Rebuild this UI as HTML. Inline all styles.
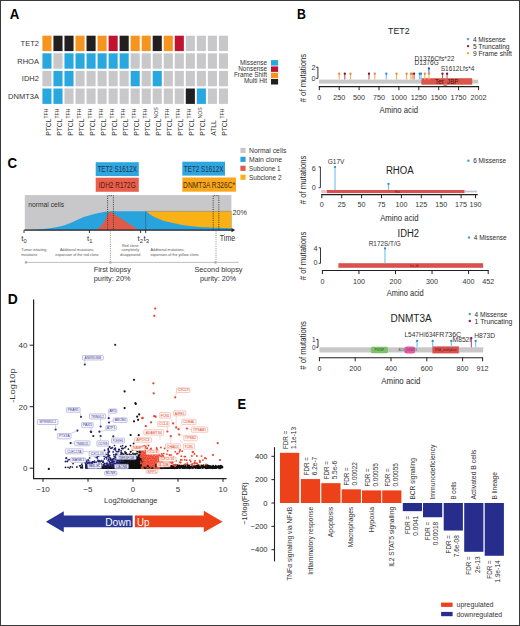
<!DOCTYPE html>
<html><head><meta charset="utf-8"><title>figure</title>
<style>
html,body{margin:0;padding:0;background:#fff;overflow:hidden;}
svg{display:block;font-family:"Liberation Sans",sans-serif;}
</style></head>
<body>
<svg width="520" height="626" viewBox="0 0 520 626">
<rect x="0" y="0" width="520" height="626" fill="#fff"/>
<g id="panelA">
<text x="9.8" y="18.75" font-size="14" font-weight="bold" textLength="9.6" lengthAdjust="spacingAndGlyphs">A</text>
<text x="38.9" y="46" font-size="7.5" text-anchor="end" fill="#333">TET2</text>
<rect x="42.4" y="35.7" width="9.1" height="15.4" fill="#f7941d"/>
<rect x="53.43" y="35.7" width="9.1" height="15.4" fill="#231f20"/>
<rect x="64.46" y="35.7" width="9.1" height="15.4" fill="#231f20"/>
<rect x="75.49" y="35.7" width="9.1" height="15.4" fill="#f7941d"/>
<rect x="86.52" y="35.7" width="9.1" height="15.4" fill="#231f20"/>
<rect x="97.55" y="35.7" width="9.1" height="15.4" fill="#f7941d"/>
<rect x="108.58" y="35.7" width="9.1" height="15.4" fill="#c1132f"/>
<rect x="119.61" y="35.7" width="9.1" height="15.4" fill="#231f20"/>
<rect x="130.64" y="35.7" width="9.1" height="15.4" fill="#f7941d"/>
<rect x="141.67" y="35.7" width="9.1" height="15.4" fill="#f7941d"/>
<rect x="152.7" y="35.7" width="9.1" height="15.4" fill="#231f20"/>
<rect x="163.73" y="35.7" width="9.1" height="15.4" fill="#f7941d"/>
<rect x="174.76" y="35.7" width="9.1" height="15.4" fill="#c1132f"/>
<rect x="185.79" y="35.7" width="9.1" height="15.4" fill="#c8c8ca"/>
<rect x="196.82" y="35.7" width="9.1" height="15.4" fill="#c8c8ca"/>
<rect x="207.85" y="35.7" width="9.1" height="15.4" fill="#c8c8ca"/>
<rect x="218.88" y="35.7" width="9.1" height="15.4" fill="#c8c8ca"/>
<text x="38.9" y="63.6" font-size="7.5" text-anchor="end" fill="#333">RHOA</text>
<rect x="42.4" y="53.3" width="9.1" height="15.4" fill="#29a8e0"/>
<rect x="53.43" y="53.3" width="9.1" height="15.4" fill="#c8c8ca"/>
<rect x="64.46" y="53.3" width="9.1" height="15.4" fill="#29a8e0"/>
<rect x="75.49" y="53.3" width="9.1" height="15.4" fill="#29a8e0"/>
<rect x="86.52" y="53.3" width="9.1" height="15.4" fill="#29a8e0"/>
<rect x="97.55" y="53.3" width="9.1" height="15.4" fill="#29a8e0"/>
<rect x="108.58" y="53.3" width="9.1" height="15.4" fill="#29a8e0"/>
<rect x="119.61" y="53.3" width="9.1" height="15.4" fill="#29a8e0"/>
<rect x="130.64" y="53.3" width="9.1" height="15.4" fill="#c8c8ca"/>
<rect x="141.67" y="53.3" width="9.1" height="15.4" fill="#c8c8ca"/>
<rect x="152.7" y="53.3" width="9.1" height="15.4" fill="#c8c8ca"/>
<rect x="163.73" y="53.3" width="9.1" height="15.4" fill="#c8c8ca"/>
<rect x="174.76" y="53.3" width="9.1" height="15.4" fill="#c8c8ca"/>
<rect x="185.79" y="53.3" width="9.1" height="15.4" fill="#c8c8ca"/>
<rect x="196.82" y="53.3" width="9.1" height="15.4" fill="#c8c8ca"/>
<rect x="207.85" y="53.3" width="9.1" height="15.4" fill="#c8c8ca"/>
<rect x="218.88" y="53.3" width="9.1" height="15.4" fill="#c8c8ca"/>
<text x="38.9" y="81.2" font-size="7.5" text-anchor="end" fill="#333">IDH2</text>
<rect x="42.4" y="70.9" width="9.1" height="15.4" fill="#c8c8ca"/>
<rect x="53.43" y="70.9" width="9.1" height="15.4" fill="#29a8e0"/>
<rect x="64.46" y="70.9" width="9.1" height="15.4" fill="#29a8e0"/>
<rect x="75.49" y="70.9" width="9.1" height="15.4" fill="#c8c8ca"/>
<rect x="86.52" y="70.9" width="9.1" height="15.4" fill="#c8c8ca"/>
<rect x="97.55" y="70.9" width="9.1" height="15.4" fill="#c8c8ca"/>
<rect x="108.58" y="70.9" width="9.1" height="15.4" fill="#c8c8ca"/>
<rect x="119.61" y="70.9" width="9.1" height="15.4" fill="#c8c8ca"/>
<rect x="130.64" y="70.9" width="9.1" height="15.4" fill="#29a8e0"/>
<rect x="141.67" y="70.9" width="9.1" height="15.4" fill="#c8c8ca"/>
<rect x="152.7" y="70.9" width="9.1" height="15.4" fill="#29a8e0"/>
<rect x="163.73" y="70.9" width="9.1" height="15.4" fill="#c8c8ca"/>
<rect x="174.76" y="70.9" width="9.1" height="15.4" fill="#c8c8ca"/>
<rect x="185.79" y="70.9" width="9.1" height="15.4" fill="#c8c8ca"/>
<rect x="196.82" y="70.9" width="9.1" height="15.4" fill="#c8c8ca"/>
<rect x="207.85" y="70.9" width="9.1" height="15.4" fill="#c8c8ca"/>
<rect x="218.88" y="70.9" width="9.1" height="15.4" fill="#c8c8ca"/>
<text x="38.9" y="98.8" font-size="7.5" text-anchor="end" fill="#333">DNMT3A</text>
<rect x="42.4" y="88.5" width="9.1" height="15.4" fill="#29a8e0"/>
<rect x="53.43" y="88.5" width="9.1" height="15.4" fill="#29a8e0"/>
<rect x="64.46" y="88.5" width="9.1" height="15.4" fill="#c8c8ca"/>
<rect x="75.49" y="88.5" width="9.1" height="15.4" fill="#c8c8ca"/>
<rect x="86.52" y="88.5" width="9.1" height="15.4" fill="#c8c8ca"/>
<rect x="97.55" y="88.5" width="9.1" height="15.4" fill="#c8c8ca"/>
<rect x="108.58" y="88.5" width="9.1" height="15.4" fill="#c8c8ca"/>
<rect x="119.61" y="88.5" width="9.1" height="15.4" fill="#c8c8ca"/>
<rect x="130.64" y="88.5" width="9.1" height="15.4" fill="#c8c8ca"/>
<rect x="141.67" y="88.5" width="9.1" height="15.4" fill="#c8c8ca"/>
<rect x="152.7" y="88.5" width="9.1" height="15.4" fill="#c8c8ca"/>
<rect x="163.73" y="88.5" width="9.1" height="15.4" fill="#c8c8ca"/>
<rect x="174.76" y="88.5" width="9.1" height="15.4" fill="#c8c8ca"/>
<rect x="185.79" y="88.5" width="9.1" height="15.4" fill="#231f20"/>
<rect x="196.82" y="88.5" width="9.1" height="15.4" fill="#29a8e0"/>
<rect x="207.85" y="88.5" width="9.1" height="15.4" fill="#c8c8ca"/>
<rect x="218.88" y="88.5" width="9.1" height="15.4" fill="#c8c8ca"/>
<text transform="translate(50.55 135.8) rotate(-90)" font-size="7" fill="#333"><tspan textLength="17.2" lengthAdjust="spacingAndGlyphs">PTCL</tspan><tspan font-size="5.2" dy="-2.6" textLength="10.2" lengthAdjust="spacingAndGlyphs">TFH</tspan></text>
<text transform="translate(61.58 135.8) rotate(-90)" font-size="7" fill="#333"><tspan textLength="17.2" lengthAdjust="spacingAndGlyphs">PTCL</tspan><tspan font-size="5.2" dy="-2.6" textLength="10.2" lengthAdjust="spacingAndGlyphs">TFH</tspan></text>
<text transform="translate(72.61 135.8) rotate(-90)" font-size="7" fill="#333"><tspan textLength="17.2" lengthAdjust="spacingAndGlyphs">PTCL</tspan><tspan font-size="5.2" dy="-2.6" textLength="10.2" lengthAdjust="spacingAndGlyphs">TFH</tspan></text>
<text transform="translate(83.64 135.8) rotate(-90)" font-size="7" fill="#333"><tspan textLength="17.2" lengthAdjust="spacingAndGlyphs">PTCL</tspan><tspan font-size="5.2" dy="-2.6" textLength="10.2" lengthAdjust="spacingAndGlyphs">TFH</tspan></text>
<text transform="translate(94.67 135.8) rotate(-90)" font-size="7" fill="#333"><tspan textLength="17.2" lengthAdjust="spacingAndGlyphs">PTCL</tspan><tspan font-size="5.2" dy="-2.6" textLength="10.2" lengthAdjust="spacingAndGlyphs">TFH</tspan></text>
<text transform="translate(105.7 135.8) rotate(-90)" font-size="7" fill="#333"><tspan textLength="17.2" lengthAdjust="spacingAndGlyphs">PTCL</tspan><tspan font-size="5.2" dy="-2.6" textLength="10.2" lengthAdjust="spacingAndGlyphs">TFH</tspan></text>
<text transform="translate(116.73 135.8) rotate(-90)" font-size="7" fill="#333"><tspan textLength="17.2" lengthAdjust="spacingAndGlyphs">PTCL</tspan><tspan font-size="5.2" dy="-2.6" textLength="10.2" lengthAdjust="spacingAndGlyphs">TFH</tspan></text>
<text transform="translate(127.76 135.8) rotate(-90)" font-size="7" fill="#333"><tspan textLength="17.2" lengthAdjust="spacingAndGlyphs">PTCL</tspan><tspan font-size="5.2" dy="-2.6" textLength="10.2" lengthAdjust="spacingAndGlyphs">TFH</tspan></text>
<text transform="translate(138.79 135.8) rotate(-90)" font-size="7" fill="#333"><tspan textLength="17.2" lengthAdjust="spacingAndGlyphs">PTCL</tspan><tspan font-size="5.2" dy="-2.6" textLength="10.2" lengthAdjust="spacingAndGlyphs">TFH</tspan></text>
<text transform="translate(149.82 135.8) rotate(-90)" font-size="7" fill="#333"><tspan textLength="17.2" lengthAdjust="spacingAndGlyphs">PTCL</tspan><tspan font-size="5.2" dy="-2.6" textLength="10.2" lengthAdjust="spacingAndGlyphs">TFH</tspan></text>
<text transform="translate(160.85 135.8) rotate(-90)" font-size="7" fill="#333"><tspan textLength="17.2" lengthAdjust="spacingAndGlyphs">PTCL</tspan><tspan font-size="5.2" dy="-2.6">NOS</tspan></text>
<text transform="translate(171.88 135.8) rotate(-90)" font-size="7" fill="#333"><tspan textLength="17.2" lengthAdjust="spacingAndGlyphs">PTCL</tspan><tspan font-size="5.2" dy="-2.6" textLength="10.2" lengthAdjust="spacingAndGlyphs">TFH</tspan></text>
<text transform="translate(182.91 135.8) rotate(-90)" font-size="7" fill="#333"><tspan textLength="17.2" lengthAdjust="spacingAndGlyphs">PTCL</tspan><tspan font-size="5.2" dy="-2.6" textLength="10.2" lengthAdjust="spacingAndGlyphs">TFH</tspan></text>
<text transform="translate(193.94 135.8) rotate(-90)" font-size="7" fill="#333"><tspan textLength="17.2" lengthAdjust="spacingAndGlyphs">PTCL</tspan><tspan font-size="5.2" dy="-2.6" textLength="10.2" lengthAdjust="spacingAndGlyphs">TFH</tspan></text>
<text transform="translate(204.97 135.8) rotate(-90)" font-size="7" fill="#333"><tspan textLength="17.2" lengthAdjust="spacingAndGlyphs">PTCL</tspan><tspan font-size="5.2" dy="-2.6">NOS</tspan></text>
<text transform="translate(216 135.8) rotate(-90)" font-size="7" fill="#333" textLength="15.5" lengthAdjust="spacingAndGlyphs">ATLL</text>
<text transform="translate(227.03 135.8) rotate(-90)" font-size="7" fill="#333"><tspan textLength="17.2" lengthAdjust="spacingAndGlyphs">PTCL</tspan><tspan font-size="5.2" dy="-2.6" textLength="10.2" lengthAdjust="spacingAndGlyphs">TFH</tspan></text>
<text x="267" y="64.6" font-size="6.4" text-anchor="end" fill="#333">Missense</text>
<text x="267" y="70.8" font-size="6.4" text-anchor="end" fill="#333">Nonsense</text>
<text x="267" y="76.7" font-size="6.4" text-anchor="end" fill="#333">Frame Shift</text>
<text x="267" y="82.7" font-size="6.4" text-anchor="end" fill="#333">Multi Hit</text>
<rect x="271" y="60.1" width="7.1" height="5.5" fill="#29a8e0"/>
<rect x="271" y="66.4" width="7.1" height="5.5" fill="#c1132f"/>
<rect x="271" y="72.7" width="7.1" height="5.5" fill="#f7941d"/>
<rect x="271" y="79" width="7.1" height="5.5" fill="#231f20"/>
</g>
<g id="panelB">
<text x="297" y="18.8" font-size="14" font-weight="bold" textLength="8.9" lengthAdjust="spacingAndGlyphs">B</text>
<text x="388.1" y="33.8" font-size="9.8" fill="#222" textLength="21.5" lengthAdjust="spacingAndGlyphs">TET2</text>
<circle cx="468.1" cy="39.1" r="1.2" fill="#3aa6dc"/>
<text x="472.9" y="41.7" font-size="7.3" fill="#2a2a2a" textLength="32.8" lengthAdjust="spacingAndGlyphs">4 Missense</text>
<circle cx="468.1" cy="46.1" r="1.2" fill="#9e1b32"/>
<text x="472.9" y="48.7" font-size="7.3" fill="#2a2a2a" textLength="36.7" lengthAdjust="spacingAndGlyphs">5 Truncating</text>
<circle cx="468.1" cy="53.1" r="1.2" fill="#f4a43a"/>
<text x="472.9" y="55.7" font-size="7.3" fill="#2a2a2a" textLength="39" lengthAdjust="spacingAndGlyphs">9 Frame shift</text>
<text transform="translate(305.6 78.1) rotate(-90)" font-size="8.8" text-anchor="middle" fill="#2a2a2a" textLength="48.5" lengthAdjust="spacingAndGlyphs"># of mutations</text>
<text x="313.5" y="70.2" font-size="7.3" text-anchor="middle" fill="#333">2</text>
<text x="313.5" y="80.9" font-size="7.3" text-anchor="middle" fill="#333">0</text>
<path d="M316.1 67.2H317.9V78.4H316.1" fill="none" stroke="#231f20" stroke-width="0.9"/>
<rect x="319" y="79.6" width="159.2" height="4" fill="#c8c8c8"/>
<rect x="421.4" y="78.2" width="50.8" height="6.5" fill="#db5548"/>
<text x="446.8" y="83.7" font-size="6.8" text-anchor="middle" fill="#4a1010" textLength="23.5" lengthAdjust="spacingAndGlyphs">Tet_JBP</text>
<line x1="318.8" y1="86.6" x2="479.1" y2="86.6" stroke="#231f20" stroke-width="1.1"/>
<line x1="319.3" y1="86.6" x2="319.3" y2="90.2" stroke="#231f20" stroke-width="1"/>
<text x="319.3" y="99.8" font-size="7.2" text-anchor="middle" fill="#333" textLength="4" lengthAdjust="spacingAndGlyphs">0</text>
<line x1="339.2" y1="86.6" x2="339.2" y2="90.2" stroke="#231f20" stroke-width="1"/>
<text x="339.2" y="99.8" font-size="7.2" text-anchor="middle" fill="#333" textLength="12" lengthAdjust="spacingAndGlyphs">250</text>
<line x1="359.1" y1="86.6" x2="359.1" y2="90.2" stroke="#231f20" stroke-width="1"/>
<text x="359.1" y="99.8" font-size="7.2" text-anchor="middle" fill="#333" textLength="12" lengthAdjust="spacingAndGlyphs">500</text>
<line x1="379" y1="86.6" x2="379" y2="90.2" stroke="#231f20" stroke-width="1"/>
<text x="379" y="99.8" font-size="7.2" text-anchor="middle" fill="#333" textLength="12" lengthAdjust="spacingAndGlyphs">750</text>
<line x1="398.9" y1="86.6" x2="398.9" y2="90.2" stroke="#231f20" stroke-width="1"/>
<text x="398.9" y="99.8" font-size="7.2" text-anchor="middle" fill="#333" textLength="16" lengthAdjust="spacingAndGlyphs">1000</text>
<line x1="418.8" y1="86.6" x2="418.8" y2="90.2" stroke="#231f20" stroke-width="1"/>
<text x="418.8" y="99.8" font-size="7.2" text-anchor="middle" fill="#333" textLength="16" lengthAdjust="spacingAndGlyphs">1250</text>
<line x1="438.7" y1="86.6" x2="438.7" y2="90.2" stroke="#231f20" stroke-width="1"/>
<text x="438.7" y="99.8" font-size="7.2" text-anchor="middle" fill="#333" textLength="16" lengthAdjust="spacingAndGlyphs">1500</text>
<line x1="458.6" y1="86.6" x2="458.6" y2="90.2" stroke="#231f20" stroke-width="1"/>
<text x="458.6" y="99.8" font-size="7.2" text-anchor="middle" fill="#333" textLength="16" lengthAdjust="spacingAndGlyphs">1750</text>
<line x1="478.6" y1="86.6" x2="478.6" y2="90.2" stroke="#231f20" stroke-width="1"/>
<text x="478.6" y="99.8" font-size="7.2" text-anchor="middle" fill="#333" textLength="16" lengthAdjust="spacingAndGlyphs">2002</text>
<text x="379.6" y="113" font-size="9.2" fill="#2a2a2a" textLength="38.4" lengthAdjust="spacingAndGlyphs">Amino acid</text>
<line x1="339.2" y1="79.6" x2="339.2" y2="74.2" stroke="#f3b46a" stroke-width="1.2"/>
<circle cx="339.2" cy="73.74" r="1.15" fill="#e08a3a"/>
<line x1="344.8" y1="79.6" x2="344.8" y2="74.2" stroke="#c46a7c" stroke-width="1.2"/>
<circle cx="344.8" cy="73.74" r="1.15" fill="#7d1424"/>
<line x1="350.5" y1="79.6" x2="350.5" y2="74.2" stroke="#f3b46a" stroke-width="1.2"/>
<circle cx="350.5" cy="73.74" r="1.15" fill="#e08a3a"/>
<line x1="369" y1="79.6" x2="369" y2="74.2" stroke="#c46a7c" stroke-width="1.2"/>
<circle cx="369" cy="73.74" r="1.15" fill="#7d1424"/>
<line x1="374.8" y1="79.6" x2="374.8" y2="74.2" stroke="#f3b46a" stroke-width="1.2"/>
<circle cx="374.8" cy="73.74" r="1.15" fill="#e08a3a"/>
<line x1="386.3" y1="79.6" x2="386.3" y2="74.2" stroke="#7cc6ec" stroke-width="1.2"/>
<circle cx="386.3" cy="73.74" r="1.15" fill="#2a8cc8"/>
<line x1="396.5" y1="79.6" x2="396.5" y2="74.2" stroke="#f3b46a" stroke-width="1.2"/>
<circle cx="396.5" cy="73.74" r="1.15" fill="#e08a3a"/>
<line x1="406.6" y1="79.6" x2="406.6" y2="74.2" stroke="#f3b46a" stroke-width="1.2"/>
<circle cx="406.6" cy="73.74" r="1.15" fill="#e08a3a"/>
<line x1="410.9" y1="79.6" x2="410.9" y2="74.2" stroke="#f3b46a" stroke-width="1.2"/>
<circle cx="410.9" cy="73.74" r="1.15" fill="#e08a3a"/>
<line x1="412.3" y1="79.6" x2="412.3" y2="74.2" stroke="#f3b46a" stroke-width="1.2"/>
<circle cx="412.3" cy="73.74" r="1.15" fill="#e08a3a"/>
<line x1="414.1" y1="79.6" x2="414.1" y2="74.2" stroke="#c46a7c" stroke-width="1.2"/>
<circle cx="414.1" cy="73.74" r="1.15" fill="#7d1424"/>
<line x1="419.6" y1="79.6" x2="419.6" y2="74.2" stroke="#7cc6ec" stroke-width="1.2"/>
<circle cx="419.6" cy="73.74" r="1.15" fill="#2a8cc8"/>
<line x1="421" y1="79.6" x2="421" y2="74.2" stroke="#7cc6ec" stroke-width="1.2"/>
<circle cx="421" cy="73.74" r="1.15" fill="#2a8cc8"/>
<line x1="424.8" y1="79.6" x2="424.8" y2="74.2" stroke="#f3b46a" stroke-width="1.2"/>
<circle cx="424.8" cy="73.74" r="1.15" fill="#e08a3a"/>
<line x1="442.5" y1="79.6" x2="442.5" y2="74.2" stroke="#c46a7c" stroke-width="1.2"/>
<circle cx="442.5" cy="73.74" r="1.15" fill="#7d1424"/>
<line x1="447.1" y1="79.6" x2="447.1" y2="74.2" stroke="#c46a7c" stroke-width="1.2"/>
<circle cx="447.1" cy="73.74" r="1.15" fill="#7d1424"/>
<line x1="428.9" y1="73.5" x2="428.9" y2="68.85" stroke="#5a86c0" stroke-width="1.2"/>
<circle cx="428.9" cy="68.39" r="1.15" fill="#2f5a96"/>
<line x1="428.9" y1="79.6" x2="428.9" y2="74.2" stroke="#f3b46a" stroke-width="1.2"/>
<circle cx="428.9" cy="73.74" r="1.15" fill="#e08a3a"/>
<text x="414.5" y="60.8" font-size="7" fill="#333" textLength="39.9" lengthAdjust="spacingAndGlyphs">D1376Cfs*22</text>
<text x="414.5" y="65.2" font-size="7" fill="#333" textLength="24.3" lengthAdjust="spacingAndGlyphs">D1376G</text>
<text x="440.7" y="70.5" font-size="7" fill="#333" textLength="33.6" lengthAdjust="spacingAndGlyphs">S1612Lfs*4</text>
<text x="385.9" y="174" font-size="10" fill="#222" textLength="27.8" lengthAdjust="spacingAndGlyphs">RHOA</text>
<circle cx="468.4" cy="160.8" r="1.2" fill="#3aa6dc"/>
<text x="473.2" y="163.4" font-size="7.3" fill="#2a2a2a" textLength="32.9" lengthAdjust="spacingAndGlyphs">6 Missense</text>
<text transform="translate(305.6 179.9) rotate(-90)" font-size="8.8" text-anchor="middle" fill="#2a2a2a" textLength="48.5" lengthAdjust="spacingAndGlyphs"># of mutations</text>
<text x="313.8" y="171.4" font-size="7.2" text-anchor="middle" fill="#333">6</text>
<text x="313.8" y="190.2" font-size="7.2" text-anchor="middle" fill="#333">0</text>
<path d="M318.6 166.9H320.4V187.7H318.6" fill="none" stroke="#231f20" stroke-width="0.9"/>
<rect x="321.2" y="190" width="6" height="3.1" fill="#e9c4c4"/>
<rect x="327" y="190" width="137.6" height="3.1" fill="#d9504e"/>
<rect x="464.6" y="190.6" width="12.4" height="1.8" fill="#c9c3d6"/>
<text x="395" y="192.6" font-size="2.8" fill="#6a1a1a">Ras</text>
<line x1="321.3" y1="194.6" x2="477.7" y2="194.6" stroke="#231f20" stroke-width="1.1"/>
<line x1="321.8" y1="194.6" x2="321.8" y2="198.2" stroke="#231f20" stroke-width="1"/>
<text x="321.8" y="207.4" font-size="7.2" text-anchor="middle" fill="#333" textLength="4" lengthAdjust="spacingAndGlyphs">0</text>
<line x1="341.7" y1="194.6" x2="341.7" y2="198.2" stroke="#231f20" stroke-width="1"/>
<text x="341.7" y="207.4" font-size="7.2" text-anchor="middle" fill="#333" textLength="8" lengthAdjust="spacingAndGlyphs">25</text>
<line x1="361.6" y1="194.6" x2="361.6" y2="198.2" stroke="#231f20" stroke-width="1"/>
<text x="361.6" y="207.4" font-size="7.2" text-anchor="middle" fill="#333" textLength="8" lengthAdjust="spacingAndGlyphs">50</text>
<line x1="381.5" y1="194.6" x2="381.5" y2="198.2" stroke="#231f20" stroke-width="1"/>
<text x="381.5" y="207.4" font-size="7.2" text-anchor="middle" fill="#333" textLength="8" lengthAdjust="spacingAndGlyphs">75</text>
<line x1="401.4" y1="194.6" x2="401.4" y2="198.2" stroke="#231f20" stroke-width="1"/>
<text x="401.4" y="207.4" font-size="7.2" text-anchor="middle" fill="#333" textLength="12" lengthAdjust="spacingAndGlyphs">100</text>
<line x1="421.3" y1="194.6" x2="421.3" y2="198.2" stroke="#231f20" stroke-width="1"/>
<text x="421.3" y="207.4" font-size="7.2" text-anchor="middle" fill="#333" textLength="12" lengthAdjust="spacingAndGlyphs">125</text>
<line x1="441.2" y1="194.6" x2="441.2" y2="198.2" stroke="#231f20" stroke-width="1"/>
<text x="441.2" y="207.4" font-size="7.2" text-anchor="middle" fill="#333" textLength="12" lengthAdjust="spacingAndGlyphs">150</text>
<line x1="461.1" y1="194.6" x2="461.1" y2="198.2" stroke="#231f20" stroke-width="1"/>
<text x="461.1" y="207.4" font-size="7.2" text-anchor="middle" fill="#333" textLength="12" lengthAdjust="spacingAndGlyphs">175</text>
<line x1="475.5" y1="194.6" x2="475.5" y2="198.2" stroke="#231f20" stroke-width="1"/>
<text x="475.5" y="207.4" font-size="7.2" text-anchor="middle" fill="#333" textLength="12" lengthAdjust="spacingAndGlyphs">190</text>
<text x="380.2" y="221" font-size="9.2" fill="#2a2a2a" textLength="38.4" lengthAdjust="spacingAndGlyphs">Amino acid</text>
<line x1="335" y1="190" x2="335" y2="167.55" stroke="#7cc6ec" stroke-width="1.2"/>
<circle cx="335" cy="167.09" r="1.15" fill="#2a8cc8"/>
<line x1="388.5" y1="190" x2="388.5" y2="184.35" stroke="#7cc6ec" stroke-width="1.2"/>
<circle cx="388.5" cy="183.89" r="1.15" fill="#2a8cc8"/>
<text x="327.7" y="164.3" font-size="7" fill="#333" textLength="16.8" lengthAdjust="spacingAndGlyphs">G17V</text>
<text x="397.5" y="236.5" font-size="10" fill="#222" textLength="21.6" lengthAdjust="spacingAndGlyphs">IDH2</text>
<circle cx="469" cy="237.5" r="1.2" fill="#3aa6dc"/>
<text x="473.8" y="240.1" font-size="7.3" fill="#2a2a2a" textLength="32.8" lengthAdjust="spacingAndGlyphs">4 Missense</text>
<text transform="translate(305.6 256) rotate(-90)" font-size="8.8" text-anchor="middle" fill="#2a2a2a" textLength="48.5" lengthAdjust="spacingAndGlyphs"># of mutations</text>
<text x="315.5" y="251.3" font-size="7.2" text-anchor="middle" fill="#333">4</text>
<text x="315.5" y="265.4" font-size="7.2" text-anchor="middle" fill="#333">0</text>
<path d="M318.7 247.8H320.5V263.3H318.7" fill="none" stroke="#231f20" stroke-width="0.9"/>
<rect x="338.4" y="263.2" width="144.7" height="4.6" fill="#d9504e"/>
<text x="410" y="266.5" font-size="3" fill="#6a1a1a">Iso_dh</text>
<line x1="321.9" y1="270.5" x2="488.7" y2="270.5" stroke="#231f20" stroke-width="1.1"/>
<line x1="322.4" y1="270.5" x2="322.4" y2="274.1" stroke="#231f20" stroke-width="1"/>
<text x="322.4" y="283.9" font-size="7.2" text-anchor="middle" fill="#333" textLength="4" lengthAdjust="spacingAndGlyphs">0</text>
<line x1="358.95" y1="270.5" x2="358.95" y2="274.1" stroke="#231f20" stroke-width="1"/>
<text x="358.95" y="283.9" font-size="7.2" text-anchor="middle" fill="#333" textLength="12" lengthAdjust="spacingAndGlyphs">100</text>
<line x1="395.5" y1="270.5" x2="395.5" y2="274.1" stroke="#231f20" stroke-width="1"/>
<text x="395.5" y="283.9" font-size="7.2" text-anchor="middle" fill="#333" textLength="12" lengthAdjust="spacingAndGlyphs">200</text>
<line x1="432.05" y1="270.5" x2="432.05" y2="274.1" stroke="#231f20" stroke-width="1"/>
<text x="432.05" y="283.9" font-size="7.2" text-anchor="middle" fill="#333" textLength="12" lengthAdjust="spacingAndGlyphs">300</text>
<line x1="468.6" y1="270.5" x2="468.6" y2="274.1" stroke="#231f20" stroke-width="1"/>
<text x="468.6" y="283.9" font-size="7.2" text-anchor="middle" fill="#333" textLength="12" lengthAdjust="spacingAndGlyphs">400</text>
<line x1="488.2" y1="270.5" x2="488.2" y2="274.1" stroke="#231f20" stroke-width="1"/>
<text x="488.2" y="283.9" font-size="7.2" text-anchor="middle" fill="#333" textLength="12" lengthAdjust="spacingAndGlyphs">452</text>
<text x="386.7" y="296" font-size="9.2" fill="#2a2a2a" textLength="37" lengthAdjust="spacingAndGlyphs">Amino acid</text>
<line x1="385" y1="263.2" x2="385" y2="248.75" stroke="#7cc6ec" stroke-width="1.2"/>
<circle cx="385" cy="248.29" r="1.15" fill="#2a8cc8"/>
<text x="368.7" y="246.3" font-size="6.6" fill="#333" textLength="32.1" lengthAdjust="spacingAndGlyphs">R172S/T/G</text>
<text x="390.5" y="321.8" font-size="10" fill="#222" textLength="41.3" lengthAdjust="spacingAndGlyphs">DNMT3A</text>
<circle cx="469.8" cy="314" r="1.2" fill="#3aa6dc"/>
<text x="474.6" y="316.6" font-size="7" fill="#2a2a2a" textLength="32.8" lengthAdjust="spacingAndGlyphs">4 Missense</text>
<circle cx="469.8" cy="321" r="1.2" fill="#a3194f"/>
<text x="474.6" y="323.6" font-size="7" fill="#2a2a2a" textLength="37.7" lengthAdjust="spacingAndGlyphs">1 Truncating</text>
<text transform="translate(305.6 345.4) rotate(-90)" font-size="8.8" text-anchor="middle" fill="#2a2a2a" textLength="48.5" lengthAdjust="spacingAndGlyphs"># of mutations</text>
<text x="313.9" y="341.8" font-size="6.4" text-anchor="middle" fill="#333">1</text>
<text x="313.9" y="349.6" font-size="6.4" text-anchor="middle" fill="#333">0</text>
<path d="M316.2 339.4H318V347.3H316.2" fill="none" stroke="#231f20" stroke-width="0.9"/>
<rect x="319.4" y="347.3" width="163.8" height="5.2" fill="#c8c8c8"/>
<rect x="370.9" y="346.8" width="17.0" height="6.4" rx="1.5" fill="#7cc26a"/>
<text x="379.4" y="351.2" font-size="3" text-anchor="middle" fill="#2c5a20">PWWP</text>
<rect x="404.4" y="346.4" width="10.8" height="7.0" rx="2.5" fill="#e85aa0"/>
<text x="398.6" y="351" font-size="3" fill="#555">ADD_DNMT3</text>
<rect x="432.4" y="346.4" width="26.4" height="7" fill="#d9504e"/>
<text x="445.6" y="351" font-size="3" text-anchor="middle" fill="#6a1a1a">DNA_methylase</text>
<line x1="318.9" y1="357.7" x2="483.1" y2="357.7" stroke="#231f20" stroke-width="1.1"/>
<line x1="319.4" y1="357.7" x2="319.4" y2="361.3" stroke="#231f20" stroke-width="1"/>
<text x="319.4" y="370.6" font-size="7.2" text-anchor="middle" fill="#333" textLength="4" lengthAdjust="spacingAndGlyphs">0</text>
<line x1="355.2" y1="357.7" x2="355.2" y2="361.3" stroke="#231f20" stroke-width="1"/>
<text x="355.2" y="370.6" font-size="7.2" text-anchor="middle" fill="#333" textLength="12" lengthAdjust="spacingAndGlyphs">200</text>
<line x1="391" y1="357.7" x2="391" y2="361.3" stroke="#231f20" stroke-width="1"/>
<text x="391" y="370.6" font-size="7.2" text-anchor="middle" fill="#333" textLength="12" lengthAdjust="spacingAndGlyphs">400</text>
<line x1="426.8" y1="357.7" x2="426.8" y2="361.3" stroke="#231f20" stroke-width="1"/>
<text x="426.8" y="370.6" font-size="7.2" text-anchor="middle" fill="#333" textLength="12" lengthAdjust="spacingAndGlyphs">600</text>
<line x1="462.6" y1="357.7" x2="462.6" y2="361.3" stroke="#231f20" stroke-width="1"/>
<text x="462.6" y="370.6" font-size="7.2" text-anchor="middle" fill="#333" textLength="12" lengthAdjust="spacingAndGlyphs">800</text>
<line x1="482.6" y1="357.7" x2="482.6" y2="361.3" stroke="#231f20" stroke-width="1"/>
<text x="482.6" y="370.6" font-size="7.2" text-anchor="middle" fill="#333" textLength="12" lengthAdjust="spacingAndGlyphs">912</text>
<text x="381.3" y="384.2" font-size="9.2" fill="#2a2a2a" textLength="39.1" lengthAdjust="spacingAndGlyphs">Amino acid</text>
<line x1="417.1" y1="347.3" x2="417.1" y2="341.35" stroke="#7cc6ec" stroke-width="1.2"/>
<circle cx="417.1" cy="340.89" r="1.15" fill="#2a8cc8"/>
<line x1="432.7" y1="347.3" x2="432.7" y2="341.35" stroke="#7cc6ec" stroke-width="1.2"/>
<circle cx="432.7" cy="340.89" r="1.15" fill="#2a8cc8"/>
<line x1="451.3" y1="347.3" x2="451.3" y2="341.35" stroke="#7cc6ec" stroke-width="1.2"/>
<circle cx="451.3" cy="340.89" r="1.15" fill="#2a8cc8"/>
<line x1="475.7" y1="347.3" x2="475.7" y2="341.35" stroke="#7cc6ec" stroke-width="1.2"/>
<circle cx="475.7" cy="340.89" r="1.15" fill="#2a8cc8"/>
<line x1="471.4" y1="347.3" x2="471.4" y2="338.55" stroke="#c45a86" stroke-width="1.2"/>
<circle cx="471.4" cy="338.09" r="1.15" fill="#8e1444"/>
<text x="404.4" y="337" font-size="6.6" fill="#333" textLength="19.2" lengthAdjust="spacingAndGlyphs">L547H</text>
<text x="423.9" y="337" font-size="6.6" fill="#333" textLength="15.4" lengthAdjust="spacingAndGlyphs">I634F</text>
<text x="439.3" y="337" font-size="6.6" fill="#333" textLength="21.9" lengthAdjust="spacingAndGlyphs">R736C</text>
<text x="452.6" y="342.3" font-size="6.6" fill="#333" textLength="18.6" lengthAdjust="spacingAndGlyphs">M852I</text>
<text x="474.3" y="337.6" font-size="6.6" fill="#333" textLength="20.8" lengthAdjust="spacingAndGlyphs">H873D</text>
</g>
<g id="panelC">
<text x="7.6" y="168.3" font-size="14.2" font-weight="bold" textLength="9.6" lengthAdjust="spacingAndGlyphs">C</text>
<rect x="95.7" y="162.2" width="43.1" height="13.9" fill="#2fa6df"/>
<text x="117.2" y="171.8" font-size="8.2" text-anchor="middle" fill="#1d3550" textLength="39.5" lengthAdjust="spacingAndGlyphs">TET2 S1612X</text>
<rect x="95.7" y="177.7" width="43.1" height="14.1" fill="#e8604c"/>
<text x="117.2" y="187.5" font-size="8.2" text-anchor="middle" fill="#5a1a10" textLength="37" lengthAdjust="spacingAndGlyphs">IDH2 R172G</text>
<rect x="182.3" y="161.7" width="42.7" height="13.9" fill="#2fa6df"/>
<text x="203.6" y="171.5" font-size="8.2" text-anchor="middle" fill="#1d3550" textLength="39.5" lengthAdjust="spacingAndGlyphs">TET2 S1612X</text>
<rect x="182.3" y="177.5" width="53.7" height="14.2" fill="#f9a81b"/>
<text x="209.1" y="187.6" font-size="8.2" text-anchor="middle" fill="#4a2a05" textLength="52" lengthAdjust="spacingAndGlyphs">DNMT3A R326C*</text>
<rect x="24.8" y="195.1" width="206.6" height="34.8" fill="#c8c8ca"/>
<text x="28.3" y="207.3" font-size="7.4" fill="#333" textLength="35.8" lengthAdjust="spacingAndGlyphs">normal cells</text>
<path d="M25.00 229.80 C27.50 229.72 35.83 229.57 40.00 229.30 C44.17 229.03 46.90 228.62 50.00 228.20 C53.10 227.78 55.72 227.47 58.60 226.80 C61.48 226.13 64.42 225.27 67.30 224.20 C70.18 223.13 73.02 221.63 75.90 220.40 C78.78 219.17 81.72 217.83 84.60 216.80 C87.48 215.77 90.32 214.92 93.20 214.20 C96.08 213.48 99.43 212.93 101.90 212.50 C104.37 212.07 106.32 211.80 108.00 211.60 C109.68 211.40 111.33 211.35 112.00 211.30 L231.4 211.3 L231.4 229.9 L25 229.9 Z" fill="#29a3dd"/>
<path d="M95.60 229.90 C96.50 229.25 99.52 227.48 101.00 226.00 C102.48 224.52 103.57 222.58 104.50 221.00 C105.43 219.42 105.88 217.93 106.60 216.50 C107.32 215.07 108.18 213.25 108.80 212.40 C109.42 211.55 110.05 211.57 110.30 211.40 L138.6 229.9 Z" fill="#e05a4a"/>
<path d="M146.00 211.30 C146.83 211.92 148.95 213.77 151.00 215.00 C153.05 216.23 155.57 217.57 158.30 218.70 C161.03 219.83 164.37 220.95 167.40 221.80 C170.43 222.65 173.45 223.18 176.50 223.80 C179.55 224.42 182.65 225.03 185.70 225.50 C188.75 225.97 191.75 226.30 194.80 226.60 C197.85 226.90 200.97 227.10 204.00 227.30 C207.03 227.50 208.43 227.62 213.00 227.80 C217.57 227.98 228.33 228.30 231.40 228.40 L231.4 211.3 Z" fill="#f9b116"/>
<line x1="145.7" y1="211.3" x2="145.7" y2="229.9" stroke="#2a5a7a" stroke-width="0.6"/>
<line x1="146" y1="211.3" x2="231.4" y2="211.3" stroke="#a09070" stroke-width="0.5"/>
<text x="232.4" y="215" font-size="8" fill="#333" textLength="14.4" lengthAdjust="spacingAndGlyphs">20%</text>
<path d="M107.6 229.8 V195.6 H113.4 V229.8" fill="none" stroke="#333" stroke-width="0.85" stroke-dasharray="1.1 1.1"/>
<path d="M213.2 229.8 V195.6 H218.8 V229.8" fill="none" stroke="#333" stroke-width="0.85" stroke-dasharray="1.1 1.1"/>
<line x1="24.2" y1="230.1" x2="232" y2="230.1" stroke="#231f20" stroke-width="1.1"/>
<path d="M231.5 228.0 L 235.2 230.1 L 231.5 232.2 Z" fill="#231f20"/>
<line x1="24" y1="230.1" x2="24" y2="233" stroke="#231f20" stroke-width="0.9"/>
<line x1="89.4" y1="230.1" x2="89.4" y2="233" stroke="#231f20" stroke-width="0.9"/>
<line x1="140.6" y1="230.1" x2="140.6" y2="233" stroke="#231f20" stroke-width="0.9"/>
<line x1="145.7" y1="230.1" x2="145.7" y2="233" stroke="#231f20" stroke-width="0.9"/>
<line x1="110.4" y1="230.5" x2="110.4" y2="262" stroke="#444" stroke-width="0.6" stroke-dasharray="1 1.2"/>
<line x1="216" y1="230.5" x2="216" y2="261.5" stroke="#444" stroke-width="0.6" stroke-dasharray="1 1.2"/>
<text x="21.2" y="240.7" font-size="8.0" fill="#333">t<tspan font-size="5.8" dy="1.8">0</tspan></text>
<text x="87" y="240.7" font-size="8.0" fill="#333">t<tspan font-size="5.8" dy="1.8">1</tspan></text>
<text x="137.6" y="240.7" font-size="8.0" fill="#333">t<tspan font-size="5.8" dy="1.8">2</tspan></text>
<text x="143.5" y="240.7" font-size="8.0" fill="#333">t<tspan font-size="5.8" dy="1.8">3</tspan></text>
<text x="219.8" y="241" font-size="8.2" fill="#333" textLength="15.4" lengthAdjust="spacingAndGlyphs">Time</text>
<text x="21.3" y="251.2" font-size="3.7" fill="#555">Tumor initiating</text>
<text x="21.3" y="255.55" font-size="3.7" fill="#555">mutations</text>
<text x="77" y="251.2" font-size="3.7" text-anchor="middle" fill="#555">Additional mutations;</text>
<text x="77" y="255.55" font-size="3.7" text-anchor="middle" fill="#555">expansion of the red clone</text>
<text x="130.2" y="246.9" font-size="3.7" text-anchor="middle" fill="#555">Red clone</text>
<text x="130.2" y="251.25" font-size="3.7" text-anchor="middle" fill="#555">completely</text>
<text x="130.2" y="255.6" font-size="3.7" text-anchor="middle" fill="#555">disappeared</text>
<text x="150.4" y="251.2" font-size="3.7" fill="#555">Additional mutations;</text>
<text x="150.4" y="255.55" font-size="3.7" fill="#555">expansion of the yellow clone</text>
<line x1="26" y1="262.4" x2="238.8" y2="262.4" stroke="#b8b8b8" stroke-width="0.9"/>
<circle cx="26" cy="262.4" r="1.3" fill="#b0b0b0"/>
<circle cx="110.4" cy="262.4" r="1.3" fill="#b0b0b0"/>
<circle cx="215.5" cy="262.4" r="1.3" fill="#b0b0b0"/>
<text x="93.7" y="271.9" font-size="7" fill="#333" textLength="37.2" lengthAdjust="spacingAndGlyphs">First biopsy</text>
<text x="93.7" y="281.3" font-size="7" fill="#333" textLength="36.9" lengthAdjust="spacingAndGlyphs">purity: 20%</text>
<text x="194.4" y="271.9" font-size="7" fill="#333" textLength="48.1" lengthAdjust="spacingAndGlyphs">Second biopsy</text>
<text x="200" y="281.3" font-size="7" fill="#333" textLength="36.2" lengthAdjust="spacingAndGlyphs">purity: 20%</text>
<rect x="240.4" y="147.8" width="5.2" height="5.2" fill="#c8c8ca"/>
<text x="249" y="153.1" font-size="7.6" fill="#333" textLength="37.3" lengthAdjust="spacingAndGlyphs">Normal cells</text>
<rect x="240.4" y="156.75" width="5.2" height="5.2" fill="#29a3dd"/>
<text x="249" y="162.05" font-size="7.6" fill="#333" textLength="33" lengthAdjust="spacingAndGlyphs">Main clone</text>
<rect x="240.4" y="165.7" width="5.2" height="5.2" fill="#e05a4a"/>
<text x="249" y="171" font-size="7.6" fill="#333" textLength="31.5" lengthAdjust="spacingAndGlyphs">Subclone 1</text>
<rect x="240.4" y="174.65" width="5.2" height="5.2" fill="#f9b116"/>
<text x="249" y="179.95" font-size="7.6" fill="#333" textLength="32.5" lengthAdjust="spacingAndGlyphs">Subclone 2</text>
</g>
<g id="panelD">
<text x="7.8" y="303.7" font-size="14" font-weight="bold" textLength="10" lengthAdjust="spacingAndGlyphs">D</text>
<circle cx="147.7" cy="459.4" r="0.9" fill="#e8321e" stroke="#ffb8a8" stroke-width="0.15"/>
<circle cx="137.9" cy="463.5" r="0.9" fill="#111"/>
<circle cx="106.9" cy="454.3" r="0.85" fill="#1f1f6e"/>
<circle cx="129.6" cy="457.4" r="0.9" fill="#111"/>
<circle cx="80.8" cy="467.6" r="0.9" fill="#111"/>
<circle cx="108.9" cy="464.1" r="0.85" fill="#1f1f6e"/>
<circle cx="120.9" cy="464.1" r="0.9" fill="#111"/>
<circle cx="155.9" cy="468.2" r="0.9" fill="#111"/>
<circle cx="193.0" cy="467.1" r="0.95" fill="#111"/>
<circle cx="176.0" cy="466.0" r="0.9" fill="#111"/>
<circle cx="107.9" cy="456.4" r="0.85" fill="#1f1f6e"/>
<circle cx="108.9" cy="455.3" r="0.85" fill="#1f1f6e"/>
<circle cx="120.6" cy="456.4" r="0.9" fill="#111"/>
<circle cx="219.5" cy="467.7" r="0.95" fill="#111"/>
<circle cx="148.8" cy="463.5" r="0.9" fill="#e8321e" stroke="#ffb8a8" stroke-width="0.15"/>
<circle cx="124.2" cy="467.8" r="0.85" fill="#1f1f6e"/>
<circle cx="97.8" cy="466.8" r="0.9" fill="#111"/>
<circle cx="147.0" cy="465.1" r="0.9" fill="#e8321e" stroke="#ffb8a8" stroke-width="0.15"/>
<circle cx="127.8" cy="458.1" r="0.9" fill="#111"/>
<circle cx="148.8" cy="467.9" r="0.9" fill="#111"/>
<circle cx="152.8" cy="467.5" r="0.9" fill="#111"/>
<circle cx="156.9" cy="456.5" r="0.9" fill="#e8321e" stroke="#ffb8a8" stroke-width="0.15"/>
<circle cx="140.1" cy="465.2" r="0.9" fill="#111"/>
<circle cx="144.3" cy="458.6" r="0.9" fill="#e8321e" stroke="#ffb8a8" stroke-width="0.15"/>
<circle cx="141.1" cy="468.1" r="0.9" fill="#111"/>
<circle cx="132.7" cy="467.4" r="0.9" fill="#111"/>
<circle cx="118.3" cy="467.0" r="0.9" fill="#111"/>
<circle cx="139.5" cy="458.1" r="0.9" fill="#111"/>
<circle cx="123.8" cy="458.3" r="0.9" fill="#111"/>
<circle cx="138.9" cy="465.2" r="0.9" fill="#111"/>
<circle cx="143.4" cy="460.1" r="0.9" fill="#e8321e" stroke="#ffb8a8" stroke-width="0.15"/>
<circle cx="136.3" cy="460.8" r="0.9" fill="#111"/>
<circle cx="192.9" cy="467.7" r="0.95" fill="#111"/>
<circle cx="162.0" cy="463.5" r="0.9" fill="#e8321e" stroke="#ffb8a8" stroke-width="0.15"/>
<circle cx="137.9" cy="460.8" r="0.9" fill="#111"/>
<circle cx="145.7" cy="463.9" r="0.9" fill="#e8321e" stroke="#ffb8a8" stroke-width="0.15"/>
<circle cx="150.5" cy="467.9" r="0.9" fill="#111"/>
<circle cx="133.1" cy="460.9" r="0.9" fill="#111"/>
<circle cx="108.2" cy="452.0" r="0.85" fill="#1f1f6e"/>
<circle cx="173.0" cy="460.1" r="0.9" fill="#e8321e" stroke="#ffb8a8" stroke-width="0.15"/>
<circle cx="161.2" cy="467.1" r="0.9" fill="#e8321e" stroke="#ffb8a8" stroke-width="0.15"/>
<circle cx="124.7" cy="467.9" r="0.9" fill="#111"/>
<circle cx="104.4" cy="458.9" r="0.85" fill="#1f1f6e"/>
<circle cx="122.3" cy="467.5" r="0.9" fill="#111"/>
<circle cx="97.9" cy="468.2" r="0.9" fill="#111"/>
<circle cx="156.1" cy="468.0" r="0.9" fill="#111"/>
<circle cx="112.8" cy="459.2" r="0.85" fill="#1f1f6e"/>
<circle cx="145.5" cy="454.0" r="0.9" fill="#e8321e" stroke="#ffb8a8" stroke-width="0.15"/>
<circle cx="144.2" cy="467.2" r="0.9" fill="#e8321e" stroke="#ffb8a8" stroke-width="0.15"/>
<circle cx="153.7" cy="459.3" r="0.9" fill="#e8321e" stroke="#ffb8a8" stroke-width="0.15"/>
<circle cx="131.5" cy="461.4" r="0.9" fill="#111"/>
<circle cx="147.7" cy="466.6" r="0.9" fill="#e8321e" stroke="#ffb8a8" stroke-width="0.15"/>
<circle cx="82.3" cy="466.0" r="0.9" fill="#111"/>
<circle cx="155.3" cy="467.5" r="0.9" fill="#111"/>
<circle cx="145.7" cy="446.3" r="0.9" fill="#e8321e" stroke="#ffb8a8" stroke-width="0.15"/>
<circle cx="127.7" cy="464.1" r="0.9" fill="#111"/>
<circle cx="73.0" cy="463.6" r="0.85" fill="#1f1f6e"/>
<circle cx="122.0" cy="462.6" r="0.9" fill="#111"/>
<circle cx="162.4" cy="467.9" r="0.95" fill="#111"/>
<circle cx="133.3" cy="467.6" r="0.9" fill="#111"/>
<circle cx="161.5" cy="459.0" r="0.9" fill="#e8321e" stroke="#ffb8a8" stroke-width="0.15"/>
<circle cx="136.4" cy="465.6" r="0.9" fill="#111"/>
<circle cx="200.2" cy="466.0" r="0.95" fill="#111"/>
<circle cx="102.9" cy="462.2" r="0.85" fill="#1f1f6e"/>
<circle cx="107.1" cy="463.3" r="0.85" fill="#1f1f6e"/>
<circle cx="131.1" cy="458.2" r="0.9" fill="#111"/>
<circle cx="144.9" cy="467.3" r="0.9" fill="#111"/>
<circle cx="159.9" cy="464.0" r="0.9" fill="#e8321e" stroke="#ffb8a8" stroke-width="0.15"/>
<circle cx="108.7" cy="466.8" r="0.9" fill="#111"/>
<circle cx="118.8" cy="449.3" r="0.85" fill="#1f1f6e"/>
<circle cx="158.5" cy="467.0" r="0.9" fill="#111"/>
<circle cx="91.2" cy="463.4" r="0.85" fill="#1f1f6e"/>
<circle cx="175.8" cy="465.7" r="0.9" fill="#e8321e" stroke="#ffb8a8" stroke-width="0.15"/>
<circle cx="143.0" cy="460.3" r="0.9" fill="#111"/>
<circle cx="132.1" cy="458.9" r="0.9" fill="#111"/>
<circle cx="147.9" cy="467.8" r="0.9" fill="#111"/>
<circle cx="211.0" cy="467.1" r="0.95" fill="#111"/>
<circle cx="199.0" cy="467.0" r="0.95" fill="#111"/>
<circle cx="132.9" cy="468.0" r="0.9" fill="#111"/>
<circle cx="145.7" cy="466.6" r="0.9" fill="#e8321e" stroke="#ffb8a8" stroke-width="0.15"/>
<circle cx="139.2" cy="454.9" r="0.9" fill="#111"/>
<circle cx="106.4" cy="465.4" r="0.85" fill="#1f1f6e"/>
<circle cx="120.0" cy="468.1" r="0.9" fill="#111"/>
<circle cx="128.3" cy="466.7" r="0.9" fill="#111"/>
<circle cx="140.7" cy="455.9" r="0.9" fill="#e8321e" stroke="#ffb8a8" stroke-width="0.15"/>
<circle cx="124.3" cy="467.6" r="0.9" fill="#111"/>
<circle cx="222.5" cy="467.3" r="0.95" fill="#111"/>
<circle cx="145.4" cy="464.2" r="0.9" fill="#e8321e" stroke="#ffb8a8" stroke-width="0.15"/>
<circle cx="136.4" cy="458.3" r="0.9" fill="#111"/>
<circle cx="136.6" cy="457.9" r="0.9" fill="#111"/>
<circle cx="158.3" cy="457.8" r="0.9" fill="#e8321e" stroke="#ffb8a8" stroke-width="0.15"/>
<circle cx="91.3" cy="468.0" r="0.85" fill="#1f1f6e"/>
<circle cx="127.6" cy="463.6" r="0.9" fill="#111"/>
<circle cx="124.3" cy="459.3" r="0.85" fill="#1f1f6e"/>
<circle cx="126.9" cy="458.7" r="0.9" fill="#111"/>
<circle cx="143.9" cy="466.1" r="0.9" fill="#e8321e" stroke="#ffb8a8" stroke-width="0.15"/>
<circle cx="86.2" cy="465.1" r="0.85" fill="#1f1f6e"/>
<circle cx="128.7" cy="466.6" r="0.9" fill="#111"/>
<circle cx="135.8" cy="404.0" r="1.1" fill="#111"/>
<circle cx="192.7" cy="467.5" r="0.95" fill="#111"/>
<circle cx="143.1" cy="466.5" r="0.9" fill="#e8321e" stroke="#ffb8a8" stroke-width="0.15"/>
<circle cx="148.4" cy="467.8" r="0.9" fill="#111"/>
<circle cx="97.9" cy="460.2" r="0.85" fill="#1f1f6e"/>
<circle cx="140.5" cy="467.9" r="0.9" fill="#111"/>
<circle cx="97.7" cy="468.1" r="0.85" fill="#1f1f6e"/>
<circle cx="149.8" cy="463.9" r="0.9" fill="#e8321e" stroke="#ffb8a8" stroke-width="0.15"/>
<circle cx="184.3" cy="467.5" r="0.95" fill="#111"/>
<circle cx="158.5" cy="464.9" r="0.9" fill="#e8321e" stroke="#ffb8a8" stroke-width="0.15"/>
<circle cx="215.9" cy="467.0" r="0.95" fill="#111"/>
<circle cx="174.6" cy="468.1" r="0.95" fill="#111"/>
<circle cx="128.7" cy="463.9" r="0.9" fill="#111"/>
<circle cx="136.4" cy="465.5" r="0.9" fill="#111"/>
<circle cx="169.0" cy="467.9" r="0.9" fill="#111"/>
<circle cx="146.6" cy="460.6" r="0.9" fill="#e8321e" stroke="#ffb8a8" stroke-width="0.15"/>
<circle cx="123.7" cy="464.9" r="0.9" fill="#111"/>
<circle cx="168.2" cy="467.2" r="0.9" fill="#111"/>
<circle cx="205.7" cy="467.9" r="0.95" fill="#111"/>
<circle cx="154.8" cy="457.9" r="0.9" fill="#e8321e" stroke="#ffb8a8" stroke-width="0.15"/>
<circle cx="150.1" cy="466.0" r="0.9" fill="#e8321e" stroke="#ffb8a8" stroke-width="0.15"/>
<circle cx="193.8" cy="467.4" r="0.95" fill="#111"/>
<circle cx="139.3" cy="452.8" r="0.9" fill="#111"/>
<circle cx="129.6" cy="468.1" r="0.9" fill="#111"/>
<circle cx="199.8" cy="468.0" r="0.95" fill="#111"/>
<circle cx="156.3" cy="455.1" r="0.9" fill="#e8321e" stroke="#ffb8a8" stroke-width="0.15"/>
<circle cx="132.3" cy="467.7" r="0.9" fill="#111"/>
<circle cx="181.0" cy="465.4" r="0.9" fill="#e8321e" stroke="#ffb8a8" stroke-width="0.15"/>
<circle cx="116.7" cy="467.7" r="0.9" fill="#111"/>
<circle cx="189.9" cy="460.1" r="0.9" fill="#e8321e" stroke="#ffb8a8" stroke-width="0.15"/>
<circle cx="135.4" cy="467.3" r="0.9" fill="#111"/>
<circle cx="125.3" cy="468.2" r="0.9" fill="#111"/>
<circle cx="150.2" cy="467.5" r="0.9" fill="#111"/>
<circle cx="152.7" cy="460.9" r="0.9" fill="#e8321e" stroke="#ffb8a8" stroke-width="0.15"/>
<circle cx="147.6" cy="459.1" r="0.9" fill="#e8321e" stroke="#ffb8a8" stroke-width="0.15"/>
<circle cx="123.8" cy="464.4" r="0.9" fill="#111"/>
<circle cx="155.3" cy="463.3" r="0.9" fill="#e8321e" stroke="#ffb8a8" stroke-width="0.15"/>
<circle cx="100.2" cy="454.1" r="0.85" fill="#1f1f6e"/>
<circle cx="130.5" cy="465.3" r="0.9" fill="#111"/>
<circle cx="128.4" cy="468.0" r="0.9" fill="#111"/>
<circle cx="162.1" cy="468.2" r="0.95" fill="#111"/>
<circle cx="131.8" cy="466.4" r="0.9" fill="#111"/>
<circle cx="137.1" cy="457.4" r="0.9" fill="#111"/>
<circle cx="131.6" cy="463.6" r="0.9" fill="#111"/>
<circle cx="133.9" cy="464.4" r="0.9" fill="#111"/>
<circle cx="158.1" cy="454.2" r="0.9" fill="#e8321e" stroke="#ffb8a8" stroke-width="0.15"/>
<circle cx="117.5" cy="462.6" r="0.85" fill="#1f1f6e"/>
<circle cx="197.5" cy="465.5" r="0.95" fill="#111"/>
<circle cx="152.6" cy="452.7" r="0.9" fill="#e8321e" stroke="#ffb8a8" stroke-width="0.15"/>
<circle cx="138.7" cy="460.3" r="0.9" fill="#111"/>
<circle cx="90.7" cy="465.9" r="0.85" fill="#1f1f6e"/>
<circle cx="155.6" cy="456.9" r="0.9" fill="#e8321e" stroke="#ffb8a8" stroke-width="0.15"/>
<circle cx="151.4" cy="457.3" r="0.9" fill="#e8321e" stroke="#ffb8a8" stroke-width="0.15"/>
<circle cx="150.6" cy="462.9" r="0.9" fill="#e8321e" stroke="#ffb8a8" stroke-width="0.15"/>
<circle cx="172.3" cy="468.2" r="0.9" fill="#111"/>
<circle cx="124.5" cy="462.5" r="0.85" fill="#1f1f6e"/>
<circle cx="109.0" cy="467.6" r="0.9" fill="#111"/>
<circle cx="158.7" cy="463.7" r="0.9" fill="#e8321e" stroke="#ffb8a8" stroke-width="0.15"/>
<circle cx="154.0" cy="466.7" r="0.9" fill="#111"/>
<circle cx="132.2" cy="463.2" r="0.9" fill="#111"/>
<circle cx="132.0" cy="463.0" r="0.9" fill="#111"/>
<circle cx="141.3" cy="462.8" r="0.9" fill="#e8321e" stroke="#ffb8a8" stroke-width="0.15"/>
<circle cx="120.1" cy="463.3" r="0.9" fill="#111"/>
<circle cx="159.8" cy="467.5" r="0.9" fill="#111"/>
<circle cx="184.0" cy="467.6" r="0.95" fill="#111"/>
<circle cx="134.2" cy="456.3" r="0.9" fill="#111"/>
<circle cx="136.0" cy="457.1" r="0.9" fill="#111"/>
<circle cx="134.3" cy="466.5" r="0.9" fill="#111"/>
<circle cx="147.7" cy="467.3" r="0.9" fill="#e8321e" stroke="#ffb8a8" stroke-width="0.15"/>
<circle cx="122.1" cy="461.1" r="0.9" fill="#111"/>
<circle cx="162.0" cy="462.1" r="0.9" fill="#e8321e" stroke="#ffb8a8" stroke-width="0.15"/>
<circle cx="175.8" cy="467.8" r="0.9" fill="#111"/>
<circle cx="152.7" cy="466.6" r="0.9" fill="#111"/>
<circle cx="169.2" cy="463.2" r="0.9" fill="#e8321e" stroke="#ffb8a8" stroke-width="0.15"/>
<circle cx="153.4" cy="383.3" r="1.1" fill="#e8321e" stroke="#ffb8a8" stroke-width="0.15"/>
<circle cx="142.0" cy="462.8" r="0.9" fill="#e8321e" stroke="#ffb8a8" stroke-width="0.15"/>
<circle cx="88.6" cy="468.2" r="0.9" fill="#111"/>
<circle cx="133.6" cy="443.5" r="0.9" fill="#111"/>
<circle cx="119.2" cy="449.7" r="0.9" fill="#111"/>
<circle cx="103.2" cy="462.1" r="0.85" fill="#1f1f6e"/>
<circle cx="165.9" cy="467.3" r="0.9" fill="#111"/>
<circle cx="109.2" cy="457.6" r="0.85" fill="#1f1f6e"/>
<circle cx="133.7" cy="463.6" r="0.9" fill="#111"/>
<circle cx="87.5" cy="467.3" r="0.9" fill="#111"/>
<circle cx="117.9" cy="451.7" r="0.85" fill="#1f1f6e"/>
<circle cx="106.1" cy="463.6" r="0.85" fill="#1f1f6e"/>
<circle cx="156.5" cy="464.8" r="0.95" fill="#111"/>
<circle cx="106.1" cy="466.0" r="0.85" fill="#1f1f6e"/>
<circle cx="195.4" cy="466.5" r="0.95" fill="#111"/>
<circle cx="147.6" cy="467.9" r="0.9" fill="#111"/>
<circle cx="184.4" cy="456.6" r="0.9" fill="#e8321e" stroke="#ffb8a8" stroke-width="0.15"/>
<circle cx="129.4" cy="459.9" r="0.9" fill="#111"/>
<circle cx="159.5" cy="464.6" r="0.9" fill="#e8321e" stroke="#ffb8a8" stroke-width="0.15"/>
<circle cx="156.4" cy="463.5" r="0.9" fill="#e8321e" stroke="#ffb8a8" stroke-width="0.15"/>
<circle cx="152.9" cy="465.0" r="0.9" fill="#e8321e" stroke="#ffb8a8" stroke-width="0.15"/>
<circle cx="147.8" cy="459.1" r="0.9" fill="#e8321e" stroke="#ffb8a8" stroke-width="0.15"/>
<circle cx="153.7" cy="467.9" r="0.9" fill="#e8321e" stroke="#ffb8a8" stroke-width="0.15"/>
<circle cx="140.8" cy="467.2" r="0.9" fill="#111"/>
<circle cx="144.1" cy="461.9" r="0.9" fill="#e8321e" stroke="#ffb8a8" stroke-width="0.15"/>
<circle cx="161.0" cy="467.8" r="0.9" fill="#e8321e" stroke="#ffb8a8" stroke-width="0.15"/>
<circle cx="194.9" cy="467.4" r="0.95" fill="#111"/>
<circle cx="122.6" cy="445.7" r="0.85" fill="#1f1f6e"/>
<circle cx="97.4" cy="457.9" r="0.85" fill="#1f1f6e"/>
<circle cx="207.9" cy="467.7" r="0.95" fill="#111"/>
<circle cx="135.0" cy="467.9" r="0.9" fill="#111"/>
<circle cx="124.8" cy="464.7" r="0.9" fill="#111"/>
<circle cx="121.8" cy="464.5" r="0.9" fill="#111"/>
<circle cx="219.3" cy="468.2" r="0.95" fill="#111"/>
<circle cx="161.0" cy="462.1" r="0.9" fill="#e8321e" stroke="#ffb8a8" stroke-width="0.15"/>
<circle cx="155.1" cy="460.1" r="0.9" fill="#e8321e" stroke="#ffb8a8" stroke-width="0.15"/>
<circle cx="193.0" cy="465.7" r="0.95" fill="#111"/>
<circle cx="132.9" cy="462.8" r="0.9" fill="#111"/>
<circle cx="163.1" cy="467.6" r="0.95" fill="#111"/>
<circle cx="161.1" cy="464.1" r="0.9" fill="#e8321e" stroke="#ffb8a8" stroke-width="0.15"/>
<circle cx="128.1" cy="460.9" r="0.9" fill="#111"/>
<circle cx="160.9" cy="461.1" r="0.9" fill="#e8321e" stroke="#ffb8a8" stroke-width="0.15"/>
<circle cx="124.1" cy="467.0" r="0.9" fill="#111"/>
<circle cx="115.2" cy="463.4" r="0.85" fill="#1f1f6e"/>
<circle cx="162.2" cy="467.7" r="0.9" fill="#e8321e" stroke="#ffb8a8" stroke-width="0.15"/>
<circle cx="143.0" cy="466.9" r="0.9" fill="#111"/>
<circle cx="142.9" cy="466.7" r="0.9" fill="#e8321e" stroke="#ffb8a8" stroke-width="0.15"/>
<circle cx="197.8" cy="467.6" r="0.95" fill="#111"/>
<circle cx="202.3" cy="466.2" r="0.95" fill="#111"/>
<circle cx="145.7" cy="466.8" r="0.9" fill="#111"/>
<circle cx="120.0" cy="467.7" r="0.9" fill="#111"/>
<circle cx="112.4" cy="465.4" r="0.85" fill="#1f1f6e"/>
<circle cx="109.7" cy="446.6" r="0.85" fill="#1f1f6e"/>
<circle cx="206.4" cy="468.2" r="0.95" fill="#111"/>
<circle cx="136.1" cy="457.5" r="0.9" fill="#111"/>
<circle cx="135.6" cy="454.0" r="0.9" fill="#111"/>
<circle cx="112.5" cy="467.9" r="0.9" fill="#111"/>
<circle cx="131.4" cy="462.2" r="0.9" fill="#111"/>
<circle cx="147.0" cy="460.6" r="0.9" fill="#e8321e" stroke="#ffb8a8" stroke-width="0.15"/>
<circle cx="151.1" cy="454.2" r="0.9" fill="#e8321e" stroke="#ffb8a8" stroke-width="0.15"/>
<circle cx="152.0" cy="460.8" r="0.9" fill="#e8321e" stroke="#ffb8a8" stroke-width="0.15"/>
<circle cx="145.6" cy="459.9" r="0.9" fill="#e8321e" stroke="#ffb8a8" stroke-width="0.15"/>
<circle cx="147.6" cy="464.3" r="0.9" fill="#e8321e" stroke="#ffb8a8" stroke-width="0.15"/>
<circle cx="167.9" cy="465.4" r="0.95" fill="#111"/>
<circle cx="152.3" cy="464.7" r="0.9" fill="#e8321e" stroke="#ffb8a8" stroke-width="0.15"/>
<circle cx="161.7" cy="460.3" r="0.9" fill="#e8321e" stroke="#ffb8a8" stroke-width="0.15"/>
<circle cx="143.5" cy="462.2" r="0.9" fill="#e8321e" stroke="#ffb8a8" stroke-width="0.15"/>
<circle cx="108.2" cy="454.2" r="0.85" fill="#1f1f6e"/>
<circle cx="137.9" cy="461.9" r="0.9" fill="#111"/>
<circle cx="116.8" cy="454.2" r="0.85" fill="#1f1f6e"/>
<circle cx="156.0" cy="464.1" r="0.9" fill="#e8321e" stroke="#ffb8a8" stroke-width="0.15"/>
<circle cx="137.5" cy="467.5" r="0.9" fill="#111"/>
<circle cx="109.0" cy="451.2" r="0.85" fill="#1f1f6e"/>
<circle cx="150.0" cy="461.3" r="0.9" fill="#e8321e" stroke="#ffb8a8" stroke-width="0.15"/>
<circle cx="145.2" cy="467.8" r="0.9" fill="#e8321e" stroke="#ffb8a8" stroke-width="0.15"/>
<circle cx="133.6" cy="465.3" r="0.9" fill="#111"/>
<circle cx="125.5" cy="465.3" r="0.9" fill="#111"/>
<circle cx="179.7" cy="462.3" r="0.9" fill="#e8321e" stroke="#ffb8a8" stroke-width="0.15"/>
<circle cx="124.7" cy="467.9" r="0.9" fill="#111"/>
<circle cx="151.4" cy="459.2" r="0.9" fill="#e8321e" stroke="#ffb8a8" stroke-width="0.15"/>
<circle cx="126.1" cy="467.8" r="0.9" fill="#111"/>
<circle cx="143.6" cy="452.4" r="0.9" fill="#e8321e" stroke="#ffb8a8" stroke-width="0.15"/>
<circle cx="188.9" cy="467.6" r="0.9" fill="#111"/>
<circle cx="123.9" cy="466.6" r="0.9" fill="#111"/>
<circle cx="125.8" cy="458.2" r="0.9" fill="#111"/>
<circle cx="140.0" cy="462.5" r="0.9" fill="#111"/>
<circle cx="146.0" cy="455.1" r="0.9" fill="#e8321e" stroke="#ffb8a8" stroke-width="0.15"/>
<circle cx="106.6" cy="466.5" r="0.9" fill="#111"/>
<circle cx="152.2" cy="458.3" r="0.9" fill="#e8321e" stroke="#ffb8a8" stroke-width="0.15"/>
<circle cx="108.6" cy="467.7" r="0.9" fill="#111"/>
<circle cx="156.6" cy="462.9" r="0.9" fill="#e8321e" stroke="#ffb8a8" stroke-width="0.15"/>
<circle cx="164.7" cy="448.4" r="0.9" fill="#e8321e" stroke="#ffb8a8" stroke-width="0.15"/>
<circle cx="205.6" cy="466.7" r="0.95" fill="#111"/>
<circle cx="201.5" cy="466.4" r="0.95" fill="#111"/>
<circle cx="163.9" cy="467.6" r="0.9" fill="#111"/>
<circle cx="158.7" cy="463.3" r="0.9" fill="#e8321e" stroke="#ffb8a8" stroke-width="0.15"/>
<circle cx="136.0" cy="467.8" r="0.9" fill="#111"/>
<circle cx="147.5" cy="467.8" r="0.9" fill="#111"/>
<circle cx="92.3" cy="467.1" r="0.85" fill="#1f1f6e"/>
<circle cx="133.9" cy="468.0" r="0.9" fill="#111"/>
<circle cx="173.4" cy="468.1" r="0.95" fill="#111"/>
<circle cx="125.4" cy="467.6" r="0.9" fill="#111"/>
<circle cx="147.8" cy="466.7" r="0.9" fill="#111"/>
<circle cx="127.8" cy="466.7" r="0.9" fill="#111"/>
<circle cx="153.3" cy="459.0" r="0.9" fill="#e8321e" stroke="#ffb8a8" stroke-width="0.15"/>
<circle cx="180.0" cy="467.9" r="0.9" fill="#111"/>
<circle cx="178.4" cy="466.3" r="0.95" fill="#111"/>
<circle cx="150.7" cy="464.2" r="0.9" fill="#e8321e" stroke="#ffb8a8" stroke-width="0.15"/>
<circle cx="156.5" cy="468.1" r="0.95" fill="#111"/>
<circle cx="109.0" cy="466.9" r="0.9" fill="#111"/>
<circle cx="146.3" cy="468.2" r="0.9" fill="#111"/>
<circle cx="157.4" cy="456.6" r="0.9" fill="#e8321e" stroke="#ffb8a8" stroke-width="0.15"/>
<circle cx="140.5" cy="454.9" r="0.9" fill="#111"/>
<circle cx="175.9" cy="467.8" r="0.95" fill="#111"/>
<circle cx="150.9" cy="462.8" r="0.9" fill="#e8321e" stroke="#ffb8a8" stroke-width="0.15"/>
<circle cx="164.2" cy="466.7" r="0.95" fill="#111"/>
<circle cx="148.5" cy="463.9" r="0.9" fill="#e8321e" stroke="#ffb8a8" stroke-width="0.15"/>
<circle cx="123.5" cy="464.0" r="0.9" fill="#111"/>
<circle cx="135.8" cy="467.1" r="0.9" fill="#111"/>
<circle cx="146.4" cy="458.1" r="0.9" fill="#e8321e" stroke="#ffb8a8" stroke-width="0.15"/>
<circle cx="137.8" cy="468.0" r="0.9" fill="#111"/>
<circle cx="194.9" cy="463.6" r="0.9" fill="#e8321e" stroke="#ffb8a8" stroke-width="0.15"/>
<circle cx="134.8" cy="464.0" r="0.9" fill="#111"/>
<circle cx="133.0" cy="467.2" r="0.9" fill="#111"/>
<circle cx="143.0" cy="460.6" r="0.9" fill="#e8321e" stroke="#ffb8a8" stroke-width="0.15"/>
<circle cx="140.1" cy="456.0" r="0.9" fill="#111"/>
<circle cx="120.6" cy="467.1" r="0.85" fill="#1f1f6e"/>
<circle cx="100.4" cy="461.6" r="0.85" fill="#1f1f6e"/>
<circle cx="162.4" cy="467.6" r="0.95" fill="#111"/>
<circle cx="155.0" cy="467.8" r="0.9" fill="#111"/>
<circle cx="138.8" cy="466.4" r="0.9" fill="#111"/>
<circle cx="153.1" cy="463.6" r="0.9" fill="#e8321e" stroke="#ffb8a8" stroke-width="0.15"/>
<circle cx="109.9" cy="462.7" r="0.85" fill="#1f1f6e"/>
<circle cx="157.5" cy="467.9" r="0.9" fill="#111"/>
<circle cx="220.6" cy="468.2" r="0.95" fill="#111"/>
<circle cx="144.7" cy="463.4" r="0.9" fill="#e8321e" stroke="#ffb8a8" stroke-width="0.15"/>
<circle cx="201.4" cy="465.4" r="0.95" fill="#111"/>
<circle cx="134.4" cy="461.6" r="0.9" fill="#111"/>
<circle cx="142.3" cy="468.0" r="0.9" fill="#111"/>
<circle cx="149.2" cy="467.1" r="0.9" fill="#e8321e" stroke="#ffb8a8" stroke-width="0.15"/>
<circle cx="129.3" cy="454.2" r="0.9" fill="#111"/>
<circle cx="163.8" cy="465.9" r="0.9" fill="#e8321e" stroke="#ffb8a8" stroke-width="0.15"/>
<circle cx="139.3" cy="467.8" r="0.9" fill="#111"/>
<circle cx="145.1" cy="461.9" r="0.9" fill="#e8321e" stroke="#ffb8a8" stroke-width="0.15"/>
<circle cx="140.7" cy="458.4" r="0.9" fill="#e8321e" stroke="#ffb8a8" stroke-width="0.15"/>
<circle cx="190.1" cy="467.6" r="0.95" fill="#111"/>
<circle cx="154.5" cy="467.8" r="0.9" fill="#e8321e" stroke="#ffb8a8" stroke-width="0.15"/>
<circle cx="70.5" cy="466.8" r="0.9" fill="#111"/>
<circle cx="155.4" cy="457.6" r="0.9" fill="#e8321e" stroke="#ffb8a8" stroke-width="0.15"/>
<circle cx="156.3" cy="461.7" r="0.9" fill="#e8321e" stroke="#ffb8a8" stroke-width="0.15"/>
<circle cx="124.3" cy="467.9" r="0.85" fill="#1f1f6e"/>
<circle cx="147.4" cy="467.7" r="0.9" fill="#111"/>
<circle cx="132.1" cy="466.4" r="0.9" fill="#111"/>
<circle cx="143.8" cy="455.4" r="0.9" fill="#e8321e" stroke="#ffb8a8" stroke-width="0.15"/>
<circle cx="121.7" cy="448.4" r="0.85" fill="#1f1f6e"/>
<circle cx="167.6" cy="450.8" r="0.9" fill="#e8321e" stroke="#ffb8a8" stroke-width="0.15"/>
<circle cx="134.4" cy="465.4" r="0.9" fill="#111"/>
<circle cx="130.7" cy="451.6" r="0.9" fill="#111"/>
<circle cx="103.4" cy="464.7" r="0.85" fill="#1f1f6e"/>
<circle cx="145.4" cy="453.2" r="0.9" fill="#e8321e" stroke="#ffb8a8" stroke-width="0.15"/>
<circle cx="124.9" cy="456.5" r="0.9" fill="#111"/>
<circle cx="112.2" cy="467.8" r="0.9" fill="#111"/>
<circle cx="143.7" cy="462.2" r="0.9" fill="#e8321e" stroke="#ffb8a8" stroke-width="0.15"/>
<circle cx="151.0" cy="468.1" r="0.9" fill="#111"/>
<circle cx="115.1" cy="467.8" r="0.9" fill="#111"/>
<circle cx="123.2" cy="455.8" r="0.85" fill="#1f1f6e"/>
<circle cx="172.6" cy="461.9" r="0.9" fill="#e8321e" stroke="#ffb8a8" stroke-width="0.15"/>
<circle cx="97.7" cy="468.0" r="0.85" fill="#1f1f6e"/>
<circle cx="130.0" cy="468.1" r="0.9" fill="#111"/>
<circle cx="149.9" cy="461.0" r="0.9" fill="#e8321e" stroke="#ffb8a8" stroke-width="0.15"/>
<circle cx="123.3" cy="465.5" r="0.9" fill="#111"/>
<circle cx="148.2" cy="465.8" r="0.9" fill="#e8321e" stroke="#ffb8a8" stroke-width="0.15"/>
<circle cx="220.6" cy="467.3" r="0.95" fill="#111"/>
<circle cx="191.3" cy="466.2" r="0.95" fill="#111"/>
<circle cx="146.3" cy="455.6" r="0.9" fill="#e8321e" stroke="#ffb8a8" stroke-width="0.15"/>
<circle cx="122.4" cy="467.8" r="0.85" fill="#1f1f6e"/>
<circle cx="118.6" cy="456.9" r="0.85" fill="#1f1f6e"/>
<circle cx="135.3" cy="467.7" r="0.9" fill="#111"/>
<circle cx="65.7" cy="461.5" r="1.1" fill="#1f1f6e"/>
<circle cx="147.1" cy="448.3" r="0.9" fill="#e8321e" stroke="#ffb8a8" stroke-width="0.15"/>
<circle cx="127.2" cy="467.4" r="0.9" fill="#111"/>
<circle cx="160.4" cy="465.3" r="0.9" fill="#e8321e" stroke="#ffb8a8" stroke-width="0.15"/>
<circle cx="123.2" cy="456.7" r="0.85" fill="#1f1f6e"/>
<circle cx="154.8" cy="461.2" r="0.9" fill="#e8321e" stroke="#ffb8a8" stroke-width="0.15"/>
<circle cx="157.4" cy="468.2" r="0.9" fill="#111"/>
<circle cx="182.8" cy="467.1" r="0.95" fill="#111"/>
<circle cx="135.7" cy="468.1" r="0.9" fill="#111"/>
<circle cx="123.0" cy="467.8" r="0.9" fill="#111"/>
<circle cx="136.6" cy="461.4" r="0.9" fill="#111"/>
<circle cx="124.0" cy="463.4" r="0.9" fill="#111"/>
<circle cx="138.7" cy="466.4" r="0.9" fill="#111"/>
<circle cx="162.2" cy="466.2" r="0.9" fill="#e8321e" stroke="#ffb8a8" stroke-width="0.15"/>
<circle cx="122.8" cy="464.7" r="0.9" fill="#111"/>
<circle cx="130.9" cy="466.9" r="0.9" fill="#111"/>
<circle cx="156.3" cy="467.3" r="0.95" fill="#111"/>
<circle cx="124.5" cy="467.9" r="0.9" fill="#111"/>
<circle cx="97.9" cy="468.0" r="0.85" fill="#1f1f6e"/>
<circle cx="121.3" cy="467.5" r="0.9" fill="#111"/>
<circle cx="161.7" cy="459.7" r="0.9" fill="#e8321e" stroke="#ffb8a8" stroke-width="0.15"/>
<circle cx="105.1" cy="467.0" r="0.9" fill="#111"/>
<circle cx="146.2" cy="456.2" r="0.9" fill="#e8321e" stroke="#ffb8a8" stroke-width="0.15"/>
<circle cx="135.7" cy="462.2" r="0.9" fill="#111"/>
<circle cx="142.5" cy="467.4" r="0.9" fill="#e8321e" stroke="#ffb8a8" stroke-width="0.15"/>
<circle cx="128.0" cy="461.3" r="0.9" fill="#111"/>
<circle cx="211.4" cy="467.2" r="0.95" fill="#111"/>
<circle cx="109.0" cy="456.0" r="0.85" fill="#1f1f6e"/>
<circle cx="137.5" cy="464.3" r="0.9" fill="#111"/>
<circle cx="155.6" cy="467.4" r="0.95" fill="#111"/>
<circle cx="212.5" cy="468.2" r="0.95" fill="#111"/>
<circle cx="170.6" cy="467.4" r="0.95" fill="#111"/>
<circle cx="114.2" cy="456.4" r="0.85" fill="#1f1f6e"/>
<circle cx="147.8" cy="465.5" r="0.9" fill="#e8321e" stroke="#ffb8a8" stroke-width="0.15"/>
<circle cx="123.7" cy="466.8" r="0.9" fill="#111"/>
<circle cx="132.4" cy="467.5" r="0.9" fill="#111"/>
<circle cx="135.6" cy="467.0" r="0.9" fill="#111"/>
<circle cx="210.1" cy="466.5" r="0.95" fill="#111"/>
<circle cx="159.7" cy="458.7" r="0.9" fill="#e8321e" stroke="#ffb8a8" stroke-width="0.15"/>
<circle cx="133.9" cy="468.1" r="0.9" fill="#111"/>
<circle cx="151.5" cy="460.1" r="0.9" fill="#e8321e" stroke="#ffb8a8" stroke-width="0.15"/>
<circle cx="135.1" cy="460.5" r="0.9" fill="#111"/>
<circle cx="139.3" cy="461.3" r="0.9" fill="#111"/>
<circle cx="150.8" cy="458.9" r="0.9" fill="#e8321e" stroke="#ffb8a8" stroke-width="0.15"/>
<circle cx="131.4" cy="467.8" r="0.9" fill="#111"/>
<circle cx="107.8" cy="467.4" r="0.85" fill="#1f1f6e"/>
<circle cx="119.4" cy="462.8" r="0.9" fill="#111"/>
<circle cx="142.3" cy="462.7" r="0.9" fill="#111"/>
<circle cx="149.7" cy="467.9" r="0.9" fill="#e8321e" stroke="#ffb8a8" stroke-width="0.15"/>
<circle cx="137.9" cy="467.8" r="0.9" fill="#111"/>
<circle cx="128.0" cy="460.9" r="0.9" fill="#111"/>
<circle cx="151.7" cy="464.8" r="0.9" fill="#e8321e" stroke="#ffb8a8" stroke-width="0.15"/>
<circle cx="147.4" cy="464.3" r="0.9" fill="#e8321e" stroke="#ffb8a8" stroke-width="0.15"/>
<circle cx="160.8" cy="464.9" r="0.9" fill="#e8321e" stroke="#ffb8a8" stroke-width="0.15"/>
<circle cx="124.7" cy="464.8" r="0.9" fill="#111"/>
<circle cx="136.5" cy="466.7" r="0.9" fill="#111"/>
<circle cx="194.2" cy="463.3" r="0.9" fill="#e8321e" stroke="#ffb8a8" stroke-width="0.15"/>
<circle cx="137.5" cy="464.3" r="0.9" fill="#111"/>
<circle cx="117.5" cy="467.3" r="0.85" fill="#1f1f6e"/>
<circle cx="177.6" cy="468.1" r="0.95" fill="#111"/>
<circle cx="201.6" cy="456.1" r="0.9" fill="#e8321e" stroke="#ffb8a8" stroke-width="0.15"/>
<circle cx="133.9" cy="462.8" r="0.9" fill="#111"/>
<circle cx="160.7" cy="463.3" r="0.9" fill="#e8321e" stroke="#ffb8a8" stroke-width="0.15"/>
<circle cx="88.7" cy="467.4" r="0.9" fill="#111"/>
<circle cx="111.4" cy="448.1" r="0.85" fill="#1f1f6e"/>
<circle cx="180.6" cy="460.0" r="0.9" fill="#e8321e" stroke="#ffb8a8" stroke-width="0.15"/>
<circle cx="129.9" cy="455.2" r="0.9" fill="#111"/>
<circle cx="117.3" cy="463.0" r="0.85" fill="#1f1f6e"/>
<circle cx="177.1" cy="468.1" r="0.9" fill="#111"/>
<circle cx="127.3" cy="467.6" r="0.9" fill="#111"/>
<circle cx="160.9" cy="456.1" r="0.9" fill="#e8321e" stroke="#ffb8a8" stroke-width="0.15"/>
<circle cx="124.3" cy="460.2" r="0.9" fill="#111"/>
<circle cx="122.7" cy="464.0" r="0.85" fill="#1f1f6e"/>
<circle cx="149.2" cy="461.9" r="0.9" fill="#e8321e" stroke="#ffb8a8" stroke-width="0.15"/>
<circle cx="141.0" cy="462.5" r="0.9" fill="#111"/>
<circle cx="103.2" cy="461.2" r="0.85" fill="#1f1f6e"/>
<circle cx="145.2" cy="467.6" r="0.9" fill="#111"/>
<circle cx="172.9" cy="467.3" r="0.9" fill="#111"/>
<circle cx="173.5" cy="467.8" r="0.9" fill="#111"/>
<circle cx="158.0" cy="467.1" r="0.9" fill="#111"/>
<circle cx="209.2" cy="468.0" r="0.95" fill="#111"/>
<circle cx="133.7" cy="454.6" r="0.9" fill="#111"/>
<circle cx="183.8" cy="465.1" r="0.9" fill="#e8321e" stroke="#ffb8a8" stroke-width="0.15"/>
<circle cx="143.6" cy="454.3" r="0.9" fill="#e8321e" stroke="#ffb8a8" stroke-width="0.15"/>
<circle cx="154.7" cy="459.3" r="0.9" fill="#e8321e" stroke="#ffb8a8" stroke-width="0.15"/>
<circle cx="121.4" cy="452.5" r="0.9" fill="#111"/>
<circle cx="102.7" cy="467.9" r="0.85" fill="#1f1f6e"/>
<circle cx="158.2" cy="462.3" r="0.9" fill="#e8321e" stroke="#ffb8a8" stroke-width="0.15"/>
<circle cx="144.6" cy="463.5" r="0.9" fill="#e8321e" stroke="#ffb8a8" stroke-width="0.15"/>
<circle cx="152.0" cy="460.8" r="0.9" fill="#e8321e" stroke="#ffb8a8" stroke-width="0.15"/>
<circle cx="218.8" cy="466.6" r="0.95" fill="#111"/>
<circle cx="113.8" cy="458.5" r="0.85" fill="#1f1f6e"/>
<circle cx="197.1" cy="467.2" r="0.95" fill="#111"/>
<circle cx="143.4" cy="461.8" r="0.9" fill="#e8321e" stroke="#ffb8a8" stroke-width="0.15"/>
<circle cx="132.9" cy="456.3" r="0.9" fill="#111"/>
<circle cx="132.4" cy="466.6" r="0.9" fill="#111"/>
<circle cx="121.5" cy="464.7" r="0.9" fill="#111"/>
<circle cx="146.8" cy="453.8" r="0.9" fill="#e8321e" stroke="#ffb8a8" stroke-width="0.15"/>
<circle cx="127.2" cy="464.6" r="0.9" fill="#111"/>
<circle cx="145.2" cy="457.3" r="0.9" fill="#e8321e" stroke="#ffb8a8" stroke-width="0.15"/>
<circle cx="146.4" cy="468.2" r="0.9" fill="#e8321e" stroke="#ffb8a8" stroke-width="0.15"/>
<circle cx="145.1" cy="447.7" r="0.9" fill="#e8321e" stroke="#ffb8a8" stroke-width="0.15"/>
<circle cx="192.2" cy="464.0" r="0.9" fill="#e8321e" stroke="#ffb8a8" stroke-width="0.15"/>
<circle cx="81.9" cy="467.3" r="0.9" fill="#111"/>
<circle cx="133.6" cy="466.5" r="0.9" fill="#111"/>
<circle cx="111.1" cy="467.9" r="0.9" fill="#111"/>
<circle cx="150.2" cy="467.4" r="0.9" fill="#111"/>
<circle cx="113.2" cy="463.3" r="0.85" fill="#1f1f6e"/>
<circle cx="114.5" cy="468.0" r="0.9" fill="#111"/>
<circle cx="215.2" cy="467.1" r="0.95" fill="#111"/>
<circle cx="184.5" cy="466.1" r="0.95" fill="#111"/>
<circle cx="90.3" cy="467.3" r="0.9" fill="#111"/>
<circle cx="141.9" cy="466.8" r="0.9" fill="#e8321e" stroke="#ffb8a8" stroke-width="0.15"/>
<circle cx="199.8" cy="460.7" r="0.9" fill="#e8321e" stroke="#ffb8a8" stroke-width="0.15"/>
<circle cx="133.7" cy="468.0" r="0.9" fill="#111"/>
<circle cx="201.2" cy="466.7" r="0.95" fill="#111"/>
<circle cx="146.6" cy="452.9" r="0.9" fill="#e8321e" stroke="#ffb8a8" stroke-width="0.15"/>
<circle cx="126.1" cy="461.3" r="0.9" fill="#111"/>
<circle cx="172.4" cy="467.8" r="0.9" fill="#111"/>
<circle cx="125.2" cy="467.3" r="0.9" fill="#111"/>
<circle cx="143.9" cy="468.0" r="0.9" fill="#111"/>
<circle cx="212.9" cy="467.1" r="0.95" fill="#111"/>
<circle cx="158.8" cy="468.1" r="0.9" fill="#111"/>
<circle cx="112.0" cy="465.3" r="0.85" fill="#1f1f6e"/>
<circle cx="94.5" cy="461.0" r="0.85" fill="#1f1f6e"/>
<circle cx="153.8" cy="462.1" r="0.9" fill="#e8321e" stroke="#ffb8a8" stroke-width="0.15"/>
<circle cx="163.9" cy="467.5" r="0.95" fill="#111"/>
<circle cx="155.7" cy="461.3" r="0.9" fill="#e8321e" stroke="#ffb8a8" stroke-width="0.15"/>
<circle cx="133.2" cy="465.1" r="0.9" fill="#111"/>
<circle cx="146.0" cy="467.2" r="0.9" fill="#111"/>
<circle cx="132.6" cy="460.2" r="0.9" fill="#111"/>
<circle cx="212.1" cy="467.5" r="0.95" fill="#111"/>
<circle cx="141.6" cy="464.0" r="0.9" fill="#111"/>
<circle cx="157.5" cy="463.0" r="0.9" fill="#e8321e" stroke="#ffb8a8" stroke-width="0.15"/>
<circle cx="134.9" cy="463.7" r="0.9" fill="#111"/>
<circle cx="133.8" cy="461.4" r="0.9" fill="#111"/>
<circle cx="86.0" cy="465.6" r="0.85" fill="#1f1f6e"/>
<circle cx="148.4" cy="462.7" r="0.9" fill="#e8321e" stroke="#ffb8a8" stroke-width="0.15"/>
<circle cx="179.8" cy="468.1" r="0.95" fill="#111"/>
<circle cx="138.9" cy="455.9" r="0.9" fill="#111"/>
<circle cx="112.2" cy="461.6" r="0.85" fill="#1f1f6e"/>
<circle cx="132.7" cy="463.9" r="0.9" fill="#111"/>
<circle cx="115.0" cy="461.0" r="0.85" fill="#1f1f6e"/>
<circle cx="161.0" cy="463.1" r="0.9" fill="#e8321e" stroke="#ffb8a8" stroke-width="0.15"/>
<circle cx="173.4" cy="467.8" r="0.95" fill="#111"/>
<circle cx="154.6" cy="466.3" r="0.9" fill="#111"/>
<circle cx="169.1" cy="467.9" r="0.95" fill="#111"/>
<circle cx="137.7" cy="463.7" r="0.9" fill="#111"/>
<circle cx="159.0" cy="467.8" r="0.9" fill="#111"/>
<circle cx="153.5" cy="457.5" r="0.9" fill="#e8321e" stroke="#ffb8a8" stroke-width="0.15"/>
<circle cx="123.0" cy="454.0" r="0.85" fill="#1f1f6e"/>
<circle cx="138.3" cy="464.3" r="0.9" fill="#111"/>
<circle cx="176.9" cy="453.8" r="0.9" fill="#e8321e" stroke="#ffb8a8" stroke-width="0.15"/>
<circle cx="139.1" cy="463.9" r="0.9" fill="#111"/>
<circle cx="161.9" cy="462.5" r="0.9" fill="#e8321e" stroke="#ffb8a8" stroke-width="0.15"/>
<circle cx="121.1" cy="450.7" r="0.85" fill="#1f1f6e"/>
<circle cx="188.6" cy="466.8" r="0.95" fill="#111"/>
<circle cx="121.3" cy="465.0" r="0.9" fill="#111"/>
<circle cx="141.7" cy="449.9" r="0.9" fill="#e8321e" stroke="#ffb8a8" stroke-width="0.15"/>
<circle cx="93.7" cy="465.0" r="0.85" fill="#1f1f6e"/>
<circle cx="155.3" cy="463.1" r="0.9" fill="#e8321e" stroke="#ffb8a8" stroke-width="0.15"/>
<circle cx="127.1" cy="460.4" r="0.9" fill="#111"/>
<circle cx="158.2" cy="466.4" r="0.9" fill="#e8321e" stroke="#ffb8a8" stroke-width="0.15"/>
<circle cx="121.2" cy="455.1" r="0.9" fill="#111"/>
<circle cx="125.0" cy="451.8" r="0.9" fill="#111"/>
<circle cx="155.9" cy="465.9" r="0.9" fill="#111"/>
<circle cx="171.3" cy="467.7" r="0.95" fill="#111"/>
<circle cx="157.7" cy="467.0" r="0.9" fill="#e8321e" stroke="#ffb8a8" stroke-width="0.15"/>
<circle cx="100.6" cy="436.0" r="1.1" fill="#1f1f6e"/>
<circle cx="157.3" cy="468.0" r="0.9" fill="#111"/>
<circle cx="111.0" cy="464.6" r="0.85" fill="#1f1f6e"/>
<circle cx="126.3" cy="468.2" r="0.9" fill="#111"/>
<circle cx="141.6" cy="466.7" r="0.9" fill="#e8321e" stroke="#ffb8a8" stroke-width="0.15"/>
<circle cx="123.4" cy="467.3" r="0.9" fill="#111"/>
<circle cx="165.7" cy="467.4" r="0.95" fill="#111"/>
<circle cx="148.8" cy="464.2" r="0.9" fill="#e8321e" stroke="#ffb8a8" stroke-width="0.15"/>
<circle cx="147.7" cy="467.6" r="0.9" fill="#e8321e" stroke="#ffb8a8" stroke-width="0.15"/>
<circle cx="110.0" cy="468.2" r="0.9" fill="#111"/>
<circle cx="150.5" cy="455.6" r="0.9" fill="#e8321e" stroke="#ffb8a8" stroke-width="0.15"/>
<circle cx="147.8" cy="467.6" r="0.9" fill="#111"/>
<circle cx="143.0" cy="467.5" r="0.9" fill="#e8321e" stroke="#ffb8a8" stroke-width="0.15"/>
<circle cx="106.6" cy="457.3" r="0.85" fill="#1f1f6e"/>
<circle cx="131.3" cy="467.6" r="0.9" fill="#111"/>
<circle cx="94.5" cy="467.5" r="0.9" fill="#111"/>
<circle cx="126.6" cy="466.3" r="0.9" fill="#111"/>
<circle cx="86.9" cy="467.0" r="0.9" fill="#111"/>
<circle cx="136.8" cy="466.4" r="0.9" fill="#111"/>
<circle cx="119.8" cy="467.4" r="0.9" fill="#111"/>
<circle cx="140.4" cy="458.7" r="0.9" fill="#e8321e" stroke="#ffb8a8" stroke-width="0.15"/>
<circle cx="91.5" cy="466.3" r="0.85" fill="#1f1f6e"/>
<circle cx="137.2" cy="468.1" r="0.9" fill="#111"/>
<circle cx="133.6" cy="467.0" r="0.9" fill="#111"/>
<circle cx="138.8" cy="458.4" r="0.9" fill="#111"/>
<circle cx="157.1" cy="465.6" r="0.9" fill="#e8321e" stroke="#ffb8a8" stroke-width="0.15"/>
<circle cx="127.2" cy="461.5" r="0.9" fill="#111"/>
<circle cx="156.2" cy="460.9" r="0.9" fill="#e8321e" stroke="#ffb8a8" stroke-width="0.15"/>
<circle cx="88.5" cy="467.8" r="0.85" fill="#1f1f6e"/>
<circle cx="183.8" cy="467.8" r="0.95" fill="#111"/>
<circle cx="123.2" cy="460.3" r="0.9" fill="#111"/>
<circle cx="106.7" cy="468.0" r="0.9" fill="#111"/>
<circle cx="87.6" cy="467.6" r="0.9" fill="#111"/>
<circle cx="157.2" cy="466.2" r="0.9" fill="#e8321e" stroke="#ffb8a8" stroke-width="0.15"/>
<circle cx="125.9" cy="467.4" r="0.9" fill="#111"/>
<circle cx="122.5" cy="461.7" r="0.9" fill="#111"/>
<circle cx="162.0" cy="463.5" r="0.9" fill="#e8321e" stroke="#ffb8a8" stroke-width="0.15"/>
<circle cx="131.8" cy="457.0" r="0.9" fill="#111"/>
<circle cx="199.1" cy="467.7" r="0.95" fill="#111"/>
<circle cx="154.7" cy="467.9" r="0.9" fill="#111"/>
<circle cx="135.8" cy="466.5" r="0.9" fill="#111"/>
<circle cx="150.4" cy="468.1" r="0.9" fill="#111"/>
<circle cx="148.8" cy="462.0" r="0.9" fill="#e8321e" stroke="#ffb8a8" stroke-width="0.15"/>
<circle cx="175.2" cy="464.7" r="0.95" fill="#111"/>
<circle cx="172.6" cy="467.8" r="0.9" fill="#111"/>
<circle cx="211.4" cy="467.3" r="0.95" fill="#111"/>
<circle cx="145.2" cy="466.7" r="0.9" fill="#e8321e" stroke="#ffb8a8" stroke-width="0.15"/>
<circle cx="136.3" cy="456.7" r="0.9" fill="#111"/>
<circle cx="121.4" cy="463.0" r="0.9" fill="#111"/>
<circle cx="157.8" cy="466.7" r="0.95" fill="#111"/>
<circle cx="134.3" cy="465.3" r="0.9" fill="#111"/>
<circle cx="121.7" cy="460.5" r="0.9" fill="#111"/>
<circle cx="145.4" cy="467.5" r="0.9" fill="#e8321e" stroke="#ffb8a8" stroke-width="0.15"/>
<circle cx="129.5" cy="467.7" r="0.9" fill="#111"/>
<circle cx="203.7" cy="467.5" r="0.95" fill="#111"/>
<circle cx="108.2" cy="452.8" r="0.85" fill="#1f1f6e"/>
<circle cx="137.8" cy="461.9" r="0.9" fill="#111"/>
<circle cx="100.7" cy="468.1" r="0.9" fill="#111"/>
<circle cx="97.9" cy="468.0" r="0.9" fill="#111"/>
<circle cx="208.2" cy="466.8" r="0.95" fill="#111"/>
<circle cx="156.9" cy="463.7" r="0.9" fill="#e8321e" stroke="#ffb8a8" stroke-width="0.15"/>
<circle cx="127.7" cy="460.0" r="0.9" fill="#111"/>
<circle cx="155.5" cy="464.2" r="0.9" fill="#e8321e" stroke="#ffb8a8" stroke-width="0.15"/>
<circle cx="192.6" cy="452.0" r="0.9" fill="#e8321e" stroke="#ffb8a8" stroke-width="0.15"/>
<circle cx="124.6" cy="408.1" r="1.1" fill="#111"/>
<circle cx="106.8" cy="458.8" r="0.85" fill="#1f1f6e"/>
<circle cx="123.3" cy="459.1" r="0.9" fill="#111"/>
<circle cx="160.9" cy="461.8" r="0.9" fill="#e8321e" stroke="#ffb8a8" stroke-width="0.15"/>
<circle cx="144.8" cy="455.6" r="0.9" fill="#e8321e" stroke="#ffb8a8" stroke-width="0.15"/>
<circle cx="143.9" cy="466.9" r="0.9" fill="#e8321e" stroke="#ffb8a8" stroke-width="0.15"/>
<circle cx="162.6" cy="467.6" r="0.9" fill="#111"/>
<circle cx="148.3" cy="456.4" r="0.9" fill="#e8321e" stroke="#ffb8a8" stroke-width="0.15"/>
<circle cx="169.8" cy="467.7" r="0.95" fill="#111"/>
<circle cx="207.0" cy="465.3" r="0.95" fill="#111"/>
<circle cx="121.2" cy="464.6" r="0.9" fill="#111"/>
<circle cx="173.4" cy="466.6" r="0.95" fill="#111"/>
<circle cx="156.0" cy="465.8" r="0.9" fill="#e8321e" stroke="#ffb8a8" stroke-width="0.15"/>
<circle cx="97.3" cy="466.9" r="0.9" fill="#111"/>
<circle cx="142.8" cy="468.1" r="0.9" fill="#e8321e" stroke="#ffb8a8" stroke-width="0.15"/>
<circle cx="127.0" cy="462.7" r="0.9" fill="#111"/>
<circle cx="156.3" cy="467.6" r="0.95" fill="#111"/>
<circle cx="127.5" cy="457.7" r="0.9" fill="#111"/>
<circle cx="137.6" cy="468.1" r="0.9" fill="#111"/>
<circle cx="118.7" cy="451.4" r="0.85" fill="#1f1f6e"/>
<circle cx="137.7" cy="464.6" r="0.9" fill="#111"/>
<circle cx="192.9" cy="467.1" r="0.95" fill="#111"/>
<circle cx="221.3" cy="466.5" r="0.95" fill="#111"/>
<circle cx="178.5" cy="429.2" r="1.1" fill="#e8321e" stroke="#ffb8a8" stroke-width="0.15"/>
<circle cx="157.8" cy="467.8" r="0.95" fill="#111"/>
<circle cx="108.3" cy="467.8" r="0.9" fill="#111"/>
<circle cx="144.9" cy="468.1" r="0.9" fill="#111"/>
<circle cx="103.5" cy="467.7" r="0.9" fill="#111"/>
<circle cx="164.6" cy="463.7" r="0.9" fill="#e8321e" stroke="#ffb8a8" stroke-width="0.15"/>
<circle cx="162.6" cy="465.8" r="0.9" fill="#e8321e" stroke="#ffb8a8" stroke-width="0.15"/>
<circle cx="100.4" cy="466.7" r="0.9" fill="#111"/>
<circle cx="155.9" cy="467.5" r="0.95" fill="#111"/>
<circle cx="126.7" cy="459.6" r="0.9" fill="#111"/>
<circle cx="158.0" cy="461.6" r="0.9" fill="#e8321e" stroke="#ffb8a8" stroke-width="0.15"/>
<circle cx="125.3" cy="464.3" r="0.9" fill="#111"/>
<circle cx="110.4" cy="460.3" r="0.85" fill="#1f1f6e"/>
<circle cx="154.3" cy="315.8" r="1.1" fill="#e8321e" stroke="#ffb8a8" stroke-width="0.15"/>
<circle cx="158.8" cy="467.1" r="0.95" fill="#111"/>
<circle cx="218.5" cy="466.5" r="0.95" fill="#111"/>
<circle cx="128.6" cy="457.9" r="0.9" fill="#111"/>
<circle cx="113.1" cy="451.9" r="0.85" fill="#1f1f6e"/>
<circle cx="138.8" cy="468.1" r="0.9" fill="#111"/>
<circle cx="163.7" cy="458.4" r="0.9" fill="#e8321e" stroke="#ffb8a8" stroke-width="0.15"/>
<circle cx="120.8" cy="468.1" r="0.9" fill="#111"/>
<circle cx="114.4" cy="466.7" r="0.85" fill="#1f1f6e"/>
<circle cx="136.5" cy="462.7" r="0.9" fill="#111"/>
<circle cx="157.7" cy="467.8" r="0.9" fill="#111"/>
<circle cx="117.8" cy="468.2" r="0.85" fill="#1f1f6e"/>
<circle cx="137.1" cy="466.0" r="0.9" fill="#111"/>
<circle cx="151.2" cy="462.7" r="0.9" fill="#e8321e" stroke="#ffb8a8" stroke-width="0.15"/>
<circle cx="122.1" cy="462.7" r="0.9" fill="#111"/>
<circle cx="126.1" cy="466.5" r="0.9" fill="#111"/>
<circle cx="122.5" cy="467.4" r="0.9" fill="#111"/>
<circle cx="180.0" cy="450.0" r="1.1" fill="#e8321e" stroke="#ffb8a8" stroke-width="0.15"/>
<circle cx="141.2" cy="468.1" r="0.9" fill="#111"/>
<circle cx="145.1" cy="467.7" r="0.9" fill="#111"/>
<circle cx="149.4" cy="466.7" r="0.9" fill="#e8321e" stroke="#ffb8a8" stroke-width="0.15"/>
<circle cx="119.0" cy="467.7" r="0.9" fill="#111"/>
<circle cx="219.2" cy="467.5" r="0.95" fill="#111"/>
<circle cx="120.2" cy="467.4" r="0.85" fill="#1f1f6e"/>
<circle cx="221.9" cy="467.4" r="0.95" fill="#111"/>
<circle cx="141.5" cy="466.2" r="0.9" fill="#111"/>
<circle cx="126.5" cy="466.1" r="0.9" fill="#111"/>
<circle cx="150.8" cy="464.5" r="0.9" fill="#e8321e" stroke="#ffb8a8" stroke-width="0.15"/>
<circle cx="143.4" cy="468.2" r="0.9" fill="#e8321e" stroke="#ffb8a8" stroke-width="0.15"/>
<circle cx="125.6" cy="466.9" r="0.9" fill="#111"/>
<circle cx="144.6" cy="463.2" r="0.9" fill="#e8321e" stroke="#ffb8a8" stroke-width="0.15"/>
<circle cx="141.0" cy="453.3" r="0.9" fill="#e8321e" stroke="#ffb8a8" stroke-width="0.15"/>
<circle cx="145.2" cy="467.6" r="0.9" fill="#111"/>
<circle cx="132.0" cy="463.9" r="0.9" fill="#111"/>
<circle cx="188.3" cy="465.8" r="0.95" fill="#111"/>
<circle cx="153.0" cy="462.4" r="0.9" fill="#e8321e" stroke="#ffb8a8" stroke-width="0.15"/>
<circle cx="90.7" cy="465.1" r="0.85" fill="#1f1f6e"/>
<circle cx="126.5" cy="467.0" r="0.9" fill="#111"/>
<circle cx="128.0" cy="465.1" r="0.9" fill="#111"/>
<circle cx="144.7" cy="457.2" r="0.9" fill="#e8321e" stroke="#ffb8a8" stroke-width="0.15"/>
<circle cx="110.6" cy="459.3" r="0.85" fill="#1f1f6e"/>
<circle cx="135.0" cy="462.6" r="0.9" fill="#111"/>
<circle cx="151.7" cy="463.5" r="0.9" fill="#e8321e" stroke="#ffb8a8" stroke-width="0.15"/>
<circle cx="121.5" cy="468.1" r="0.9" fill="#111"/>
<circle cx="140.3" cy="458.6" r="0.9" fill="#111"/>
<circle cx="120.2" cy="467.4" r="0.9" fill="#111"/>
<circle cx="141.2" cy="456.0" r="0.9" fill="#e8321e" stroke="#ffb8a8" stroke-width="0.15"/>
<circle cx="134.4" cy="467.4" r="0.9" fill="#111"/>
<circle cx="198.3" cy="467.5" r="0.95" fill="#111"/>
<circle cx="195.1" cy="460.8" r="0.9" fill="#e8321e" stroke="#ffb8a8" stroke-width="0.15"/>
<circle cx="142.8" cy="459.1" r="0.9" fill="#e8321e" stroke="#ffb8a8" stroke-width="0.15"/>
<circle cx="99.1" cy="464.3" r="0.85" fill="#1f1f6e"/>
<circle cx="182.2" cy="451.2" r="0.9" fill="#e8321e" stroke="#ffb8a8" stroke-width="0.15"/>
<circle cx="155.3" cy="467.7" r="0.9" fill="#111"/>
<circle cx="157.4" cy="466.5" r="0.9" fill="#e8321e" stroke="#ffb8a8" stroke-width="0.15"/>
<circle cx="133.4" cy="461.5" r="0.9" fill="#111"/>
<circle cx="136.7" cy="463.9" r="0.9" fill="#111"/>
<circle cx="136.8" cy="462.0" r="0.9" fill="#111"/>
<circle cx="124.6" cy="461.2" r="0.9" fill="#111"/>
<circle cx="161.8" cy="459.3" r="0.9" fill="#e8321e" stroke="#ffb8a8" stroke-width="0.15"/>
<circle cx="131.9" cy="465.9" r="0.9" fill="#111"/>
<circle cx="189.3" cy="467.2" r="0.95" fill="#111"/>
<circle cx="158.0" cy="467.8" r="0.9" fill="#e8321e" stroke="#ffb8a8" stroke-width="0.15"/>
<circle cx="156.5" cy="467.4" r="0.9" fill="#e8321e" stroke="#ffb8a8" stroke-width="0.15"/>
<circle cx="147.4" cy="467.5" r="0.9" fill="#e8321e" stroke="#ffb8a8" stroke-width="0.15"/>
<circle cx="144.0" cy="463.6" r="0.9" fill="#e8321e" stroke="#ffb8a8" stroke-width="0.15"/>
<circle cx="118.9" cy="460.5" r="0.85" fill="#1f1f6e"/>
<circle cx="152.0" cy="467.9" r="0.9" fill="#111"/>
<circle cx="98.8" cy="464.6" r="0.85" fill="#1f1f6e"/>
<circle cx="123.7" cy="459.0" r="0.9" fill="#111"/>
<circle cx="126.4" cy="466.6" r="0.9" fill="#111"/>
<circle cx="92.8" cy="461.8" r="0.85" fill="#1f1f6e"/>
<circle cx="142.7" cy="465.3" r="0.9" fill="#e8321e" stroke="#ffb8a8" stroke-width="0.15"/>
<circle cx="128.7" cy="467.3" r="0.9" fill="#111"/>
<circle cx="153.7" cy="467.8" r="0.9" fill="#111"/>
<circle cx="144.2" cy="466.8" r="0.9" fill="#111"/>
<circle cx="129.0" cy="465.2" r="0.9" fill="#111"/>
<circle cx="134.6" cy="454.2" r="0.9" fill="#111"/>
<circle cx="123.0" cy="458.8" r="0.85" fill="#1f1f6e"/>
<circle cx="129.0" cy="467.2" r="0.9" fill="#111"/>
<circle cx="104.7" cy="467.8" r="0.9" fill="#111"/>
<circle cx="155.1" cy="468.0" r="0.9" fill="#e8321e" stroke="#ffb8a8" stroke-width="0.15"/>
<circle cx="212.4" cy="467.7" r="0.95" fill="#111"/>
<circle cx="105.7" cy="468.1" r="0.9" fill="#111"/>
<circle cx="208.3" cy="467.3" r="0.95" fill="#111"/>
<circle cx="101.5" cy="460.6" r="0.85" fill="#1f1f6e"/>
<circle cx="89.6" cy="457.9" r="0.85" fill="#1f1f6e"/>
<circle cx="121.5" cy="465.7" r="0.9" fill="#111"/>
<circle cx="85.9" cy="467.9" r="0.9" fill="#111"/>
<circle cx="112.4" cy="447.7" r="0.85" fill="#1f1f6e"/>
<circle cx="215.4" cy="466.7" r="0.95" fill="#111"/>
<circle cx="151.7" cy="455.9" r="0.9" fill="#e8321e" stroke="#ffb8a8" stroke-width="0.15"/>
<circle cx="153.3" cy="464.4" r="0.9" fill="#e8321e" stroke="#ffb8a8" stroke-width="0.15"/>
<circle cx="162.1" cy="466.4" r="0.95" fill="#111"/>
<circle cx="185.0" cy="465.6" r="0.95" fill="#111"/>
<circle cx="167.3" cy="467.8" r="0.9" fill="#111"/>
<circle cx="161.7" cy="453.9" r="0.9" fill="#e8321e" stroke="#ffb8a8" stroke-width="0.15"/>
<circle cx="179.3" cy="467.2" r="0.95" fill="#111"/>
<circle cx="134.0" cy="458.0" r="0.9" fill="#111"/>
<circle cx="160.5" cy="467.8" r="0.9" fill="#111"/>
<circle cx="146.3" cy="466.4" r="0.9" fill="#111"/>
<circle cx="85.1" cy="462.7" r="0.85" fill="#1f1f6e"/>
<circle cx="161.6" cy="467.8" r="0.95" fill="#111"/>
<circle cx="118.1" cy="465.3" r="0.85" fill="#1f1f6e"/>
<circle cx="163.3" cy="466.1" r="0.95" fill="#111"/>
<circle cx="125.7" cy="464.0" r="0.9" fill="#111"/>
<circle cx="127.4" cy="467.9" r="0.9" fill="#111"/>
<circle cx="89.3" cy="463.1" r="0.85" fill="#1f1f6e"/>
<circle cx="130.5" cy="459.3" r="0.9" fill="#111"/>
<circle cx="114.5" cy="445.5" r="0.85" fill="#1f1f6e"/>
<circle cx="127.8" cy="468.2" r="0.9" fill="#111"/>
<circle cx="131.0" cy="467.3" r="0.9" fill="#111"/>
<circle cx="144.2" cy="462.8" r="0.9" fill="#e8321e" stroke="#ffb8a8" stroke-width="0.15"/>
<circle cx="66.3" cy="458.2" r="1.1" fill="#1f1f6e"/>
<circle cx="196.6" cy="465.7" r="0.95" fill="#111"/>
<circle cx="142.2" cy="463.8" r="0.9" fill="#e8321e" stroke="#ffb8a8" stroke-width="0.15"/>
<circle cx="145.1" cy="466.1" r="0.9" fill="#e8321e" stroke="#ffb8a8" stroke-width="0.15"/>
<circle cx="172.0" cy="468.2" r="0.9" fill="#111"/>
<circle cx="215.5" cy="467.7" r="0.95" fill="#111"/>
<circle cx="129.1" cy="465.4" r="0.9" fill="#111"/>
<circle cx="160.0" cy="462.5" r="0.9" fill="#e8321e" stroke="#ffb8a8" stroke-width="0.15"/>
<circle cx="165.1" cy="467.1" r="0.95" fill="#111"/>
<circle cx="143.2" cy="462.4" r="0.9" fill="#e8321e" stroke="#ffb8a8" stroke-width="0.15"/>
<circle cx="131.5" cy="465.0" r="0.9" fill="#111"/>
<circle cx="191.0" cy="467.0" r="0.95" fill="#111"/>
<circle cx="175.2" cy="397.3" r="1.1" fill="#e8321e" stroke="#ffb8a8" stroke-width="0.15"/>
<circle cx="169.9" cy="446.4" r="0.9" fill="#e8321e" stroke="#ffb8a8" stroke-width="0.15"/>
<circle cx="155.3" cy="466.1" r="0.9" fill="#e8321e" stroke="#ffb8a8" stroke-width="0.15"/>
<circle cx="137.7" cy="467.3" r="0.9" fill="#111"/>
<circle cx="140.4" cy="453.0" r="0.9" fill="#e8321e" stroke="#ffb8a8" stroke-width="0.15"/>
<circle cx="126.7" cy="467.6" r="0.9" fill="#111"/>
<circle cx="123.6" cy="459.8" r="0.85" fill="#1f1f6e"/>
<circle cx="145.3" cy="461.8" r="0.9" fill="#e8321e" stroke="#ffb8a8" stroke-width="0.15"/>
<circle cx="142.7" cy="468.0" r="0.9" fill="#e8321e" stroke="#ffb8a8" stroke-width="0.15"/>
<circle cx="131.0" cy="465.9" r="0.9" fill="#111"/>
<circle cx="128.4" cy="465.7" r="0.9" fill="#111"/>
<circle cx="169.8" cy="466.6" r="0.95" fill="#111"/>
<circle cx="168.4" cy="467.9" r="0.9" fill="#111"/>
<circle cx="108.1" cy="460.7" r="0.85" fill="#1f1f6e"/>
<circle cx="141.8" cy="467.7" r="0.9" fill="#111"/>
<circle cx="143.5" cy="463.3" r="0.9" fill="#e8321e" stroke="#ffb8a8" stroke-width="0.15"/>
<circle cx="160.7" cy="462.9" r="0.9" fill="#e8321e" stroke="#ffb8a8" stroke-width="0.15"/>
<circle cx="164.6" cy="467.9" r="0.9" fill="#111"/>
<circle cx="144.1" cy="467.8" r="0.9" fill="#e8321e" stroke="#ffb8a8" stroke-width="0.15"/>
<circle cx="106.0" cy="466.9" r="0.9" fill="#111"/>
<circle cx="109.2" cy="467.9" r="0.9" fill="#111"/>
<circle cx="184.7" cy="466.5" r="0.9" fill="#111"/>
<circle cx="118.8" cy="468.1" r="0.9" fill="#111"/>
<circle cx="105.9" cy="457.3" r="0.85" fill="#1f1f6e"/>
<circle cx="135.1" cy="456.3" r="0.9" fill="#111"/>
<circle cx="141.8" cy="461.8" r="0.9" fill="#e8321e" stroke="#ffb8a8" stroke-width="0.15"/>
<circle cx="132.9" cy="467.4" r="0.9" fill="#111"/>
<circle cx="134.7" cy="467.6" r="0.9" fill="#111"/>
<circle cx="129.0" cy="461.2" r="0.9" fill="#111"/>
<circle cx="181.9" cy="459.8" r="0.9" fill="#e8321e" stroke="#ffb8a8" stroke-width="0.15"/>
<circle cx="156.4" cy="453.8" r="0.9" fill="#e8321e" stroke="#ffb8a8" stroke-width="0.15"/>
<circle cx="92.8" cy="461.9" r="0.85" fill="#1f1f6e"/>
<circle cx="160.6" cy="467.9" r="0.9" fill="#e8321e" stroke="#ffb8a8" stroke-width="0.15"/>
<circle cx="162.0" cy="457.3" r="0.9" fill="#e8321e" stroke="#ffb8a8" stroke-width="0.15"/>
<circle cx="141.1" cy="462.1" r="0.9" fill="#111"/>
<circle cx="116.6" cy="462.5" r="0.85" fill="#1f1f6e"/>
<circle cx="122.8" cy="466.5" r="0.9" fill="#111"/>
<circle cx="122.8" cy="467.8" r="0.9" fill="#111"/>
<circle cx="112.7" cy="464.6" r="0.85" fill="#1f1f6e"/>
<circle cx="129.9" cy="462.0" r="0.9" fill="#111"/>
<circle cx="127.9" cy="457.5" r="0.9" fill="#111"/>
<circle cx="153.9" cy="468.1" r="0.9" fill="#111"/>
<circle cx="220.3" cy="467.2" r="0.95" fill="#111"/>
<circle cx="160.7" cy="467.6" r="0.9" fill="#111"/>
<circle cx="117.9" cy="468.2" r="0.9" fill="#111"/>
<circle cx="126.6" cy="454.5" r="0.9" fill="#111"/>
<circle cx="162.3" cy="466.5" r="0.9" fill="#e8321e" stroke="#ffb8a8" stroke-width="0.15"/>
<circle cx="156.6" cy="462.2" r="0.9" fill="#e8321e" stroke="#ffb8a8" stroke-width="0.15"/>
<circle cx="166.1" cy="467.6" r="0.9" fill="#111"/>
<circle cx="161.8" cy="463.7" r="0.9" fill="#e8321e" stroke="#ffb8a8" stroke-width="0.15"/>
<circle cx="111.3" cy="467.6" r="0.9" fill="#111"/>
<circle cx="191.4" cy="466.7" r="0.95" fill="#111"/>
<circle cx="154.1" cy="462.2" r="0.9" fill="#e8321e" stroke="#ffb8a8" stroke-width="0.15"/>
<circle cx="130.7" cy="467.6" r="0.9" fill="#111"/>
<circle cx="132.0" cy="465.5" r="0.9" fill="#111"/>
<circle cx="141.4" cy="467.2" r="0.9" fill="#111"/>
<circle cx="214.9" cy="467.0" r="0.95" fill="#111"/>
<circle cx="149.0" cy="468.1" r="0.9" fill="#e8321e" stroke="#ffb8a8" stroke-width="0.15"/>
<circle cx="134.0" cy="467.7" r="0.9" fill="#111"/>
<circle cx="149.7" cy="455.5" r="0.9" fill="#e8321e" stroke="#ffb8a8" stroke-width="0.15"/>
<circle cx="98.9" cy="468.0" r="0.9" fill="#111"/>
<circle cx="144.6" cy="464.5" r="0.9" fill="#e8321e" stroke="#ffb8a8" stroke-width="0.15"/>
<circle cx="130.7" cy="466.0" r="0.9" fill="#111"/>
<circle cx="138.8" cy="464.8" r="0.9" fill="#111"/>
<circle cx="134.6" cy="464.7" r="0.9" fill="#111"/>
<circle cx="205.6" cy="467.5" r="0.95" fill="#111"/>
<circle cx="132.2" cy="467.8" r="0.9" fill="#111"/>
<circle cx="158.8" cy="468.1" r="0.9" fill="#111"/>
<circle cx="144.9" cy="465.8" r="0.9" fill="#e8321e" stroke="#ffb8a8" stroke-width="0.15"/>
<circle cx="123.8" cy="462.7" r="0.9" fill="#111"/>
<circle cx="219.2" cy="468.0" r="0.95" fill="#111"/>
<circle cx="120.3" cy="467.8" r="0.9" fill="#111"/>
<circle cx="150.9" cy="467.7" r="0.9" fill="#111"/>
<circle cx="160.6" cy="466.9" r="0.95" fill="#111"/>
<circle cx="165.5" cy="467.9" r="0.9" fill="#111"/>
<circle cx="126.7" cy="459.6" r="0.9" fill="#111"/>
<circle cx="188.7" cy="468.0" r="0.95" fill="#111"/>
<circle cx="157.4" cy="466.7" r="0.95" fill="#111"/>
<circle cx="171.0" cy="455.0" r="0.9" fill="#e8321e" stroke="#ffb8a8" stroke-width="0.15"/>
<circle cx="179.5" cy="467.1" r="0.95" fill="#111"/>
<circle cx="72.4" cy="467.1" r="0.85" fill="#1f1f6e"/>
<circle cx="87.6" cy="463.5" r="0.85" fill="#1f1f6e"/>
<circle cx="109.3" cy="467.2" r="0.9" fill="#111"/>
<circle cx="106.3" cy="465.4" r="0.85" fill="#1f1f6e"/>
<circle cx="158.6" cy="467.4" r="0.9" fill="#111"/>
<circle cx="161.4" cy="467.3" r="0.9" fill="#e8321e" stroke="#ffb8a8" stroke-width="0.15"/>
<circle cx="144.4" cy="457.9" r="0.9" fill="#e8321e" stroke="#ffb8a8" stroke-width="0.15"/>
<circle cx="131.1" cy="468.2" r="0.9" fill="#111"/>
<circle cx="177.0" cy="467.3" r="0.95" fill="#111"/>
<circle cx="132.7" cy="468.0" r="0.9" fill="#111"/>
<circle cx="92.2" cy="462.3" r="0.85" fill="#1f1f6e"/>
<circle cx="157.9" cy="461.4" r="0.9" fill="#e8321e" stroke="#ffb8a8" stroke-width="0.15"/>
<circle cx="133.3" cy="466.9" r="0.9" fill="#111"/>
<circle cx="141.0" cy="460.9" r="0.9" fill="#e8321e" stroke="#ffb8a8" stroke-width="0.15"/>
<circle cx="121.0" cy="465.7" r="0.9" fill="#111"/>
<circle cx="133.6" cy="465.5" r="0.9" fill="#111"/>
<circle cx="93.4" cy="466.7" r="0.9" fill="#111"/>
<circle cx="138.1" cy="419.8" r="1.1" fill="#111"/>
<circle cx="172.0" cy="467.7" r="0.95" fill="#111"/>
<circle cx="145.2" cy="458.8" r="0.9" fill="#e8321e" stroke="#ffb8a8" stroke-width="0.15"/>
<circle cx="135.0" cy="459.3" r="0.9" fill="#111"/>
<circle cx="151.6" cy="460.9" r="0.9" fill="#e8321e" stroke="#ffb8a8" stroke-width="0.15"/>
<circle cx="104.1" cy="455.8" r="0.85" fill="#1f1f6e"/>
<circle cx="156.5" cy="468.0" r="0.95" fill="#111"/>
<circle cx="124.2" cy="459.5" r="0.9" fill="#111"/>
<circle cx="141.5" cy="467.6" r="0.9" fill="#e8321e" stroke="#ffb8a8" stroke-width="0.15"/>
<circle cx="162.3" cy="467.6" r="0.95" fill="#111"/>
<circle cx="125.5" cy="463.8" r="0.9" fill="#111"/>
<circle cx="150.2" cy="456.6" r="0.9" fill="#e8321e" stroke="#ffb8a8" stroke-width="0.15"/>
<circle cx="150.8" cy="457.4" r="0.9" fill="#e8321e" stroke="#ffb8a8" stroke-width="0.15"/>
<circle cx="128.7" cy="465.5" r="0.9" fill="#111"/>
<circle cx="136.2" cy="463.3" r="0.9" fill="#111"/>
<circle cx="118.8" cy="465.1" r="0.85" fill="#1f1f6e"/>
<circle cx="135.8" cy="465.9" r="0.9" fill="#111"/>
<circle cx="159.4" cy="467.5" r="0.9" fill="#111"/>
<circle cx="154.0" cy="467.1" r="0.9" fill="#111"/>
<circle cx="140.7" cy="452.0" r="0.9" fill="#111"/>
<circle cx="138.7" cy="458.0" r="0.9" fill="#111"/>
<circle cx="205.6" cy="465.5" r="0.95" fill="#111"/>
<circle cx="172.4" cy="467.6" r="0.95" fill="#111"/>
<circle cx="185.3" cy="464.1" r="0.9" fill="#e8321e" stroke="#ffb8a8" stroke-width="0.15"/>
<circle cx="132.1" cy="464.5" r="0.9" fill="#111"/>
<circle cx="128.4" cy="449.1" r="0.9" fill="#111"/>
<circle cx="158.8" cy="466.8" r="0.9" fill="#e8321e" stroke="#ffb8a8" stroke-width="0.15"/>
<circle cx="191.3" cy="464.7" r="0.9" fill="#e8321e" stroke="#ffb8a8" stroke-width="0.15"/>
<circle cx="148.6" cy="467.4" r="0.9" fill="#e8321e" stroke="#ffb8a8" stroke-width="0.15"/>
<circle cx="130.6" cy="468.0" r="0.9" fill="#111"/>
<circle cx="158.2" cy="460.7" r="0.9" fill="#e8321e" stroke="#ffb8a8" stroke-width="0.15"/>
<circle cx="112.8" cy="465.4" r="0.85" fill="#1f1f6e"/>
<circle cx="125.9" cy="464.6" r="0.9" fill="#111"/>
<circle cx="194.4" cy="454.0" r="0.9" fill="#e8321e" stroke="#ffb8a8" stroke-width="0.15"/>
<circle cx="150.4" cy="454.1" r="0.9" fill="#e8321e" stroke="#ffb8a8" stroke-width="0.15"/>
<circle cx="119.5" cy="468.1" r="0.9" fill="#111"/>
<circle cx="112.0" cy="460.3" r="0.85" fill="#1f1f6e"/>
<circle cx="161.2" cy="466.9" r="0.9" fill="#e8321e" stroke="#ffb8a8" stroke-width="0.15"/>
<circle cx="139.1" cy="464.2" r="0.9" fill="#111"/>
<circle cx="125.4" cy="466.5" r="0.9" fill="#111"/>
<circle cx="90.0" cy="464.5" r="0.85" fill="#1f1f6e"/>
<circle cx="142.3" cy="458.0" r="0.9" fill="#e8321e" stroke="#ffb8a8" stroke-width="0.15"/>
<circle cx="143.8" cy="467.7" r="0.9" fill="#111"/>
<circle cx="183.2" cy="466.7" r="0.95" fill="#111"/>
<circle cx="130.3" cy="467.1" r="0.9" fill="#111"/>
<circle cx="125.0" cy="467.1" r="0.9" fill="#111"/>
<circle cx="156.3" cy="467.3" r="0.9" fill="#e8321e" stroke="#ffb8a8" stroke-width="0.15"/>
<circle cx="124.6" cy="391.4" r="1.1" fill="#111"/>
<circle cx="145.3" cy="466.0" r="0.9" fill="#e8321e" stroke="#ffb8a8" stroke-width="0.15"/>
<circle cx="133.3" cy="468.0" r="0.9" fill="#111"/>
<circle cx="111.9" cy="468.1" r="0.9" fill="#111"/>
<circle cx="208.9" cy="466.8" r="0.95" fill="#111"/>
<circle cx="117.5" cy="467.8" r="0.9" fill="#111"/>
<circle cx="146.1" cy="467.4" r="0.9" fill="#111"/>
<circle cx="220.0" cy="460.0" r="1.1" fill="#e8321e" stroke="#ffb8a8" stroke-width="0.15"/>
<circle cx="153.5" cy="460.0" r="0.9" fill="#e8321e" stroke="#ffb8a8" stroke-width="0.15"/>
<circle cx="137.3" cy="464.5" r="0.9" fill="#111"/>
<circle cx="141.4" cy="467.6" r="0.9" fill="#111"/>
<circle cx="140.3" cy="467.4" r="0.9" fill="#e8321e" stroke="#ffb8a8" stroke-width="0.15"/>
<circle cx="113.8" cy="462.1" r="0.85" fill="#1f1f6e"/>
<circle cx="154.2" cy="462.8" r="0.9" fill="#e8321e" stroke="#ffb8a8" stroke-width="0.15"/>
<circle cx="130.1" cy="467.8" r="0.9" fill="#111"/>
<circle cx="140.3" cy="457.0" r="0.9" fill="#e8321e" stroke="#ffb8a8" stroke-width="0.15"/>
<circle cx="160.6" cy="463.3" r="0.9" fill="#e8321e" stroke="#ffb8a8" stroke-width="0.15"/>
<circle cx="149.7" cy="461.7" r="0.9" fill="#e8321e" stroke="#ffb8a8" stroke-width="0.15"/>
<circle cx="148.5" cy="462.7" r="0.9" fill="#e8321e" stroke="#ffb8a8" stroke-width="0.15"/>
<circle cx="151.9" cy="460.6" r="0.9" fill="#e8321e" stroke="#ffb8a8" stroke-width="0.15"/>
<circle cx="119.2" cy="459.1" r="0.85" fill="#1f1f6e"/>
<circle cx="147.8" cy="468.0" r="0.9" fill="#111"/>
<circle cx="143.7" cy="465.5" r="0.9" fill="#e8321e" stroke="#ffb8a8" stroke-width="0.15"/>
<circle cx="143.7" cy="458.5" r="0.9" fill="#e8321e" stroke="#ffb8a8" stroke-width="0.15"/>
<circle cx="161.0" cy="466.9" r="0.95" fill="#111"/>
<circle cx="199.0" cy="465.6" r="0.9" fill="#e8321e" stroke="#ffb8a8" stroke-width="0.15"/>
<circle cx="115.2" cy="465.7" r="0.85" fill="#1f1f6e"/>
<circle cx="119.4" cy="457.1" r="0.85" fill="#1f1f6e"/>
<circle cx="97.0" cy="466.9" r="0.85" fill="#1f1f6e"/>
<circle cx="101.6" cy="464.1" r="0.85" fill="#1f1f6e"/>
<circle cx="149.4" cy="450.5" r="0.9" fill="#e8321e" stroke="#ffb8a8" stroke-width="0.15"/>
<circle cx="98.5" cy="466.7" r="0.85" fill="#1f1f6e"/>
<circle cx="169.3" cy="464.1" r="0.9" fill="#e8321e" stroke="#ffb8a8" stroke-width="0.15"/>
<circle cx="155.7" cy="468.0" r="0.95" fill="#111"/>
<circle cx="177.7" cy="468.0" r="0.95" fill="#111"/>
<circle cx="146.3" cy="459.0" r="0.9" fill="#e8321e" stroke="#ffb8a8" stroke-width="0.15"/>
<circle cx="152.4" cy="460.8" r="0.9" fill="#e8321e" stroke="#ffb8a8" stroke-width="0.15"/>
<circle cx="122.8" cy="468.0" r="0.9" fill="#111"/>
<circle cx="177.8" cy="453.5" r="0.9" fill="#e8321e" stroke="#ffb8a8" stroke-width="0.15"/>
<circle cx="203.0" cy="467.1" r="0.95" fill="#111"/>
<circle cx="140.6" cy="465.7" r="0.9" fill="#e8321e" stroke="#ffb8a8" stroke-width="0.15"/>
<circle cx="107.5" cy="467.4" r="0.85" fill="#1f1f6e"/>
<circle cx="151.6" cy="468.2" r="0.9" fill="#111"/>
<circle cx="143.3" cy="460.3" r="0.9" fill="#e8321e" stroke="#ffb8a8" stroke-width="0.15"/>
<circle cx="165.1" cy="467.8" r="0.95" fill="#111"/>
<circle cx="129.3" cy="467.2" r="0.9" fill="#111"/>
<circle cx="143.8" cy="466.5" r="0.9" fill="#e8321e" stroke="#ffb8a8" stroke-width="0.15"/>
<circle cx="155.0" cy="463.1" r="0.9" fill="#e8321e" stroke="#ffb8a8" stroke-width="0.15"/>
<circle cx="134.8" cy="462.4" r="0.9" fill="#111"/>
<circle cx="156.3" cy="467.1" r="0.9" fill="#e8321e" stroke="#ffb8a8" stroke-width="0.15"/>
<circle cx="184.1" cy="467.1" r="0.95" fill="#111"/>
<circle cx="116.8" cy="467.6" r="0.9" fill="#111"/>
<circle cx="113.8" cy="461.3" r="0.85" fill="#1f1f6e"/>
<circle cx="129.1" cy="466.8" r="0.9" fill="#111"/>
<circle cx="148.2" cy="468.1" r="0.9" fill="#e8321e" stroke="#ffb8a8" stroke-width="0.15"/>
<circle cx="137.1" cy="459.3" r="0.9" fill="#111"/>
<circle cx="144.0" cy="466.1" r="0.9" fill="#111"/>
<circle cx="198.1" cy="465.2" r="0.95" fill="#111"/>
<circle cx="115.5" cy="464.5" r="0.85" fill="#1f1f6e"/>
<circle cx="138.5" cy="455.4" r="0.9" fill="#111"/>
<circle cx="156.7" cy="468.0" r="0.95" fill="#111"/>
<circle cx="159.0" cy="465.0" r="0.9" fill="#e8321e" stroke="#ffb8a8" stroke-width="0.15"/>
<circle cx="143.3" cy="456.3" r="0.9" fill="#e8321e" stroke="#ffb8a8" stroke-width="0.15"/>
<circle cx="152.0" cy="464.8" r="0.9" fill="#e8321e" stroke="#ffb8a8" stroke-width="0.15"/>
<circle cx="198.4" cy="466.4" r="0.95" fill="#111"/>
<circle cx="156.3" cy="467.7" r="0.9" fill="#e8321e" stroke="#ffb8a8" stroke-width="0.15"/>
<circle cx="125.5" cy="465.8" r="0.9" fill="#111"/>
<circle cx="170.7" cy="467.6" r="0.9" fill="#111"/>
<circle cx="133.9" cy="465.0" r="0.9" fill="#111"/>
<circle cx="130.0" cy="461.6" r="0.9" fill="#111"/>
<circle cx="108.3" cy="467.7" r="0.9" fill="#111"/>
<circle cx="149.6" cy="463.8" r="0.9" fill="#e8321e" stroke="#ffb8a8" stroke-width="0.15"/>
<circle cx="153.6" cy="466.6" r="0.9" fill="#111"/>
<circle cx="150.8" cy="466.5" r="0.9" fill="#e8321e" stroke="#ffb8a8" stroke-width="0.15"/>
<circle cx="131.3" cy="468.0" r="0.9" fill="#111"/>
<circle cx="95.0" cy="465.8" r="0.85" fill="#1f1f6e"/>
<circle cx="137.8" cy="462.2" r="0.9" fill="#111"/>
<circle cx="129.4" cy="458.5" r="0.9" fill="#111"/>
<circle cx="159.8" cy="461.4" r="0.9" fill="#e8321e" stroke="#ffb8a8" stroke-width="0.15"/>
<circle cx="140.2" cy="467.6" r="0.9" fill="#111"/>
<circle cx="156.7" cy="465.2" r="0.9" fill="#e8321e" stroke="#ffb8a8" stroke-width="0.15"/>
<circle cx="123.7" cy="467.4" r="0.9" fill="#111"/>
<circle cx="102.4" cy="467.6" r="0.9" fill="#111"/>
<circle cx="156.5" cy="466.1" r="0.95" fill="#111"/>
<circle cx="93.2" cy="465.9" r="0.85" fill="#1f1f6e"/>
<circle cx="143.7" cy="457.5" r="0.9" fill="#e8321e" stroke="#ffb8a8" stroke-width="0.15"/>
<circle cx="91.1" cy="465.5" r="0.85" fill="#1f1f6e"/>
<circle cx="198.8" cy="467.3" r="0.95" fill="#111"/>
<circle cx="140.6" cy="467.1" r="0.9" fill="#111"/>
<circle cx="155.7" cy="466.4" r="0.9" fill="#e8321e" stroke="#ffb8a8" stroke-width="0.15"/>
<circle cx="168.3" cy="466.0" r="0.95" fill="#111"/>
<circle cx="196.7" cy="466.9" r="0.95" fill="#111"/>
<circle cx="109.0" cy="465.5" r="0.85" fill="#1f1f6e"/>
<circle cx="117.8" cy="467.7" r="0.9" fill="#111"/>
<circle cx="157.3" cy="463.5" r="0.9" fill="#e8321e" stroke="#ffb8a8" stroke-width="0.15"/>
<circle cx="162.3" cy="468.0" r="0.95" fill="#111"/>
<circle cx="133.1" cy="466.9" r="0.9" fill="#111"/>
<circle cx="140.4" cy="450.4" r="0.9" fill="#e8321e" stroke="#ffb8a8" stroke-width="0.15"/>
<circle cx="129.7" cy="463.8" r="0.9" fill="#111"/>
<circle cx="118.0" cy="466.9" r="0.85" fill="#1f1f6e"/>
<circle cx="171.5" cy="458.1" r="0.9" fill="#e8321e" stroke="#ffb8a8" stroke-width="0.15"/>
<circle cx="119.4" cy="457.5" r="0.85" fill="#1f1f6e"/>
<circle cx="132.6" cy="450.0" r="0.9" fill="#111"/>
<circle cx="104.7" cy="454.5" r="0.85" fill="#1f1f6e"/>
<circle cx="154.2" cy="467.7" r="0.9" fill="#111"/>
<circle cx="153.5" cy="457.3" r="0.9" fill="#e8321e" stroke="#ffb8a8" stroke-width="0.15"/>
<circle cx="155.7" cy="467.9" r="0.9" fill="#e8321e" stroke="#ffb8a8" stroke-width="0.15"/>
<circle cx="166.8" cy="467.7" r="0.9" fill="#111"/>
<circle cx="136.7" cy="468.2" r="0.9" fill="#111"/>
<circle cx="135.4" cy="458.9" r="0.9" fill="#111"/>
<circle cx="133.1" cy="466.7" r="0.9" fill="#111"/>
<circle cx="138.5" cy="466.7" r="0.9" fill="#111"/>
<circle cx="108.2" cy="467.3" r="0.9" fill="#111"/>
<circle cx="116.9" cy="461.2" r="0.85" fill="#1f1f6e"/>
<circle cx="104.0" cy="468.2" r="0.9" fill="#111"/>
<circle cx="130.3" cy="468.1" r="0.9" fill="#111"/>
<circle cx="161.5" cy="462.4" r="0.9" fill="#e8321e" stroke="#ffb8a8" stroke-width="0.15"/>
<circle cx="124.9" cy="468.1" r="0.9" fill="#111"/>
<circle cx="140.9" cy="458.3" r="0.9" fill="#111"/>
<circle cx="130.7" cy="468.0" r="0.9" fill="#111"/>
<circle cx="124.9" cy="447.7" r="0.85" fill="#1f1f6e"/>
<circle cx="96.2" cy="457.5" r="0.85" fill="#1f1f6e"/>
<circle cx="159.8" cy="465.1" r="0.9" fill="#e8321e" stroke="#ffb8a8" stroke-width="0.15"/>
<circle cx="153.4" cy="464.0" r="0.9" fill="#e8321e" stroke="#ffb8a8" stroke-width="0.15"/>
<circle cx="198.6" cy="467.2" r="0.95" fill="#111"/>
<circle cx="121.7" cy="465.7" r="0.9" fill="#111"/>
<circle cx="155.4" cy="458.9" r="0.9" fill="#e8321e" stroke="#ffb8a8" stroke-width="0.15"/>
<circle cx="167.5" cy="467.4" r="0.9" fill="#111"/>
<circle cx="133.1" cy="461.1" r="0.9" fill="#111"/>
<circle cx="152.1" cy="467.4" r="0.9" fill="#e8321e" stroke="#ffb8a8" stroke-width="0.15"/>
<circle cx="200.0" cy="462.0" r="1.1" fill="#e8321e" stroke="#ffb8a8" stroke-width="0.15"/>
<circle cx="128.8" cy="468.1" r="0.9" fill="#111"/>
<circle cx="148.7" cy="463.4" r="0.9" fill="#e8321e" stroke="#ffb8a8" stroke-width="0.15"/>
<circle cx="144.5" cy="464.0" r="0.9" fill="#e8321e" stroke="#ffb8a8" stroke-width="0.15"/>
<circle cx="148.2" cy="464.3" r="0.9" fill="#e8321e" stroke="#ffb8a8" stroke-width="0.15"/>
<circle cx="157.0" cy="458.3" r="0.9" fill="#e8321e" stroke="#ffb8a8" stroke-width="0.15"/>
<circle cx="181.3" cy="456.2" r="0.9" fill="#e8321e" stroke="#ffb8a8" stroke-width="0.15"/>
<circle cx="214.9" cy="468.0" r="0.95" fill="#111"/>
<circle cx="130.1" cy="454.6" r="0.9" fill="#111"/>
<circle cx="146.6" cy="467.6" r="0.9" fill="#111"/>
<circle cx="76.9" cy="466.9" r="0.9" fill="#111"/>
<circle cx="117.4" cy="459.5" r="0.85" fill="#1f1f6e"/>
<circle cx="118.6" cy="463.6" r="0.85" fill="#1f1f6e"/>
<circle cx="123.4" cy="465.2" r="0.9" fill="#111"/>
<circle cx="110.2" cy="464.9" r="0.85" fill="#1f1f6e"/>
<circle cx="150.1" cy="467.3" r="0.9" fill="#e8321e" stroke="#ffb8a8" stroke-width="0.15"/>
<circle cx="65.5" cy="467.3" r="0.9" fill="#111"/>
<circle cx="149.0" cy="466.9" r="0.9" fill="#111"/>
<circle cx="161.7" cy="464.1" r="0.9" fill="#e8321e" stroke="#ffb8a8" stroke-width="0.15"/>
<circle cx="147.3" cy="461.2" r="0.9" fill="#e8321e" stroke="#ffb8a8" stroke-width="0.15"/>
<circle cx="125.8" cy="466.7" r="0.9" fill="#111"/>
<circle cx="118.7" cy="468.2" r="0.9" fill="#111"/>
<circle cx="160.7" cy="468.1" r="0.9" fill="#e8321e" stroke="#ffb8a8" stroke-width="0.15"/>
<circle cx="142.6" cy="451.4" r="0.9" fill="#111"/>
<circle cx="94.0" cy="467.5" r="0.9" fill="#111"/>
<circle cx="88.7" cy="460.6" r="0.85" fill="#1f1f6e"/>
<circle cx="88.2" cy="467.2" r="0.85" fill="#1f1f6e"/>
<circle cx="127.5" cy="459.5" r="0.9" fill="#111"/>
<circle cx="114.1" cy="468.0" r="0.9" fill="#111"/>
<circle cx="196.5" cy="466.2" r="0.95" fill="#111"/>
<circle cx="129.5" cy="467.9" r="0.9" fill="#111"/>
<circle cx="146.3" cy="467.4" r="0.9" fill="#e8321e" stroke="#ffb8a8" stroke-width="0.15"/>
<circle cx="128.2" cy="466.6" r="0.9" fill="#111"/>
<circle cx="147.4" cy="464.7" r="0.9" fill="#e8321e" stroke="#ffb8a8" stroke-width="0.15"/>
<circle cx="155.8" cy="466.3" r="0.9" fill="#e8321e" stroke="#ffb8a8" stroke-width="0.15"/>
<circle cx="128.8" cy="464.6" r="0.9" fill="#111"/>
<circle cx="143.8" cy="455.8" r="0.9" fill="#e8321e" stroke="#ffb8a8" stroke-width="0.15"/>
<circle cx="143.4" cy="463.5" r="0.9" fill="#e8321e" stroke="#ffb8a8" stroke-width="0.15"/>
<circle cx="140.9" cy="465.0" r="0.9" fill="#e8321e" stroke="#ffb8a8" stroke-width="0.15"/>
<circle cx="115.5" cy="465.5" r="0.85" fill="#1f1f6e"/>
<circle cx="126.3" cy="465.0" r="0.9" fill="#111"/>
<circle cx="124.2" cy="461.2" r="0.85" fill="#1f1f6e"/>
<circle cx="202.4" cy="466.2" r="0.95" fill="#111"/>
<circle cx="146.2" cy="468.0" r="0.9" fill="#e8321e" stroke="#ffb8a8" stroke-width="0.15"/>
<circle cx="137.4" cy="467.0" r="0.9" fill="#111"/>
<circle cx="138.5" cy="460.9" r="0.9" fill="#111"/>
<circle cx="145.7" cy="458.7" r="0.9" fill="#e8321e" stroke="#ffb8a8" stroke-width="0.15"/>
<circle cx="158.7" cy="462.7" r="0.9" fill="#e8321e" stroke="#ffb8a8" stroke-width="0.15"/>
<circle cx="125.6" cy="460.9" r="0.9" fill="#111"/>
<circle cx="160.5" cy="468.0" r="0.9" fill="#e8321e" stroke="#ffb8a8" stroke-width="0.15"/>
<circle cx="158.1" cy="466.8" r="0.9" fill="#111"/>
<circle cx="152.0" cy="467.9" r="0.9" fill="#e8321e" stroke="#ffb8a8" stroke-width="0.15"/>
<circle cx="132.2" cy="461.5" r="0.9" fill="#111"/>
<circle cx="145.2" cy="467.8" r="0.9" fill="#e8321e" stroke="#ffb8a8" stroke-width="0.15"/>
<circle cx="114.7" cy="467.8" r="0.9" fill="#111"/>
<circle cx="155.9" cy="457.0" r="0.9" fill="#e8321e" stroke="#ffb8a8" stroke-width="0.15"/>
<circle cx="152.7" cy="458.4" r="0.9" fill="#e8321e" stroke="#ffb8a8" stroke-width="0.15"/>
<circle cx="144.2" cy="453.0" r="0.9" fill="#e8321e" stroke="#ffb8a8" stroke-width="0.15"/>
<circle cx="193.0" cy="452.0" r="1.1" fill="#e8321e" stroke="#ffb8a8" stroke-width="0.15"/>
<circle cx="89.6" cy="462.4" r="0.85" fill="#1f1f6e"/>
<circle cx="188.6" cy="465.7" r="0.95" fill="#111"/>
<circle cx="153.6" cy="459.2" r="0.9" fill="#e8321e" stroke="#ffb8a8" stroke-width="0.15"/>
<circle cx="132.8" cy="460.7" r="0.9" fill="#111"/>
<circle cx="135.2" cy="456.2" r="0.9" fill="#111"/>
<circle cx="160.4" cy="464.5" r="0.9" fill="#e8321e" stroke="#ffb8a8" stroke-width="0.15"/>
<circle cx="217.5" cy="466.5" r="0.95" fill="#111"/>
<circle cx="148.9" cy="451.9" r="0.9" fill="#e8321e" stroke="#ffb8a8" stroke-width="0.15"/>
<circle cx="147.8" cy="464.9" r="0.9" fill="#e8321e" stroke="#ffb8a8" stroke-width="0.15"/>
<circle cx="157.8" cy="465.4" r="0.9" fill="#e8321e" stroke="#ffb8a8" stroke-width="0.15"/>
<circle cx="151.5" cy="459.3" r="0.9" fill="#e8321e" stroke="#ffb8a8" stroke-width="0.15"/>
<circle cx="113.0" cy="467.5" r="0.9" fill="#111"/>
<circle cx="140.0" cy="460.2" r="0.9" fill="#111"/>
<circle cx="145.3" cy="465.0" r="0.9" fill="#e8321e" stroke="#ffb8a8" stroke-width="0.15"/>
<circle cx="153.4" cy="463.7" r="0.9" fill="#e8321e" stroke="#ffb8a8" stroke-width="0.15"/>
<circle cx="79.6" cy="465.8" r="0.85" fill="#1f1f6e"/>
<circle cx="132.9" cy="467.3" r="0.9" fill="#111"/>
<circle cx="159.3" cy="468.0" r="0.95" fill="#111"/>
<circle cx="128.0" cy="466.0" r="0.9" fill="#111"/>
<circle cx="104.9" cy="466.7" r="0.85" fill="#1f1f6e"/>
<circle cx="124.2" cy="460.5" r="0.85" fill="#1f1f6e"/>
<circle cx="104.4" cy="463.3" r="0.85" fill="#1f1f6e"/>
<circle cx="134.9" cy="465.9" r="0.9" fill="#111"/>
<circle cx="155.6" cy="467.6" r="0.9" fill="#111"/>
<circle cx="107.5" cy="467.3" r="0.9" fill="#111"/>
<circle cx="137.4" cy="464.3" r="0.9" fill="#111"/>
<circle cx="142.3" cy="457.4" r="0.9" fill="#e8321e" stroke="#ffb8a8" stroke-width="0.15"/>
<circle cx="138.8" cy="467.8" r="0.9" fill="#111"/>
<circle cx="175.1" cy="465.7" r="0.9" fill="#e8321e" stroke="#ffb8a8" stroke-width="0.15"/>
<circle cx="122.3" cy="468.0" r="0.9" fill="#111"/>
<circle cx="121.1" cy="466.5" r="0.9" fill="#111"/>
<circle cx="183.8" cy="466.3" r="0.95" fill="#111"/>
<circle cx="121.5" cy="453.7" r="0.9" fill="#111"/>
<circle cx="84.8" cy="364.5" r="1.1" fill="#1f1f6e"/>
<circle cx="123.6" cy="464.6" r="0.9" fill="#111"/>
<circle cx="151.3" cy="467.4" r="0.9" fill="#e8321e" stroke="#ffb8a8" stroke-width="0.15"/>
<circle cx="143.3" cy="467.4" r="0.9" fill="#111"/>
<circle cx="157.3" cy="454.8" r="0.9" fill="#e8321e" stroke="#ffb8a8" stroke-width="0.15"/>
<circle cx="147.1" cy="466.2" r="0.9" fill="#111"/>
<circle cx="92.4" cy="463.3" r="0.85" fill="#1f1f6e"/>
<circle cx="120.2" cy="463.7" r="0.9" fill="#111"/>
<circle cx="217.7" cy="443.1" r="1.1" fill="#e8321e" stroke="#ffb8a8" stroke-width="0.15"/>
<circle cx="153.1" cy="454.0" r="0.9" fill="#e8321e" stroke="#ffb8a8" stroke-width="0.15"/>
<circle cx="142.8" cy="454.2" r="0.9" fill="#e8321e" stroke="#ffb8a8" stroke-width="0.15"/>
<circle cx="147.7" cy="464.6" r="0.9" fill="#e8321e" stroke="#ffb8a8" stroke-width="0.15"/>
<circle cx="128.3" cy="459.8" r="0.9" fill="#111"/>
<circle cx="134.2" cy="467.5" r="0.9" fill="#111"/>
<circle cx="137.4" cy="458.6" r="0.9" fill="#111"/>
<circle cx="160.8" cy="461.5" r="0.9" fill="#e8321e" stroke="#ffb8a8" stroke-width="0.15"/>
<circle cx="218.2" cy="467.1" r="0.95" fill="#111"/>
<circle cx="151.3" cy="466.8" r="0.9" fill="#e8321e" stroke="#ffb8a8" stroke-width="0.15"/>
<circle cx="175.6" cy="467.5" r="0.9" fill="#111"/>
<circle cx="147.6" cy="467.3" r="0.9" fill="#111"/>
<circle cx="119.7" cy="462.6" r="0.9" fill="#111"/>
<circle cx="115.8" cy="459.1" r="0.85" fill="#1f1f6e"/>
<circle cx="91.6" cy="466.5" r="0.85" fill="#1f1f6e"/>
<circle cx="150.0" cy="458.4" r="0.9" fill="#e8321e" stroke="#ffb8a8" stroke-width="0.15"/>
<circle cx="159.4" cy="466.8" r="0.9" fill="#e8321e" stroke="#ffb8a8" stroke-width="0.15"/>
<circle cx="194.5" cy="462.3" r="0.9" fill="#e8321e" stroke="#ffb8a8" stroke-width="0.15"/>
<circle cx="132.6" cy="462.1" r="0.9" fill="#111"/>
<circle cx="119.5" cy="467.8" r="0.9" fill="#111"/>
<circle cx="142.3" cy="464.6" r="0.9" fill="#e8321e" stroke="#ffb8a8" stroke-width="0.15"/>
<circle cx="131.6" cy="459.0" r="0.9" fill="#111"/>
<circle cx="140.6" cy="464.7" r="0.9" fill="#111"/>
<circle cx="216.6" cy="467.3" r="0.95" fill="#111"/>
<circle cx="155.8" cy="460.7" r="0.9" fill="#e8321e" stroke="#ffb8a8" stroke-width="0.15"/>
<circle cx="137.8" cy="465.0" r="0.9" fill="#111"/>
<circle cx="160.5" cy="468.1" r="0.9" fill="#e8321e" stroke="#ffb8a8" stroke-width="0.15"/>
<circle cx="141.8" cy="463.6" r="0.9" fill="#e8321e" stroke="#ffb8a8" stroke-width="0.15"/>
<circle cx="143.6" cy="459.4" r="0.9" fill="#e8321e" stroke="#ffb8a8" stroke-width="0.15"/>
<circle cx="162.0" cy="468.0" r="0.9" fill="#111"/>
<circle cx="152.6" cy="458.3" r="0.9" fill="#e8321e" stroke="#ffb8a8" stroke-width="0.15"/>
<circle cx="113.5" cy="467.6" r="0.85" fill="#1f1f6e"/>
<circle cx="158.0" cy="468.2" r="0.95" fill="#111"/>
<circle cx="156.6" cy="453.3" r="0.9" fill="#e8321e" stroke="#ffb8a8" stroke-width="0.15"/>
<circle cx="116.6" cy="466.4" r="0.85" fill="#1f1f6e"/>
<circle cx="123.6" cy="460.1" r="0.85" fill="#1f1f6e"/>
<circle cx="107.7" cy="467.5" r="0.85" fill="#1f1f6e"/>
<circle cx="155.5" cy="468.1" r="0.9" fill="#e8321e" stroke="#ffb8a8" stroke-width="0.15"/>
<circle cx="147.9" cy="468.2" r="0.9" fill="#e8321e" stroke="#ffb8a8" stroke-width="0.15"/>
<circle cx="132.9" cy="457.8" r="0.9" fill="#111"/>
<circle cx="150.5" cy="465.6" r="0.9" fill="#e8321e" stroke="#ffb8a8" stroke-width="0.15"/>
<circle cx="148.8" cy="467.7" r="0.9" fill="#e8321e" stroke="#ffb8a8" stroke-width="0.15"/>
<circle cx="137.1" cy="467.9" r="0.9" fill="#111"/>
<circle cx="160.1" cy="466.2" r="0.9" fill="#e8321e" stroke="#ffb8a8" stroke-width="0.15"/>
<circle cx="129.5" cy="458.5" r="0.9" fill="#111"/>
<circle cx="169.5" cy="455.0" r="0.9" fill="#e8321e" stroke="#ffb8a8" stroke-width="0.15"/>
<circle cx="120.5" cy="467.3" r="0.85" fill="#1f1f6e"/>
<circle cx="134.0" cy="421.3" r="1.1" fill="#111"/>
<circle cx="130.1" cy="466.3" r="0.9" fill="#111"/>
<circle cx="141.2" cy="465.7" r="0.9" fill="#e8321e" stroke="#ffb8a8" stroke-width="0.15"/>
<circle cx="143.8" cy="461.7" r="0.9" fill="#e8321e" stroke="#ffb8a8" stroke-width="0.15"/>
<circle cx="126.2" cy="462.2" r="0.9" fill="#111"/>
<circle cx="142.3" cy="461.5" r="0.9" fill="#e8321e" stroke="#ffb8a8" stroke-width="0.15"/>
<circle cx="115.5" cy="468.1" r="0.9" fill="#111"/>
<circle cx="141.9" cy="458.9" r="0.9" fill="#111"/>
<circle cx="116.6" cy="458.0" r="0.85" fill="#1f1f6e"/>
<circle cx="104.0" cy="465.0" r="0.85" fill="#1f1f6e"/>
<circle cx="155.9" cy="451.0" r="0.9" fill="#e8321e" stroke="#ffb8a8" stroke-width="0.15"/>
<circle cx="136.5" cy="467.0" r="0.9" fill="#111"/>
<circle cx="106.5" cy="467.7" r="0.85" fill="#1f1f6e"/>
<circle cx="213.7" cy="467.2" r="0.95" fill="#111"/>
<circle cx="176.2" cy="427.4" r="1.1" fill="#e8321e" stroke="#ffb8a8" stroke-width="0.15"/>
<circle cx="121.2" cy="465.1" r="0.9" fill="#111"/>
<circle cx="161.8" cy="466.7" r="0.9" fill="#e8321e" stroke="#ffb8a8" stroke-width="0.15"/>
<circle cx="133.1" cy="467.5" r="0.9" fill="#111"/>
<circle cx="137.2" cy="416.7" r="1.1" fill="#111"/>
<circle cx="143.4" cy="457.0" r="0.9" fill="#e8321e" stroke="#ffb8a8" stroke-width="0.15"/>
<circle cx="148.7" cy="467.4" r="0.9" fill="#111"/>
<circle cx="156.5" cy="467.1" r="0.9" fill="#e8321e" stroke="#ffb8a8" stroke-width="0.15"/>
<circle cx="215.2" cy="468.0" r="0.95" fill="#111"/>
<circle cx="102.3" cy="466.8" r="0.9" fill="#111"/>
<circle cx="198.3" cy="466.5" r="0.95" fill="#111"/>
<circle cx="165.6" cy="466.6" r="0.95" fill="#111"/>
<circle cx="108.2" cy="448.5" r="0.85" fill="#1f1f6e"/>
<circle cx="153.8" cy="467.0" r="0.9" fill="#e8321e" stroke="#ffb8a8" stroke-width="0.15"/>
<circle cx="202.3" cy="466.7" r="0.95" fill="#111"/>
<circle cx="153.7" cy="464.3" r="0.9" fill="#e8321e" stroke="#ffb8a8" stroke-width="0.15"/>
<circle cx="199.7" cy="468.0" r="0.95" fill="#111"/>
<circle cx="81.0" cy="416.8" r="1.1" fill="#1f1f6e"/>
<circle cx="121.3" cy="462.2" r="0.85" fill="#1f1f6e"/>
<circle cx="158.8" cy="467.8" r="0.95" fill="#111"/>
<circle cx="139.2" cy="414.4" r="1.1" fill="#111"/>
<circle cx="156.7" cy="462.8" r="0.9" fill="#e8321e" stroke="#ffb8a8" stroke-width="0.15"/>
<circle cx="204.4" cy="467.1" r="0.95" fill="#111"/>
<circle cx="131.5" cy="455.0" r="0.9" fill="#111"/>
<circle cx="210.4" cy="468.1" r="0.95" fill="#111"/>
<circle cx="115.4" cy="454.3" r="0.85" fill="#1f1f6e"/>
<circle cx="93.3" cy="467.4" r="0.85" fill="#1f1f6e"/>
<circle cx="85.7" cy="463.9" r="0.85" fill="#1f1f6e"/>
<circle cx="154.3" cy="462.1" r="0.9" fill="#e8321e" stroke="#ffb8a8" stroke-width="0.15"/>
<circle cx="167.7" cy="467.6" r="0.9" fill="#111"/>
<circle cx="119.9" cy="461.9" r="0.85" fill="#1f1f6e"/>
<circle cx="143.6" cy="461.7" r="0.9" fill="#e8321e" stroke="#ffb8a8" stroke-width="0.15"/>
<circle cx="154.1" cy="461.8" r="0.9" fill="#e8321e" stroke="#ffb8a8" stroke-width="0.15"/>
<circle cx="94.5" cy="462.3" r="0.85" fill="#1f1f6e"/>
<circle cx="150.8" cy="456.9" r="0.9" fill="#e8321e" stroke="#ffb8a8" stroke-width="0.15"/>
<circle cx="145.0" cy="462.2" r="0.9" fill="#e8321e" stroke="#ffb8a8" stroke-width="0.15"/>
<circle cx="159.3" cy="465.6" r="0.9" fill="#e8321e" stroke="#ffb8a8" stroke-width="0.15"/>
<circle cx="198.4" cy="466.6" r="0.9" fill="#111"/>
<circle cx="131.2" cy="462.0" r="0.9" fill="#111"/>
<circle cx="146.4" cy="468.0" r="0.9" fill="#111"/>
<circle cx="184.4" cy="466.7" r="0.95" fill="#111"/>
<circle cx="157.6" cy="466.7" r="0.95" fill="#111"/>
<circle cx="140.8" cy="466.2" r="0.9" fill="#e8321e" stroke="#ffb8a8" stroke-width="0.15"/>
<circle cx="86.8" cy="467.7" r="0.9" fill="#111"/>
<circle cx="91.5" cy="465.2" r="0.85" fill="#1f1f6e"/>
<circle cx="180.0" cy="466.2" r="0.95" fill="#111"/>
<circle cx="177.5" cy="466.7" r="0.95" fill="#111"/>
<circle cx="103.0" cy="466.1" r="0.9" fill="#111"/>
<circle cx="142.1" cy="462.6" r="0.9" fill="#e8321e" stroke="#ffb8a8" stroke-width="0.15"/>
<circle cx="139.5" cy="464.4" r="0.9" fill="#111"/>
<circle cx="157.4" cy="456.7" r="0.9" fill="#e8321e" stroke="#ffb8a8" stroke-width="0.15"/>
<circle cx="171.7" cy="463.1" r="0.9" fill="#e8321e" stroke="#ffb8a8" stroke-width="0.15"/>
<circle cx="165.3" cy="466.8" r="0.95" fill="#111"/>
<circle cx="142.3" cy="452.2" r="0.9" fill="#e8321e" stroke="#ffb8a8" stroke-width="0.15"/>
<circle cx="137.5" cy="467.7" r="0.9" fill="#111"/>
<circle cx="120.8" cy="466.2" r="0.9" fill="#111"/>
<circle cx="211.2" cy="467.4" r="0.95" fill="#111"/>
<circle cx="142.6" cy="453.4" r="0.9" fill="#e8321e" stroke="#ffb8a8" stroke-width="0.15"/>
<circle cx="105.0" cy="467.8" r="0.85" fill="#1f1f6e"/>
<circle cx="135.7" cy="467.7" r="0.9" fill="#111"/>
<circle cx="116.1" cy="466.6" r="0.85" fill="#1f1f6e"/>
<circle cx="187.2" cy="467.8" r="0.9" fill="#111"/>
<circle cx="116.0" cy="454.3" r="0.85" fill="#1f1f6e"/>
<circle cx="122.9" cy="467.6" r="0.9" fill="#111"/>
<circle cx="136.2" cy="465.8" r="0.9" fill="#111"/>
<circle cx="150.6" cy="467.8" r="0.9" fill="#e8321e" stroke="#ffb8a8" stroke-width="0.15"/>
<circle cx="157.2" cy="467.5" r="0.9" fill="#e8321e" stroke="#ffb8a8" stroke-width="0.15"/>
<circle cx="121.2" cy="464.4" r="0.9" fill="#111"/>
<circle cx="141.4" cy="463.0" r="0.9" fill="#e8321e" stroke="#ffb8a8" stroke-width="0.15"/>
<circle cx="124.7" cy="465.6" r="0.9" fill="#111"/>
<circle cx="144.8" cy="463.8" r="0.9" fill="#e8321e" stroke="#ffb8a8" stroke-width="0.15"/>
<circle cx="127.5" cy="463.8" r="0.9" fill="#111"/>
<circle cx="163.7" cy="468.1" r="0.95" fill="#111"/>
<circle cx="138.7" cy="464.6" r="0.9" fill="#111"/>
<circle cx="130.0" cy="458.3" r="0.9" fill="#111"/>
<circle cx="114.6" cy="467.7" r="0.9" fill="#111"/>
<circle cx="125.6" cy="464.0" r="0.9" fill="#111"/>
<circle cx="114.1" cy="468.0" r="0.9" fill="#111"/>
<circle cx="100.2" cy="467.6" r="0.9" fill="#111"/>
<circle cx="144.9" cy="462.7" r="0.9" fill="#e8321e" stroke="#ffb8a8" stroke-width="0.15"/>
<circle cx="142.4" cy="460.3" r="0.9" fill="#e8321e" stroke="#ffb8a8" stroke-width="0.15"/>
<circle cx="159.8" cy="461.2" r="0.9" fill="#e8321e" stroke="#ffb8a8" stroke-width="0.15"/>
<circle cx="108.4" cy="465.1" r="0.85" fill="#1f1f6e"/>
<circle cx="120.7" cy="459.8" r="0.9" fill="#111"/>
<circle cx="213.2" cy="465.8" r="0.95" fill="#111"/>
<circle cx="143.3" cy="467.1" r="0.9" fill="#111"/>
<circle cx="122.2" cy="463.2" r="0.9" fill="#111"/>
<circle cx="183.4" cy="468.1" r="0.9" fill="#111"/>
<circle cx="176.1" cy="460.8" r="0.9" fill="#e8321e" stroke="#ffb8a8" stroke-width="0.15"/>
<circle cx="146.3" cy="455.0" r="0.9" fill="#e8321e" stroke="#ffb8a8" stroke-width="0.15"/>
<circle cx="135.5" cy="468.0" r="0.9" fill="#111"/>
<circle cx="168.0" cy="468.1" r="0.95" fill="#111"/>
<circle cx="140.9" cy="461.2" r="0.9" fill="#111"/>
<circle cx="133.3" cy="459.0" r="0.9" fill="#111"/>
<circle cx="99.3" cy="460.7" r="0.85" fill="#1f1f6e"/>
<circle cx="146.0" cy="463.4" r="0.9" fill="#e8321e" stroke="#ffb8a8" stroke-width="0.15"/>
<circle cx="98.7" cy="467.5" r="0.9" fill="#111"/>
<circle cx="168.7" cy="466.7" r="0.95" fill="#111"/>
<circle cx="139.9" cy="459.9" r="0.9" fill="#111"/>
<circle cx="110.1" cy="468.1" r="0.9" fill="#111"/>
<circle cx="163.5" cy="467.5" r="0.95" fill="#111"/>
<circle cx="159.7" cy="464.2" r="0.9" fill="#e8321e" stroke="#ffb8a8" stroke-width="0.15"/>
<circle cx="154.3" cy="460.0" r="0.9" fill="#e8321e" stroke="#ffb8a8" stroke-width="0.15"/>
<circle cx="162.0" cy="468.0" r="0.9" fill="#111"/>
<circle cx="165.2" cy="468.0" r="0.9" fill="#111"/>
<circle cx="125.0" cy="467.2" r="0.9" fill="#111"/>
<circle cx="152.8" cy="467.0" r="0.9" fill="#e8321e" stroke="#ffb8a8" stroke-width="0.15"/>
<circle cx="212.2" cy="467.2" r="0.95" fill="#111"/>
<circle cx="98.1" cy="461.6" r="0.85" fill="#1f1f6e"/>
<circle cx="155.2" cy="460.7" r="0.9" fill="#e8321e" stroke="#ffb8a8" stroke-width="0.15"/>
<circle cx="151.8" cy="468.1" r="0.9" fill="#111"/>
<circle cx="146.2" cy="455.2" r="0.9" fill="#e8321e" stroke="#ffb8a8" stroke-width="0.15"/>
<circle cx="97.8" cy="466.7" r="0.85" fill="#1f1f6e"/>
<circle cx="121.1" cy="457.6" r="0.9" fill="#111"/>
<circle cx="113.1" cy="465.5" r="0.85" fill="#1f1f6e"/>
<circle cx="174.5" cy="468.2" r="0.95" fill="#111"/>
<circle cx="128.9" cy="463.4" r="0.9" fill="#111"/>
<circle cx="160.5" cy="465.7" r="0.9" fill="#e8321e" stroke="#ffb8a8" stroke-width="0.15"/>
<circle cx="144.6" cy="468.1" r="0.9" fill="#111"/>
<circle cx="131.3" cy="462.2" r="0.9" fill="#111"/>
<circle cx="133.7" cy="468.0" r="0.9" fill="#111"/>
<circle cx="216.5" cy="466.6" r="0.95" fill="#111"/>
<circle cx="139.2" cy="467.8" r="0.9" fill="#111"/>
<circle cx="159.8" cy="459.9" r="0.9" fill="#e8321e" stroke="#ffb8a8" stroke-width="0.15"/>
<circle cx="140.3" cy="458.4" r="0.9" fill="#e8321e" stroke="#ffb8a8" stroke-width="0.15"/>
<circle cx="205.7" cy="467.2" r="0.95" fill="#111"/>
<circle cx="86.3" cy="466.1" r="0.85" fill="#1f1f6e"/>
<circle cx="156.2" cy="466.8" r="0.9" fill="#e8321e" stroke="#ffb8a8" stroke-width="0.15"/>
<circle cx="125.1" cy="467.9" r="0.9" fill="#111"/>
<circle cx="142.1" cy="454.0" r="0.9" fill="#e8321e" stroke="#ffb8a8" stroke-width="0.15"/>
<circle cx="108.3" cy="449.6" r="0.85" fill="#1f1f6e"/>
<circle cx="133.3" cy="459.4" r="0.9" fill="#111"/>
<circle cx="213.0" cy="455.0" r="1.1" fill="#e8321e" stroke="#ffb8a8" stroke-width="0.15"/>
<circle cx="145.2" cy="467.8" r="0.9" fill="#111"/>
<circle cx="144.6" cy="467.6" r="0.9" fill="#111"/>
<circle cx="139.2" cy="457.8" r="0.9" fill="#111"/>
<circle cx="116.0" cy="455.3" r="0.85" fill="#1f1f6e"/>
<circle cx="130.7" cy="463.2" r="0.9" fill="#111"/>
<circle cx="117.5" cy="466.9" r="0.85" fill="#1f1f6e"/>
<circle cx="114.7" cy="463.3" r="0.85" fill="#1f1f6e"/>
<circle cx="212.3" cy="466.5" r="0.95" fill="#111"/>
<circle cx="149.3" cy="466.5" r="0.9" fill="#e8321e" stroke="#ffb8a8" stroke-width="0.15"/>
<circle cx="159.8" cy="467.5" r="0.9" fill="#e8321e" stroke="#ffb8a8" stroke-width="0.15"/>
<circle cx="143.6" cy="467.7" r="0.9" fill="#111"/>
<circle cx="151.3" cy="461.1" r="0.9" fill="#e8321e" stroke="#ffb8a8" stroke-width="0.15"/>
<circle cx="108.5" cy="466.9" r="0.85" fill="#1f1f6e"/>
<circle cx="142.2" cy="466.0" r="0.9" fill="#e8321e" stroke="#ffb8a8" stroke-width="0.15"/>
<circle cx="161.9" cy="463.4" r="0.9" fill="#e8321e" stroke="#ffb8a8" stroke-width="0.15"/>
<circle cx="175.1" cy="465.9" r="0.9" fill="#e8321e" stroke="#ffb8a8" stroke-width="0.15"/>
<circle cx="145.7" cy="455.4" r="0.9" fill="#e8321e" stroke="#ffb8a8" stroke-width="0.15"/>
<circle cx="132.2" cy="468.0" r="0.9" fill="#111"/>
<circle cx="141.1" cy="468.2" r="0.9" fill="#111"/>
<circle cx="161.9" cy="466.3" r="0.9" fill="#e8321e" stroke="#ffb8a8" stroke-width="0.15"/>
<circle cx="137.0" cy="461.9" r="0.9" fill="#111"/>
<circle cx="124.0" cy="465.7" r="0.9" fill="#111"/>
<circle cx="213.7" cy="468.0" r="0.95" fill="#111"/>
<circle cx="128.6" cy="467.2" r="0.9" fill="#111"/>
<circle cx="142.9" cy="464.0" r="0.9" fill="#e8321e" stroke="#ffb8a8" stroke-width="0.15"/>
<circle cx="137.2" cy="467.3" r="0.9" fill="#111"/>
<circle cx="195.4" cy="467.2" r="0.9" fill="#111"/>
<circle cx="155.1" cy="461.4" r="0.9" fill="#e8321e" stroke="#ffb8a8" stroke-width="0.15"/>
<circle cx="110.0" cy="463.4" r="0.85" fill="#1f1f6e"/>
<circle cx="152.2" cy="467.9" r="0.9" fill="#111"/>
<circle cx="167.9" cy="467.7" r="0.9" fill="#111"/>
<circle cx="159.6" cy="466.9" r="0.9" fill="#111"/>
<circle cx="139.8" cy="467.2" r="0.9" fill="#111"/>
<circle cx="115.5" cy="449.9" r="0.85" fill="#1f1f6e"/>
<circle cx="162.6" cy="462.9" r="0.9" fill="#e8321e" stroke="#ffb8a8" stroke-width="0.15"/>
<circle cx="147.6" cy="455.7" r="0.9" fill="#e8321e" stroke="#ffb8a8" stroke-width="0.15"/>
<circle cx="142.5" cy="465.1" r="0.9" fill="#e8321e" stroke="#ffb8a8" stroke-width="0.15"/>
<circle cx="116.9" cy="463.7" r="0.85" fill="#1f1f6e"/>
<circle cx="127.9" cy="466.7" r="0.9" fill="#111"/>
<circle cx="148.3" cy="457.8" r="0.9" fill="#e8321e" stroke="#ffb8a8" stroke-width="0.15"/>
<circle cx="124.6" cy="466.2" r="0.85" fill="#1f1f6e"/>
<circle cx="191.3" cy="467.3" r="0.95" fill="#111"/>
<circle cx="146.0" cy="467.5" r="0.9" fill="#e8321e" stroke="#ffb8a8" stroke-width="0.15"/>
<circle cx="125.0" cy="463.7" r="0.9" fill="#111"/>
<circle cx="92.2" cy="464.7" r="0.85" fill="#1f1f6e"/>
<circle cx="160.9" cy="447.4" r="0.9" fill="#e8321e" stroke="#ffb8a8" stroke-width="0.15"/>
<circle cx="148.3" cy="460.8" r="0.9" fill="#e8321e" stroke="#ffb8a8" stroke-width="0.15"/>
<circle cx="153.3" cy="460.9" r="0.9" fill="#e8321e" stroke="#ffb8a8" stroke-width="0.15"/>
<circle cx="126.7" cy="467.9" r="0.9" fill="#111"/>
<circle cx="152.9" cy="468.1" r="0.9" fill="#111"/>
<circle cx="138.2" cy="460.2" r="0.9" fill="#111"/>
<circle cx="199.5" cy="465.4" r="0.9" fill="#e8321e" stroke="#ffb8a8" stroke-width="0.15"/>
<circle cx="128.7" cy="458.7" r="0.9" fill="#111"/>
<circle cx="208.4" cy="466.5" r="0.95" fill="#111"/>
<circle cx="122.8" cy="457.5" r="0.9" fill="#111"/>
<circle cx="157.9" cy="468.1" r="0.9" fill="#e8321e" stroke="#ffb8a8" stroke-width="0.15"/>
<circle cx="162.1" cy="467.4" r="0.9" fill="#e8321e" stroke="#ffb8a8" stroke-width="0.15"/>
<circle cx="130.4" cy="463.4" r="0.9" fill="#111"/>
<circle cx="144.5" cy="466.8" r="0.9" fill="#111"/>
<circle cx="136.7" cy="467.7" r="0.9" fill="#111"/>
<circle cx="151.9" cy="461.2" r="0.9" fill="#e8321e" stroke="#ffb8a8" stroke-width="0.15"/>
<circle cx="140.7" cy="467.6" r="0.9" fill="#111"/>
<circle cx="137.0" cy="467.8" r="0.9" fill="#111"/>
<circle cx="127.6" cy="467.0" r="0.9" fill="#111"/>
<circle cx="143.5" cy="446.1" r="0.9" fill="#e8321e" stroke="#ffb8a8" stroke-width="0.15"/>
<circle cx="221.8" cy="466.6" r="0.95" fill="#111"/>
<circle cx="125.7" cy="459.5" r="0.9" fill="#111"/>
<circle cx="146.0" cy="462.8" r="0.9" fill="#e8321e" stroke="#ffb8a8" stroke-width="0.15"/>
<circle cx="126.9" cy="467.8" r="0.9" fill="#111"/>
<circle cx="123.1" cy="465.0" r="0.9" fill="#111"/>
<circle cx="135.0" cy="467.6" r="0.9" fill="#111"/>
<circle cx="86.8" cy="467.9" r="0.85" fill="#1f1f6e"/>
<circle cx="123.4" cy="459.5" r="0.9" fill="#111"/>
<circle cx="131.8" cy="467.6" r="0.9" fill="#111"/>
<circle cx="157.9" cy="464.9" r="0.9" fill="#e8321e" stroke="#ffb8a8" stroke-width="0.15"/>
<circle cx="179.0" cy="466.2" r="0.95" fill="#111"/>
<circle cx="152.1" cy="467.6" r="0.9" fill="#e8321e" stroke="#ffb8a8" stroke-width="0.15"/>
<circle cx="127.7" cy="466.6" r="0.9" fill="#111"/>
<circle cx="151.5" cy="468.2" r="0.9" fill="#111"/>
<circle cx="128.6" cy="467.8" r="0.9" fill="#111"/>
<circle cx="133.1" cy="467.9" r="0.9" fill="#111"/>
<circle cx="162.3" cy="466.0" r="0.9" fill="#e8321e" stroke="#ffb8a8" stroke-width="0.15"/>
<circle cx="144.4" cy="455.4" r="0.9" fill="#e8321e" stroke="#ffb8a8" stroke-width="0.15"/>
<circle cx="103.5" cy="455.6" r="0.85" fill="#1f1f6e"/>
<circle cx="123.7" cy="467.2" r="0.9" fill="#111"/>
<circle cx="143.4" cy="462.2" r="0.9" fill="#e8321e" stroke="#ffb8a8" stroke-width="0.15"/>
<circle cx="192.3" cy="467.1" r="0.95" fill="#111"/>
<circle cx="149.3" cy="467.2" r="0.9" fill="#e8321e" stroke="#ffb8a8" stroke-width="0.15"/>
<circle cx="137.0" cy="464.9" r="0.9" fill="#111"/>
<circle cx="158.1" cy="467.0" r="0.95" fill="#111"/>
<circle cx="135.8" cy="467.2" r="0.9" fill="#111"/>
<circle cx="136.2" cy="462.0" r="0.9" fill="#111"/>
<circle cx="110.4" cy="467.7" r="0.9" fill="#111"/>
<circle cx="131.5" cy="464.8" r="0.9" fill="#111"/>
<circle cx="141.2" cy="461.1" r="0.9" fill="#111"/>
<circle cx="147.9" cy="460.5" r="0.9" fill="#e8321e" stroke="#ffb8a8" stroke-width="0.15"/>
<circle cx="116.9" cy="466.2" r="0.9" fill="#111"/>
<circle cx="165.0" cy="467.2" r="0.9" fill="#111"/>
<circle cx="126.4" cy="455.1" r="0.9" fill="#111"/>
<circle cx="144.7" cy="448.4" r="0.9" fill="#e8321e" stroke="#ffb8a8" stroke-width="0.15"/>
<circle cx="69.2" cy="459.6" r="0.85" fill="#1f1f6e"/>
<circle cx="128.6" cy="458.2" r="0.9" fill="#111"/>
<circle cx="84.5" cy="458.8" r="0.85" fill="#1f1f6e"/>
<circle cx="140.9" cy="464.6" r="0.9" fill="#111"/>
<circle cx="150.1" cy="466.2" r="0.9" fill="#e8321e" stroke="#ffb8a8" stroke-width="0.15"/>
<circle cx="170.9" cy="467.7" r="0.95" fill="#111"/>
<circle cx="159.9" cy="466.1" r="0.95" fill="#111"/>
<circle cx="157.9" cy="466.3" r="0.9" fill="#e8321e" stroke="#ffb8a8" stroke-width="0.15"/>
<circle cx="126.9" cy="456.0" r="0.9" fill="#111"/>
<circle cx="123.6" cy="467.8" r="0.9" fill="#111"/>
<circle cx="173.3" cy="466.9" r="0.95" fill="#111"/>
<circle cx="107.5" cy="464.8" r="0.85" fill="#1f1f6e"/>
<circle cx="120.8" cy="446.3" r="0.85" fill="#1f1f6e"/>
<circle cx="197.9" cy="467.6" r="0.95" fill="#111"/>
<circle cx="162.1" cy="463.7" r="0.9" fill="#e8321e" stroke="#ffb8a8" stroke-width="0.15"/>
<circle cx="135.9" cy="467.2" r="0.9" fill="#111"/>
<circle cx="123.1" cy="459.0" r="0.9" fill="#111"/>
<circle cx="107.0" cy="468.1" r="0.9" fill="#111"/>
<circle cx="155.6" cy="416.7" r="1.1" fill="#e8321e" stroke="#ffb8a8" stroke-width="0.15"/>
<circle cx="208.8" cy="466.6" r="0.95" fill="#111"/>
<circle cx="220.6" cy="467.0" r="0.95" fill="#111"/>
<circle cx="198.8" cy="466.9" r="0.95" fill="#111"/>
<circle cx="126.7" cy="462.5" r="0.9" fill="#111"/>
<circle cx="93.4" cy="466.9" r="0.85" fill="#1f1f6e"/>
<circle cx="137.9" cy="468.1" r="0.9" fill="#111"/>
<circle cx="81.9" cy="464.2" r="0.85" fill="#1f1f6e"/>
<circle cx="122.6" cy="466.2" r="0.9" fill="#111"/>
<circle cx="91.4" cy="467.0" r="0.9" fill="#111"/>
<circle cx="139.9" cy="460.6" r="0.9" fill="#111"/>
<circle cx="144.1" cy="458.0" r="0.9" fill="#e8321e" stroke="#ffb8a8" stroke-width="0.15"/>
<circle cx="128.1" cy="468.0" r="0.9" fill="#111"/>
<circle cx="125.2" cy="466.4" r="0.9" fill="#111"/>
<circle cx="123.6" cy="461.1" r="0.85" fill="#1f1f6e"/>
<circle cx="157.9" cy="462.1" r="0.9" fill="#e8321e" stroke="#ffb8a8" stroke-width="0.15"/>
<circle cx="164.4" cy="468.0" r="0.95" fill="#111"/>
<circle cx="140.0" cy="462.3" r="0.9" fill="#111"/>
<circle cx="176.6" cy="467.2" r="0.95" fill="#111"/>
<circle cx="120.9" cy="463.5" r="0.9" fill="#111"/>
<circle cx="129.4" cy="467.6" r="0.9" fill="#111"/>
<circle cx="107.5" cy="465.4" r="0.85" fill="#1f1f6e"/>
<circle cx="156.4" cy="468.0" r="0.9" fill="#111"/>
<circle cx="154.2" cy="416.2" r="1.1" fill="#e8321e" stroke="#ffb8a8" stroke-width="0.15"/>
<circle cx="173.6" cy="457.3" r="0.9" fill="#e8321e" stroke="#ffb8a8" stroke-width="0.15"/>
<circle cx="113.7" cy="467.7" r="0.9" fill="#111"/>
<circle cx="124.9" cy="467.0" r="0.9" fill="#111"/>
<circle cx="120.6" cy="454.8" r="0.85" fill="#1f1f6e"/>
<circle cx="118.0" cy="463.1" r="0.85" fill="#1f1f6e"/>
<circle cx="144.6" cy="461.9" r="0.9" fill="#e8321e" stroke="#ffb8a8" stroke-width="0.15"/>
<circle cx="126.2" cy="460.5" r="0.9" fill="#111"/>
<circle cx="150.1" cy="466.3" r="0.9" fill="#e8321e" stroke="#ffb8a8" stroke-width="0.15"/>
<circle cx="212.2" cy="467.3" r="0.95" fill="#111"/>
<circle cx="155.2" cy="308.5" r="1.1" fill="#e8321e" stroke="#ffb8a8" stroke-width="0.15"/>
<circle cx="122.7" cy="460.6" r="0.85" fill="#1f1f6e"/>
<circle cx="128.4" cy="467.9" r="0.9" fill="#111"/>
<circle cx="119.5" cy="468.0" r="0.9" fill="#111"/>
<circle cx="130.9" cy="467.6" r="0.9" fill="#111"/>
<circle cx="198.3" cy="466.1" r="0.95" fill="#111"/>
<circle cx="109.3" cy="461.7" r="0.85" fill="#1f1f6e"/>
<circle cx="124.0" cy="459.3" r="0.9" fill="#111"/>
<circle cx="162.2" cy="467.4" r="0.95" fill="#111"/>
<circle cx="155.1" cy="466.5" r="0.9" fill="#e8321e" stroke="#ffb8a8" stroke-width="0.15"/>
<circle cx="185.6" cy="466.8" r="0.95" fill="#111"/>
<circle cx="140.5" cy="467.1" r="0.9" fill="#111"/>
<circle cx="93.1" cy="465.0" r="0.85" fill="#1f1f6e"/>
<circle cx="200.4" cy="467.8" r="0.95" fill="#111"/>
<circle cx="136.4" cy="464.8" r="0.9" fill="#111"/>
<circle cx="98.9" cy="461.4" r="0.85" fill="#1f1f6e"/>
<circle cx="168.0" cy="466.0" r="0.95" fill="#111"/>
<circle cx="145.8" cy="457.9" r="0.9" fill="#e8321e" stroke="#ffb8a8" stroke-width="0.15"/>
<circle cx="126.2" cy="467.3" r="0.9" fill="#111"/>
<circle cx="137.8" cy="466.7" r="0.9" fill="#111"/>
<circle cx="145.1" cy="468.1" r="0.9" fill="#111"/>
<circle cx="161.5" cy="464.1" r="0.9" fill="#e8321e" stroke="#ffb8a8" stroke-width="0.15"/>
<circle cx="182.0" cy="465.8" r="0.95" fill="#111"/>
<circle cx="159.5" cy="467.0" r="0.95" fill="#111"/>
<circle cx="162.5" cy="464.8" r="0.9" fill="#e8321e" stroke="#ffb8a8" stroke-width="0.15"/>
<circle cx="143.5" cy="466.5" r="0.9" fill="#e8321e" stroke="#ffb8a8" stroke-width="0.15"/>
<circle cx="170.5" cy="462.1" r="0.9" fill="#e8321e" stroke="#ffb8a8" stroke-width="0.15"/>
<circle cx="143.6" cy="459.8" r="0.9" fill="#e8321e" stroke="#ffb8a8" stroke-width="0.15"/>
<circle cx="142.3" cy="463.4" r="0.9" fill="#e8321e" stroke="#ffb8a8" stroke-width="0.15"/>
<circle cx="122.1" cy="457.0" r="0.85" fill="#1f1f6e"/>
<circle cx="142.5" cy="461.7" r="0.9" fill="#e8321e" stroke="#ffb8a8" stroke-width="0.15"/>
<circle cx="127.3" cy="456.3" r="0.9" fill="#111"/>
<circle cx="132.3" cy="468.0" r="0.9" fill="#111"/>
<circle cx="159.1" cy="466.2" r="0.9" fill="#111"/>
<circle cx="139.8" cy="468.0" r="0.9" fill="#111"/>
<circle cx="203.0" cy="466.8" r="0.95" fill="#111"/>
<circle cx="137.6" cy="461.1" r="0.9" fill="#111"/>
<circle cx="103.6" cy="467.8" r="0.9" fill="#111"/>
<circle cx="117.5" cy="466.7" r="0.9" fill="#111"/>
<circle cx="152.5" cy="466.6" r="0.9" fill="#e8321e" stroke="#ffb8a8" stroke-width="0.15"/>
<circle cx="89.3" cy="467.5" r="0.9" fill="#111"/>
<circle cx="145.4" cy="467.7" r="0.9" fill="#111"/>
<circle cx="118.2" cy="467.6" r="0.9" fill="#111"/>
<circle cx="153.7" cy="393.3" r="1.1" fill="#e8321e" stroke="#ffb8a8" stroke-width="0.15"/>
<circle cx="100.6" cy="426.5" r="1.1" fill="#1f1f6e"/>
<circle cx="110.4" cy="466.6" r="0.9" fill="#111"/>
<circle cx="117.0" cy="467.7" r="0.9" fill="#111"/>
<circle cx="120.0" cy="461.1" r="0.9" fill="#111"/>
<circle cx="109.1" cy="467.0" r="0.9" fill="#111"/>
<circle cx="132.9" cy="453.5" r="0.9" fill="#111"/>
<circle cx="158.0" cy="467.4" r="0.9" fill="#e8321e" stroke="#ffb8a8" stroke-width="0.15"/>
<circle cx="116.9" cy="467.8" r="0.85" fill="#1f1f6e"/>
<circle cx="187.2" cy="464.9" r="0.95" fill="#111"/>
<circle cx="160.6" cy="465.9" r="0.9" fill="#e8321e" stroke="#ffb8a8" stroke-width="0.15"/>
<circle cx="155.7" cy="461.3" r="0.9" fill="#e8321e" stroke="#ffb8a8" stroke-width="0.15"/>
<circle cx="94.2" cy="465.2" r="0.85" fill="#1f1f6e"/>
<circle cx="140.2" cy="467.9" r="0.9" fill="#111"/>
<circle cx="215.6" cy="467.4" r="0.95" fill="#111"/>
<circle cx="143.5" cy="467.6" r="0.9" fill="#111"/>
<circle cx="119.2" cy="460.4" r="0.85" fill="#1f1f6e"/>
<circle cx="199.9" cy="466.0" r="0.9" fill="#e8321e" stroke="#ffb8a8" stroke-width="0.15"/>
<circle cx="170.3" cy="467.7" r="0.9" fill="#111"/>
<circle cx="156.5" cy="461.6" r="0.9" fill="#e8321e" stroke="#ffb8a8" stroke-width="0.15"/>
<circle cx="99.6" cy="461.5" r="0.85" fill="#1f1f6e"/>
<circle cx="115.2" cy="344.8" r="1.1" fill="#1f1f6e"/>
<circle cx="100.0" cy="468.2" r="0.9" fill="#111"/>
<circle cx="177.8" cy="466.2" r="0.95" fill="#111"/>
<circle cx="157.3" cy="464.7" r="0.9" fill="#e8321e" stroke="#ffb8a8" stroke-width="0.15"/>
<circle cx="159.5" cy="461.0" r="0.9" fill="#e8321e" stroke="#ffb8a8" stroke-width="0.15"/>
<circle cx="159.5" cy="463.0" r="0.9" fill="#e8321e" stroke="#ffb8a8" stroke-width="0.15"/>
<circle cx="130.3" cy="463.9" r="0.9" fill="#111"/>
<circle cx="139.8" cy="466.2" r="0.9" fill="#111"/>
<circle cx="162.6" cy="466.8" r="0.95" fill="#111"/>
<circle cx="155.6" cy="467.8" r="0.9" fill="#e8321e" stroke="#ffb8a8" stroke-width="0.15"/>
<circle cx="202.8" cy="460.1" r="0.9" fill="#e8321e" stroke="#ffb8a8" stroke-width="0.15"/>
<circle cx="122.3" cy="461.7" r="0.85" fill="#1f1f6e"/>
<circle cx="104.8" cy="465.6" r="0.85" fill="#1f1f6e"/>
<circle cx="149.3" cy="466.0" r="0.9" fill="#e8321e" stroke="#ffb8a8" stroke-width="0.15"/>
<circle cx="101.5" cy="466.3" r="0.85" fill="#1f1f6e"/>
<circle cx="203.4" cy="465.1" r="0.95" fill="#111"/>
<circle cx="103.9" cy="466.8" r="0.85" fill="#1f1f6e"/>
<circle cx="142.9" cy="457.7" r="0.9" fill="#e8321e" stroke="#ffb8a8" stroke-width="0.15"/>
<circle cx="171.6" cy="467.8" r="0.95" fill="#111"/>
<circle cx="96.8" cy="467.4" r="0.9" fill="#111"/>
<circle cx="160.6" cy="467.3" r="0.9" fill="#111"/>
<circle cx="198.0" cy="466.1" r="0.95" fill="#111"/>
<circle cx="121.8" cy="460.9" r="0.9" fill="#111"/>
<circle cx="138.8" cy="460.2" r="0.9" fill="#111"/>
<circle cx="131.9" cy="465.2" r="0.9" fill="#111"/>
<circle cx="148.6" cy="468.1" r="0.9" fill="#111"/>
<circle cx="171.7" cy="467.4" r="0.9" fill="#111"/>
<circle cx="184.7" cy="465.3" r="0.95" fill="#111"/>
<circle cx="115.6" cy="467.3" r="0.9" fill="#111"/>
<circle cx="111.2" cy="468.0" r="0.9" fill="#111"/>
<circle cx="95.6" cy="467.3" r="0.9" fill="#111"/>
<circle cx="169.4" cy="468.0" r="0.95" fill="#111"/>
<circle cx="176.6" cy="467.7" r="0.9" fill="#111"/>
<circle cx="125.2" cy="467.5" r="0.9" fill="#111"/>
<circle cx="132.2" cy="467.5" r="0.9" fill="#111"/>
<circle cx="124.9" cy="463.9" r="0.9" fill="#111"/>
<circle cx="143.7" cy="458.0" r="0.9" fill="#e8321e" stroke="#ffb8a8" stroke-width="0.15"/>
<circle cx="150.9" cy="463.4" r="0.9" fill="#e8321e" stroke="#ffb8a8" stroke-width="0.15"/>
<circle cx="146.0" cy="468.2" r="0.9" fill="#e8321e" stroke="#ffb8a8" stroke-width="0.15"/>
<circle cx="190.5" cy="446.8" r="0.9" fill="#e8321e" stroke="#ffb8a8" stroke-width="0.15"/>
<circle cx="150.2" cy="467.9" r="0.9" fill="#111"/>
<circle cx="156.0" cy="466.5" r="0.9" fill="#e8321e" stroke="#ffb8a8" stroke-width="0.15"/>
<circle cx="167.9" cy="466.7" r="0.9" fill="#111"/>
<circle cx="85.7" cy="467.5" r="0.85" fill="#1f1f6e"/>
<circle cx="134.6" cy="464.1" r="0.9" fill="#111"/>
<circle cx="202.7" cy="467.3" r="0.95" fill="#111"/>
<circle cx="148.8" cy="467.8" r="0.9" fill="#111"/>
<circle cx="207.8" cy="467.9" r="0.95" fill="#111"/>
<circle cx="132.6" cy="468.2" r="0.9" fill="#111"/>
<circle cx="150.5" cy="467.6" r="0.9" fill="#111"/>
<circle cx="186.9" cy="428.5" r="1.1" fill="#e8321e" stroke="#ffb8a8" stroke-width="0.15"/>
<circle cx="186.1" cy="467.4" r="0.95" fill="#111"/>
<circle cx="119.0" cy="467.3" r="0.9" fill="#111"/>
<circle cx="122.1" cy="460.2" r="0.85" fill="#1f1f6e"/>
<circle cx="101.8" cy="467.3" r="0.85" fill="#1f1f6e"/>
<circle cx="158.2" cy="457.2" r="0.9" fill="#e8321e" stroke="#ffb8a8" stroke-width="0.15"/>
<circle cx="185.1" cy="466.9" r="0.95" fill="#111"/>
<circle cx="127.7" cy="467.9" r="0.9" fill="#111"/>
<circle cx="156.7" cy="466.3" r="0.9" fill="#e8321e" stroke="#ffb8a8" stroke-width="0.15"/>
<circle cx="116.1" cy="467.0" r="0.9" fill="#111"/>
<circle cx="148.4" cy="462.2" r="0.9" fill="#e8321e" stroke="#ffb8a8" stroke-width="0.15"/>
<circle cx="146.0" cy="467.4" r="0.9" fill="#e8321e" stroke="#ffb8a8" stroke-width="0.15"/>
<circle cx="167.3" cy="467.8" r="0.95" fill="#111"/>
<circle cx="126.6" cy="465.1" r="0.9" fill="#111"/>
<circle cx="106.8" cy="467.4" r="0.9" fill="#111"/>
<circle cx="189.7" cy="468.2" r="0.95" fill="#111"/>
<circle cx="155.1" cy="465.0" r="0.9" fill="#e8321e" stroke="#ffb8a8" stroke-width="0.15"/>
<circle cx="115.0" cy="467.9" r="0.85" fill="#1f1f6e"/>
<circle cx="143.2" cy="465.5" r="0.9" fill="#e8321e" stroke="#ffb8a8" stroke-width="0.15"/>
<circle cx="143.5" cy="460.1" r="0.9" fill="#e8321e" stroke="#ffb8a8" stroke-width="0.15"/>
<circle cx="161.9" cy="467.0" r="0.9" fill="#e8321e" stroke="#ffb8a8" stroke-width="0.15"/>
<circle cx="112.5" cy="467.6" r="0.9" fill="#111"/>
<circle cx="160.4" cy="464.1" r="0.9" fill="#e8321e" stroke="#ffb8a8" stroke-width="0.15"/>
<circle cx="145.8" cy="461.8" r="0.9" fill="#e8321e" stroke="#ffb8a8" stroke-width="0.15"/>
<circle cx="121.6" cy="465.6" r="0.9" fill="#111"/>
<circle cx="151.1" cy="422.3" r="1.1" fill="#e8321e" stroke="#ffb8a8" stroke-width="0.15"/>
<circle cx="117.1" cy="460.0" r="0.85" fill="#1f1f6e"/>
<circle cx="163.4" cy="456.1" r="0.9" fill="#e8321e" stroke="#ffb8a8" stroke-width="0.15"/>
<circle cx="140.6" cy="466.3" r="0.9" fill="#e8321e" stroke="#ffb8a8" stroke-width="0.15"/>
<circle cx="131.3" cy="467.9" r="0.9" fill="#111"/>
<circle cx="149.9" cy="462.9" r="0.9" fill="#e8321e" stroke="#ffb8a8" stroke-width="0.15"/>
<circle cx="129.9" cy="463.4" r="0.9" fill="#111"/>
<circle cx="202.8" cy="466.9" r="0.95" fill="#111"/>
<circle cx="108.8" cy="459.2" r="0.85" fill="#1f1f6e"/>
<circle cx="111.9" cy="459.5" r="0.85" fill="#1f1f6e"/>
<circle cx="161.3" cy="465.8" r="0.9" fill="#e8321e" stroke="#ffb8a8" stroke-width="0.15"/>
<circle cx="86.6" cy="460.6" r="0.85" fill="#1f1f6e"/>
<circle cx="112.8" cy="460.3" r="0.85" fill="#1f1f6e"/>
<circle cx="110.6" cy="458.2" r="0.85" fill="#1f1f6e"/>
<circle cx="192.7" cy="467.4" r="0.9" fill="#111"/>
<circle cx="208.6" cy="467.2" r="0.95" fill="#111"/>
<circle cx="96.9" cy="467.6" r="0.85" fill="#1f1f6e"/>
<circle cx="144.3" cy="465.7" r="0.9" fill="#e8321e" stroke="#ffb8a8" stroke-width="0.15"/>
<circle cx="171.9" cy="465.8" r="0.95" fill="#111"/>
<circle cx="124.7" cy="467.3" r="0.9" fill="#111"/>
<circle cx="130.5" cy="445.6" r="0.9" fill="#111"/>
<circle cx="154.6" cy="463.6" r="0.9" fill="#e8321e" stroke="#ffb8a8" stroke-width="0.15"/>
<circle cx="125.9" cy="467.7" r="0.9" fill="#111"/>
<circle cx="115.9" cy="467.4" r="0.85" fill="#1f1f6e"/>
<circle cx="113.4" cy="465.2" r="0.85" fill="#1f1f6e"/>
<circle cx="107.6" cy="466.5" r="0.9" fill="#111"/>
<circle cx="147.3" cy="462.5" r="0.9" fill="#e8321e" stroke="#ffb8a8" stroke-width="0.15"/>
<circle cx="153.4" cy="455.8" r="0.9" fill="#e8321e" stroke="#ffb8a8" stroke-width="0.15"/>
<circle cx="157.8" cy="466.2" r="0.95" fill="#111"/>
<circle cx="136.6" cy="467.8" r="0.9" fill="#111"/>
<circle cx="166.7" cy="467.9" r="0.9" fill="#111"/>
<circle cx="125.9" cy="446.4" r="0.9" fill="#111"/>
<circle cx="215.7" cy="465.7" r="0.95" fill="#111"/>
<circle cx="86.8" cy="461.8" r="0.85" fill="#1f1f6e"/>
<circle cx="180.7" cy="462.5" r="0.9" fill="#e8321e" stroke="#ffb8a8" stroke-width="0.15"/>
<circle cx="134.7" cy="458.8" r="0.9" fill="#111"/>
<circle cx="137.7" cy="468.0" r="0.9" fill="#111"/>
<circle cx="111.8" cy="461.9" r="0.85" fill="#1f1f6e"/>
<circle cx="122.0" cy="462.5" r="0.9" fill="#111"/>
<circle cx="91.5" cy="466.9" r="0.85" fill="#1f1f6e"/>
<circle cx="118.4" cy="466.0" r="0.9" fill="#111"/>
<circle cx="150.8" cy="461.5" r="0.9" fill="#e8321e" stroke="#ffb8a8" stroke-width="0.15"/>
<circle cx="161.3" cy="456.6" r="0.9" fill="#e8321e" stroke="#ffb8a8" stroke-width="0.15"/>
<circle cx="123.5" cy="465.5" r="0.85" fill="#1f1f6e"/>
<circle cx="133.7" cy="462.2" r="0.9" fill="#111"/>
<circle cx="140.7" cy="464.7" r="0.9" fill="#e8321e" stroke="#ffb8a8" stroke-width="0.15"/>
<circle cx="141.8" cy="464.1" r="0.9" fill="#111"/>
<circle cx="125.0" cy="457.3" r="0.9" fill="#111"/>
<circle cx="162.5" cy="467.1" r="0.9" fill="#111"/>
<circle cx="122.7" cy="457.5" r="0.9" fill="#111"/>
<circle cx="130.6" cy="435.0" r="1.1" fill="#111"/>
<circle cx="133.4" cy="461.8" r="0.9" fill="#111"/>
<circle cx="157.0" cy="465.8" r="0.9" fill="#e8321e" stroke="#ffb8a8" stroke-width="0.15"/>
<circle cx="153.7" cy="465.7" r="0.9" fill="#e8321e" stroke="#ffb8a8" stroke-width="0.15"/>
<circle cx="105.9" cy="467.7" r="0.9" fill="#111"/>
<circle cx="124.0" cy="460.4" r="0.9" fill="#111"/>
<circle cx="155.3" cy="459.2" r="0.9" fill="#e8321e" stroke="#ffb8a8" stroke-width="0.15"/>
<circle cx="166.4" cy="467.8" r="0.95" fill="#111"/>
<circle cx="142.4" cy="467.8" r="0.9" fill="#111"/>
<circle cx="141.5" cy="459.3" r="0.9" fill="#111"/>
<circle cx="146.1" cy="462.3" r="0.9" fill="#e8321e" stroke="#ffb8a8" stroke-width="0.15"/>
<circle cx="120.3" cy="462.9" r="0.85" fill="#1f1f6e"/>
<circle cx="161.8" cy="464.6" r="0.9" fill="#e8321e" stroke="#ffb8a8" stroke-width="0.15"/>
<circle cx="189.5" cy="467.1" r="0.95" fill="#111"/>
<circle cx="151.3" cy="468.2" r="0.9" fill="#111"/>
<circle cx="145.8" cy="453.6" r="0.9" fill="#e8321e" stroke="#ffb8a8" stroke-width="0.15"/>
<circle cx="127.4" cy="454.6" r="0.9" fill="#111"/>
<circle cx="131.7" cy="462.7" r="0.9" fill="#111"/>
<circle cx="198.2" cy="466.2" r="0.95" fill="#111"/>
<circle cx="150.7" cy="467.4" r="0.9" fill="#111"/>
<circle cx="136.0" cy="461.2" r="0.9" fill="#111"/>
<circle cx="142.2" cy="468.0" r="0.9" fill="#111"/>
<circle cx="139.6" cy="460.7" r="0.9" fill="#111"/>
<circle cx="184.9" cy="467.8" r="0.95" fill="#111"/>
<circle cx="137.0" cy="453.7" r="0.9" fill="#111"/>
<circle cx="127.5" cy="465.1" r="0.9" fill="#111"/>
<circle cx="139.2" cy="464.6" r="0.9" fill="#111"/>
<circle cx="144.5" cy="453.2" r="0.9" fill="#e8321e" stroke="#ffb8a8" stroke-width="0.15"/>
<circle cx="154.4" cy="468.0" r="0.9" fill="#111"/>
<circle cx="189.1" cy="466.7" r="0.95" fill="#111"/>
<circle cx="98.6" cy="456.1" r="0.85" fill="#1f1f6e"/>
<circle cx="120.3" cy="463.4" r="0.85" fill="#1f1f6e"/>
<circle cx="130.7" cy="467.9" r="0.9" fill="#111"/>
<circle cx="149.7" cy="457.5" r="0.9" fill="#e8321e" stroke="#ffb8a8" stroke-width="0.15"/>
<circle cx="67.5" cy="461.5" r="0.85" fill="#1f1f6e"/>
<circle cx="128.3" cy="467.9" r="0.9" fill="#111"/>
<circle cx="140.6" cy="467.6" r="0.9" fill="#111"/>
<circle cx="140.7" cy="447.8" r="0.9" fill="#e8321e" stroke="#ffb8a8" stroke-width="0.15"/>
<circle cx="127.3" cy="467.0" r="0.9" fill="#111"/>
<circle cx="119.9" cy="457.4" r="0.85" fill="#1f1f6e"/>
<circle cx="123.2" cy="461.8" r="0.9" fill="#111"/>
<circle cx="97.5" cy="456.3" r="0.85" fill="#1f1f6e"/>
<circle cx="128.4" cy="463.0" r="0.9" fill="#111"/>
<circle cx="158.8" cy="459.1" r="0.9" fill="#e8321e" stroke="#ffb8a8" stroke-width="0.15"/>
<circle cx="158.7" cy="462.5" r="0.9" fill="#e8321e" stroke="#ffb8a8" stroke-width="0.15"/>
<circle cx="82.4" cy="467.8" r="0.9" fill="#111"/>
<circle cx="157.0" cy="467.3" r="0.9" fill="#111"/>
<circle cx="122.4" cy="463.9" r="0.9" fill="#111"/>
<circle cx="153.0" cy="467.7" r="0.9" fill="#111"/>
<circle cx="199.9" cy="467.3" r="0.95" fill="#111"/>
<circle cx="123.4" cy="467.7" r="0.9" fill="#111"/>
<circle cx="142.2" cy="466.4" r="0.9" fill="#111"/>
<circle cx="129.5" cy="460.6" r="0.9" fill="#111"/>
<circle cx="105.4" cy="466.9" r="0.9" fill="#111"/>
<circle cx="130.6" cy="451.8" r="0.9" fill="#111"/>
<circle cx="135.0" cy="463.3" r="0.9" fill="#111"/>
<circle cx="197.6" cy="467.7" r="0.95" fill="#111"/>
<circle cx="149.4" cy="451.1" r="0.9" fill="#e8321e" stroke="#ffb8a8" stroke-width="0.15"/>
<circle cx="158.2" cy="467.6" r="0.95" fill="#111"/>
<circle cx="146.1" cy="458.8" r="0.9" fill="#e8321e" stroke="#ffb8a8" stroke-width="0.15"/>
<circle cx="91.2" cy="431.9" r="1.1" fill="#1f1f6e"/>
<circle cx="123.6" cy="466.2" r="0.9" fill="#111"/>
<circle cx="207.0" cy="466.9" r="0.95" fill="#111"/>
<circle cx="134.9" cy="458.5" r="0.9" fill="#111"/>
<circle cx="126.1" cy="467.3" r="0.9" fill="#111"/>
<circle cx="162.0" cy="464.6" r="0.9" fill="#e8321e" stroke="#ffb8a8" stroke-width="0.15"/>
<circle cx="215.3" cy="467.6" r="0.95" fill="#111"/>
<circle cx="161.0" cy="465.7" r="0.9" fill="#e8321e" stroke="#ffb8a8" stroke-width="0.15"/>
<circle cx="86.9" cy="462.2" r="0.85" fill="#1f1f6e"/>
<circle cx="143.9" cy="458.9" r="0.9" fill="#e8321e" stroke="#ffb8a8" stroke-width="0.15"/>
<circle cx="155.7" cy="459.5" r="0.9" fill="#e8321e" stroke="#ffb8a8" stroke-width="0.15"/>
<circle cx="142.3" cy="467.0" r="0.9" fill="#111"/>
<circle cx="166.3" cy="468.0" r="0.9" fill="#111"/>
<circle cx="146.0" cy="456.0" r="0.9" fill="#e8321e" stroke="#ffb8a8" stroke-width="0.15"/>
<circle cx="161.2" cy="464.7" r="0.9" fill="#e8321e" stroke="#ffb8a8" stroke-width="0.15"/>
<circle cx="150.7" cy="466.9" r="0.9" fill="#e8321e" stroke="#ffb8a8" stroke-width="0.15"/>
<circle cx="143.7" cy="465.0" r="0.9" fill="#e8321e" stroke="#ffb8a8" stroke-width="0.15"/>
<circle cx="161.4" cy="466.9" r="0.9" fill="#e8321e" stroke="#ffb8a8" stroke-width="0.15"/>
<circle cx="92.7" cy="467.2" r="0.9" fill="#111"/>
<circle cx="143.5" cy="459.4" r="0.9" fill="#e8321e" stroke="#ffb8a8" stroke-width="0.15"/>
<circle cx="145.8" cy="462.9" r="0.9" fill="#e8321e" stroke="#ffb8a8" stroke-width="0.15"/>
<circle cx="113.2" cy="465.5" r="0.85" fill="#1f1f6e"/>
<circle cx="140.8" cy="462.3" r="0.9" fill="#111"/>
<circle cx="189.9" cy="467.9" r="0.9" fill="#111"/>
<circle cx="216.8" cy="466.9" r="0.95" fill="#111"/>
<circle cx="120.8" cy="467.1" r="0.9" fill="#111"/>
<circle cx="158.9" cy="455.9" r="0.9" fill="#e8321e" stroke="#ffb8a8" stroke-width="0.15"/>
<circle cx="144.7" cy="458.4" r="0.9" fill="#e8321e" stroke="#ffb8a8" stroke-width="0.15"/>
<circle cx="173.1" cy="423.4" r="1.1" fill="#e8321e" stroke="#ffb8a8" stroke-width="0.15"/>
<circle cx="93.3" cy="436.0" r="1.1" fill="#1f1f6e"/>
<circle cx="130.6" cy="466.3" r="0.9" fill="#111"/>
<circle cx="124.9" cy="468.0" r="0.9" fill="#111"/>
<circle cx="138.3" cy="456.5" r="0.9" fill="#111"/>
<circle cx="208.7" cy="467.4" r="0.95" fill="#111"/>
<circle cx="218.9" cy="466.0" r="0.95" fill="#111"/>
<circle cx="122.0" cy="468.1" r="0.9" fill="#111"/>
<circle cx="140.0" cy="465.1" r="0.9" fill="#111"/>
<circle cx="122.3" cy="462.7" r="0.9" fill="#111"/>
<circle cx="150.9" cy="466.8" r="0.9" fill="#111"/>
<circle cx="142.7" cy="455.7" r="0.9" fill="#e8321e" stroke="#ffb8a8" stroke-width="0.15"/>
<circle cx="92.1" cy="466.7" r="0.9" fill="#111"/>
<circle cx="145.3" cy="458.5" r="0.9" fill="#e8321e" stroke="#ffb8a8" stroke-width="0.15"/>
<circle cx="162.1" cy="467.9" r="0.9" fill="#111"/>
<circle cx="131.0" cy="464.0" r="0.9" fill="#111"/>
<circle cx="153.4" cy="460.9" r="0.9" fill="#e8321e" stroke="#ffb8a8" stroke-width="0.15"/>
<circle cx="144.6" cy="445.9" r="0.9" fill="#e8321e" stroke="#ffb8a8" stroke-width="0.15"/>
<circle cx="161.9" cy="467.7" r="0.9" fill="#e8321e" stroke="#ffb8a8" stroke-width="0.15"/>
<circle cx="154.5" cy="454.6" r="0.9" fill="#e8321e" stroke="#ffb8a8" stroke-width="0.15"/>
<circle cx="131.5" cy="465.3" r="0.9" fill="#111"/>
<circle cx="150.8" cy="465.7" r="0.9" fill="#e8321e" stroke="#ffb8a8" stroke-width="0.15"/>
<circle cx="136.6" cy="467.7" r="0.9" fill="#111"/>
<circle cx="131.9" cy="468.1" r="0.9" fill="#111"/>
<circle cx="115.0" cy="466.9" r="0.9" fill="#111"/>
<circle cx="152.2" cy="465.9" r="0.9" fill="#e8321e" stroke="#ffb8a8" stroke-width="0.15"/>
<circle cx="131.4" cy="468.2" r="0.9" fill="#111"/>
<circle cx="184.7" cy="465.2" r="0.9" fill="#e8321e" stroke="#ffb8a8" stroke-width="0.15"/>
<circle cx="164.0" cy="468.1" r="0.9" fill="#111"/>
<circle cx="115.6" cy="457.1" r="0.85" fill="#1f1f6e"/>
<circle cx="117.9" cy="468.2" r="0.9" fill="#111"/>
<circle cx="146.7" cy="465.0" r="0.9" fill="#e8321e" stroke="#ffb8a8" stroke-width="0.15"/>
<circle cx="141.4" cy="455.1" r="0.9" fill="#e8321e" stroke="#ffb8a8" stroke-width="0.15"/>
<circle cx="178.7" cy="466.5" r="0.9" fill="#e8321e" stroke="#ffb8a8" stroke-width="0.15"/>
<circle cx="108.6" cy="466.0" r="0.85" fill="#1f1f6e"/>
<circle cx="159.6" cy="467.5" r="0.9" fill="#e8321e" stroke="#ffb8a8" stroke-width="0.15"/>
<circle cx="185.3" cy="456.6" r="0.9" fill="#e8321e" stroke="#ffb8a8" stroke-width="0.15"/>
<circle cx="88.8" cy="464.3" r="0.85" fill="#1f1f6e"/>
<circle cx="155.2" cy="461.3" r="0.9" fill="#e8321e" stroke="#ffb8a8" stroke-width="0.15"/>
<circle cx="159.1" cy="466.3" r="0.9" fill="#e8321e" stroke="#ffb8a8" stroke-width="0.15"/>
<circle cx="198.7" cy="467.4" r="0.95" fill="#111"/>
<circle cx="127.9" cy="468.2" r="0.9" fill="#111"/>
<circle cx="120.4" cy="455.6" r="0.9" fill="#111"/>
<circle cx="123.4" cy="467.6" r="0.9" fill="#111"/>
<circle cx="117.1" cy="467.5" r="0.9" fill="#111"/>
<circle cx="114.0" cy="468.1" r="0.9" fill="#111"/>
<circle cx="150.9" cy="467.4" r="0.9" fill="#111"/>
<circle cx="134.0" cy="379.8" r="1.1" fill="#111"/>
<circle cx="192.3" cy="465.4" r="0.9" fill="#e8321e" stroke="#ffb8a8" stroke-width="0.15"/>
<circle cx="113.1" cy="465.2" r="0.85" fill="#1f1f6e"/>
<circle cx="144.1" cy="463.5" r="0.9" fill="#e8321e" stroke="#ffb8a8" stroke-width="0.15"/>
<circle cx="167.8" cy="466.5" r="0.95" fill="#111"/>
<circle cx="102.3" cy="467.8" r="0.9" fill="#111"/>
<circle cx="108.3" cy="450.0" r="0.85" fill="#1f1f6e"/>
<circle cx="147.2" cy="467.5" r="0.9" fill="#111"/>
<circle cx="127.2" cy="465.0" r="0.9" fill="#111"/>
<circle cx="124.5" cy="457.4" r="0.85" fill="#1f1f6e"/>
<circle cx="151.3" cy="467.4" r="0.9" fill="#111"/>
<circle cx="220.5" cy="467.1" r="0.95" fill="#111"/>
<circle cx="155.2" cy="467.6" r="0.9" fill="#e8321e" stroke="#ffb8a8" stroke-width="0.15"/>
<circle cx="110.3" cy="459.4" r="0.85" fill="#1f1f6e"/>
<circle cx="128.1" cy="464.7" r="0.9" fill="#111"/>
<circle cx="126.1" cy="452.9" r="0.9" fill="#111"/>
<circle cx="133.5" cy="460.2" r="0.9" fill="#111"/>
<circle cx="135.2" cy="463.2" r="0.9" fill="#111"/>
<circle cx="129.6" cy="464.7" r="0.9" fill="#111"/>
<circle cx="120.8" cy="456.9" r="0.85" fill="#1f1f6e"/>
<circle cx="144.3" cy="458.5" r="0.9" fill="#e8321e" stroke="#ffb8a8" stroke-width="0.15"/>
<circle cx="171.2" cy="467.6" r="0.95" fill="#111"/>
<circle cx="124.6" cy="462.6" r="0.9" fill="#111"/>
<circle cx="179.5" cy="467.2" r="0.95" fill="#111"/>
<circle cx="135.5" cy="464.4" r="0.9" fill="#111"/>
<circle cx="150.9" cy="462.3" r="0.9" fill="#e8321e" stroke="#ffb8a8" stroke-width="0.15"/>
<circle cx="91.0" cy="464.5" r="0.85" fill="#1f1f6e"/>
<circle cx="207.1" cy="467.4" r="0.95" fill="#111"/>
<circle cx="194.3" cy="466.1" r="0.95" fill="#111"/>
<circle cx="127.7" cy="468.1" r="0.9" fill="#111"/>
<circle cx="147.2" cy="464.7" r="0.9" fill="#e8321e" stroke="#ffb8a8" stroke-width="0.15"/>
<circle cx="125.3" cy="464.2" r="0.9" fill="#111"/>
<circle cx="221.3" cy="466.8" r="0.95" fill="#111"/>
<circle cx="153.0" cy="466.9" r="0.9" fill="#e8321e" stroke="#ffb8a8" stroke-width="0.15"/>
<circle cx="147.4" cy="467.4" r="0.9" fill="#111"/>
<circle cx="198.8" cy="466.5" r="0.95" fill="#111"/>
<circle cx="157.4" cy="462.6" r="0.9" fill="#e8321e" stroke="#ffb8a8" stroke-width="0.15"/>
<circle cx="117.5" cy="465.9" r="0.9" fill="#111"/>
<circle cx="217.2" cy="467.1" r="0.95" fill="#111"/>
<circle cx="142.6" cy="463.6" r="0.9" fill="#e8321e" stroke="#ffb8a8" stroke-width="0.15"/>
<circle cx="145.4" cy="466.9" r="0.9" fill="#111"/>
<circle cx="123.8" cy="462.2" r="0.9" fill="#111"/>
<circle cx="120.5" cy="455.6" r="0.9" fill="#111"/>
<circle cx="182.0" cy="466.2" r="0.95" fill="#111"/>
<circle cx="192.8" cy="465.3" r="0.9" fill="#e8321e" stroke="#ffb8a8" stroke-width="0.15"/>
<circle cx="136.3" cy="460.9" r="0.9" fill="#111"/>
<circle cx="104.8" cy="463.8" r="0.85" fill="#1f1f6e"/>
<circle cx="115.1" cy="457.2" r="0.85" fill="#1f1f6e"/>
<circle cx="125.4" cy="462.4" r="0.9" fill="#111"/>
<circle cx="120.4" cy="464.0" r="0.85" fill="#1f1f6e"/>
<circle cx="167.4" cy="431.5" r="1.1" fill="#e8321e" stroke="#ffb8a8" stroke-width="0.15"/>
<circle cx="148.8" cy="465.8" r="0.9" fill="#e8321e" stroke="#ffb8a8" stroke-width="0.15"/>
<circle cx="138.7" cy="466.3" r="0.9" fill="#111"/>
<circle cx="147.2" cy="448.2" r="0.9" fill="#e8321e" stroke="#ffb8a8" stroke-width="0.15"/>
<circle cx="99.4" cy="431.7" r="1.1" fill="#1f1f6e"/>
<circle cx="185.5" cy="466.1" r="0.95" fill="#111"/>
<circle cx="149.2" cy="461.6" r="0.9" fill="#e8321e" stroke="#ffb8a8" stroke-width="0.15"/>
<circle cx="133.0" cy="458.7" r="0.9" fill="#111"/>
<circle cx="162.0" cy="463.3" r="0.9" fill="#e8321e" stroke="#ffb8a8" stroke-width="0.15"/>
<circle cx="155.8" cy="456.7" r="0.9" fill="#e8321e" stroke="#ffb8a8" stroke-width="0.15"/>
<circle cx="159.0" cy="460.7" r="0.9" fill="#e8321e" stroke="#ffb8a8" stroke-width="0.15"/>
<circle cx="152.2" cy="463.1" r="0.9" fill="#e8321e" stroke="#ffb8a8" stroke-width="0.15"/>
<circle cx="116.5" cy="468.2" r="0.9" fill="#111"/>
<circle cx="150.2" cy="465.6" r="0.9" fill="#e8321e" stroke="#ffb8a8" stroke-width="0.15"/>
<circle cx="138.7" cy="435.2" r="1.1" fill="#111"/>
<circle cx="95.8" cy="466.1" r="0.85" fill="#1f1f6e"/>
<circle cx="145.3" cy="468.2" r="0.9" fill="#e8321e" stroke="#ffb8a8" stroke-width="0.15"/>
<circle cx="186.6" cy="460.2" r="0.9" fill="#e8321e" stroke="#ffb8a8" stroke-width="0.15"/>
<circle cx="124.6" cy="465.1" r="0.9" fill="#111"/>
<circle cx="113.9" cy="465.2" r="0.85" fill="#1f1f6e"/>
<circle cx="125.4" cy="457.6" r="0.9" fill="#111"/>
<circle cx="96.3" cy="467.1" r="0.9" fill="#111"/>
<circle cx="120.3" cy="459.3" r="0.9" fill="#111"/>
<circle cx="161.2" cy="465.4" r="0.9" fill="#e8321e" stroke="#ffb8a8" stroke-width="0.15"/>
<circle cx="122.0" cy="468.0" r="0.85" fill="#1f1f6e"/>
<circle cx="187.4" cy="467.9" r="0.9" fill="#111"/>
<circle cx="155.0" cy="459.1" r="0.9" fill="#e8321e" stroke="#ffb8a8" stroke-width="0.15"/>
<circle cx="143.8" cy="466.9" r="0.9" fill="#e8321e" stroke="#ffb8a8" stroke-width="0.15"/>
<circle cx="146.4" cy="468.2" r="0.9" fill="#111"/>
<circle cx="149.8" cy="465.0" r="0.9" fill="#e8321e" stroke="#ffb8a8" stroke-width="0.15"/>
<circle cx="142.7" cy="417.9" r="1.1" fill="#e8321e" stroke="#ffb8a8" stroke-width="0.15"/>
<circle cx="157.3" cy="466.9" r="0.9" fill="#111"/>
<circle cx="174.5" cy="447.8" r="0.9" fill="#e8321e" stroke="#ffb8a8" stroke-width="0.15"/>
<circle cx="197.3" cy="463.6" r="0.9" fill="#e8321e" stroke="#ffb8a8" stroke-width="0.15"/>
<circle cx="138.3" cy="464.9" r="0.9" fill="#111"/>
<circle cx="138.2" cy="467.8" r="0.9" fill="#111"/>
<circle cx="133.0" cy="468.1" r="0.9" fill="#111"/>
<circle cx="139.3" cy="466.7" r="0.9" fill="#111"/>
<circle cx="55.6" cy="429.5" r="1.1" fill="#1f1f6e"/>
<circle cx="121.8" cy="464.0" r="0.9" fill="#111"/>
<circle cx="142.0" cy="465.0" r="0.9" fill="#e8321e" stroke="#ffb8a8" stroke-width="0.15"/>
<circle cx="110.6" cy="463.0" r="0.85" fill="#1f1f6e"/>
<circle cx="129.0" cy="467.2" r="0.9" fill="#111"/>
<circle cx="147.0" cy="467.4" r="0.9" fill="#111"/>
<circle cx="132.3" cy="462.3" r="0.9" fill="#111"/>
<circle cx="145.9" cy="468.1" r="0.9" fill="#111"/>
<circle cx="143.0" cy="464.5" r="0.9" fill="#e8321e" stroke="#ffb8a8" stroke-width="0.15"/>
<circle cx="148.1" cy="454.8" r="0.9" fill="#e8321e" stroke="#ffb8a8" stroke-width="0.15"/>
<circle cx="184.4" cy="467.5" r="0.95" fill="#111"/>
<circle cx="152.6" cy="467.8" r="0.9" fill="#e8321e" stroke="#ffb8a8" stroke-width="0.15"/>
<circle cx="148.1" cy="465.2" r="0.9" fill="#e8321e" stroke="#ffb8a8" stroke-width="0.15"/>
<circle cx="149.8" cy="461.3" r="0.9" fill="#e8321e" stroke="#ffb8a8" stroke-width="0.15"/>
<circle cx="141.5" cy="455.8" r="0.9" fill="#e8321e" stroke="#ffb8a8" stroke-width="0.15"/>
<circle cx="168.3" cy="466.5" r="0.95" fill="#111"/>
<circle cx="119.9" cy="458.0" r="0.9" fill="#111"/>
<circle cx="147.9" cy="454.9" r="0.9" fill="#e8321e" stroke="#ffb8a8" stroke-width="0.15"/>
<circle cx="170.9" cy="465.9" r="0.9" fill="#e8321e" stroke="#ffb8a8" stroke-width="0.15"/>
<circle cx="144.6" cy="468.1" r="0.9" fill="#111"/>
<circle cx="131.0" cy="467.2" r="0.9" fill="#111"/>
<circle cx="156.1" cy="464.4" r="0.9" fill="#e8321e" stroke="#ffb8a8" stroke-width="0.15"/>
<circle cx="130.8" cy="467.6" r="0.9" fill="#111"/>
<circle cx="145.5" cy="467.9" r="0.9" fill="#e8321e" stroke="#ffb8a8" stroke-width="0.15"/>
<circle cx="130.5" cy="467.5" r="0.9" fill="#111"/>
<circle cx="155.9" cy="463.1" r="0.9" fill="#e8321e" stroke="#ffb8a8" stroke-width="0.15"/>
<circle cx="158.9" cy="465.9" r="0.9" fill="#e8321e" stroke="#ffb8a8" stroke-width="0.15"/>
<circle cx="101.2" cy="467.8" r="0.9" fill="#111"/>
<circle cx="182.9" cy="467.7" r="0.95" fill="#111"/>
<circle cx="164.0" cy="466.6" r="0.9" fill="#111"/>
<circle cx="173.1" cy="466.1" r="0.95" fill="#111"/>
<circle cx="210.8" cy="466.3" r="0.95" fill="#111"/>
<circle cx="147.9" cy="467.2" r="0.9" fill="#e8321e" stroke="#ffb8a8" stroke-width="0.15"/>
<circle cx="197.5" cy="467.5" r="0.95" fill="#111"/>
<circle cx="146.4" cy="465.0" r="0.9" fill="#e8321e" stroke="#ffb8a8" stroke-width="0.15"/>
<circle cx="150.2" cy="467.7" r="0.9" fill="#e8321e" stroke="#ffb8a8" stroke-width="0.15"/>
<circle cx="157.9" cy="462.2" r="0.9" fill="#e8321e" stroke="#ffb8a8" stroke-width="0.15"/>
<circle cx="131.3" cy="460.4" r="0.9" fill="#111"/>
<circle cx="118.3" cy="467.9" r="0.85" fill="#1f1f6e"/>
<circle cx="121.7" cy="466.9" r="0.9" fill="#111"/>
<circle cx="136.4" cy="468.1" r="0.9" fill="#111"/>
<circle cx="138.0" cy="467.5" r="0.9" fill="#111"/>
<circle cx="105.7" cy="468.0" r="0.9" fill="#111"/>
<circle cx="148.3" cy="466.1" r="0.9" fill="#e8321e" stroke="#ffb8a8" stroke-width="0.15"/>
<circle cx="179.5" cy="465.4" r="0.95" fill="#111"/>
<circle cx="137.2" cy="458.4" r="0.9" fill="#111"/>
<circle cx="145.3" cy="468.2" r="0.9" fill="#111"/>
<circle cx="135.3" cy="466.4" r="0.9" fill="#111"/>
<circle cx="137.8" cy="461.7" r="0.9" fill="#111"/>
<circle cx="160.7" cy="463.3" r="0.9" fill="#e8321e" stroke="#ffb8a8" stroke-width="0.15"/>
<circle cx="154.0" cy="467.6" r="0.9" fill="#111"/>
<circle cx="137.9" cy="467.9" r="0.9" fill="#111"/>
<circle cx="126.6" cy="467.7" r="0.9" fill="#111"/>
<circle cx="171.9" cy="467.1" r="0.9" fill="#111"/>
<circle cx="138.5" cy="458.4" r="0.9" fill="#111"/>
<circle cx="144.5" cy="468.0" r="0.9" fill="#e8321e" stroke="#ffb8a8" stroke-width="0.15"/>
<circle cx="148.3" cy="467.6" r="0.9" fill="#e8321e" stroke="#ffb8a8" stroke-width="0.15"/>
<circle cx="96.4" cy="466.8" r="0.9" fill="#111"/>
<circle cx="153.5" cy="465.8" r="0.9" fill="#e8321e" stroke="#ffb8a8" stroke-width="0.15"/>
<circle cx="160.1" cy="467.0" r="0.9" fill="#e8321e" stroke="#ffb8a8" stroke-width="0.15"/>
<circle cx="123.5" cy="467.8" r="0.85" fill="#1f1f6e"/>
<circle cx="207.5" cy="467.8" r="0.95" fill="#111"/>
<circle cx="171.9" cy="460.6" r="0.9" fill="#e8321e" stroke="#ffb8a8" stroke-width="0.15"/>
<circle cx="155.7" cy="465.3" r="0.9" fill="#e8321e" stroke="#ffb8a8" stroke-width="0.15"/>
<circle cx="208.3" cy="466.6" r="0.95" fill="#111"/>
<circle cx="136.2" cy="466.2" r="0.9" fill="#111"/>
<circle cx="119.5" cy="464.5" r="0.9" fill="#111"/>
<circle cx="107.9" cy="465.6" r="0.85" fill="#1f1f6e"/>
<circle cx="144.9" cy="452.8" r="0.9" fill="#e8321e" stroke="#ffb8a8" stroke-width="0.15"/>
<circle cx="77.4" cy="430.6" r="1.1" fill="#1f1f6e"/>
<circle cx="107.0" cy="466.3" r="0.85" fill="#1f1f6e"/>
<circle cx="149.7" cy="462.0" r="0.9" fill="#e8321e" stroke="#ffb8a8" stroke-width="0.15"/>
<circle cx="159.4" cy="467.4" r="0.95" fill="#111"/>
<circle cx="152.2" cy="456.8" r="0.9" fill="#e8321e" stroke="#ffb8a8" stroke-width="0.15"/>
<circle cx="144.2" cy="467.7" r="0.9" fill="#e8321e" stroke="#ffb8a8" stroke-width="0.15"/>
<circle cx="156.4" cy="459.1" r="0.9" fill="#e8321e" stroke="#ffb8a8" stroke-width="0.15"/>
<circle cx="123.3" cy="464.0" r="0.9" fill="#111"/>
<circle cx="88.7" cy="463.8" r="0.85" fill="#1f1f6e"/>
<circle cx="111.8" cy="468.1" r="0.9" fill="#111"/>
<circle cx="155.3" cy="461.6" r="0.9" fill="#e8321e" stroke="#ffb8a8" stroke-width="0.15"/>
<circle cx="114.2" cy="459.0" r="0.85" fill="#1f1f6e"/>
<circle cx="128.8" cy="466.7" r="0.9" fill="#111"/>
<circle cx="140.6" cy="467.6" r="0.9" fill="#111"/>
<circle cx="162.5" cy="465.3" r="0.9" fill="#e8321e" stroke="#ffb8a8" stroke-width="0.15"/>
<circle cx="139.6" cy="467.8" r="0.9" fill="#111"/>
<circle cx="179.2" cy="434.6" r="1.1" fill="#e8321e" stroke="#ffb8a8" stroke-width="0.15"/>
<circle cx="123.2" cy="464.6" r="0.9" fill="#111"/>
<circle cx="156.4" cy="466.8" r="0.95" fill="#111"/>
<circle cx="115.8" cy="464.3" r="0.85" fill="#1f1f6e"/>
<circle cx="137.1" cy="465.7" r="0.9" fill="#111"/>
<circle cx="206.0" cy="464.3" r="0.9" fill="#e8321e" stroke="#ffb8a8" stroke-width="0.15"/>
<circle cx="146.9" cy="455.3" r="0.9" fill="#e8321e" stroke="#ffb8a8" stroke-width="0.15"/>
<circle cx="205.0" cy="467.2" r="0.95" fill="#111"/>
<circle cx="123.1" cy="467.6" r="0.9" fill="#111"/>
<circle cx="159.9" cy="462.5" r="0.9" fill="#e8321e" stroke="#ffb8a8" stroke-width="0.15"/>
<circle cx="138.5" cy="467.7" r="0.9" fill="#111"/>
<circle cx="160.0" cy="465.0" r="0.9" fill="#e8321e" stroke="#ffb8a8" stroke-width="0.15"/>
<circle cx="127.4" cy="464.9" r="0.9" fill="#111"/>
<circle cx="148.3" cy="458.8" r="0.9" fill="#e8321e" stroke="#ffb8a8" stroke-width="0.15"/>
<circle cx="211.6" cy="467.2" r="0.95" fill="#111"/>
<circle cx="178.8" cy="466.2" r="0.95" fill="#111"/>
<circle cx="145.4" cy="452.3" r="0.9" fill="#e8321e" stroke="#ffb8a8" stroke-width="0.15"/>
<circle cx="88.1" cy="459.8" r="0.85" fill="#1f1f6e"/>
<circle cx="190.8" cy="461.6" r="0.9" fill="#e8321e" stroke="#ffb8a8" stroke-width="0.15"/>
<circle cx="191.9" cy="455.9" r="0.9" fill="#e8321e" stroke="#ffb8a8" stroke-width="0.15"/>
<circle cx="137.1" cy="462.2" r="0.9" fill="#111"/>
<circle cx="155.9" cy="467.8" r="0.95" fill="#111"/>
<circle cx="134.9" cy="467.9" r="0.9" fill="#111"/>
<circle cx="126.2" cy="457.8" r="0.9" fill="#111"/>
<circle cx="96.1" cy="462.2" r="0.85" fill="#1f1f6e"/>
<circle cx="168.2" cy="465.9" r="0.95" fill="#111"/>
<circle cx="213.2" cy="468.1" r="0.95" fill="#111"/>
<circle cx="145.8" cy="467.9" r="0.9" fill="#e8321e" stroke="#ffb8a8" stroke-width="0.15"/>
<circle cx="156.3" cy="467.8" r="0.9" fill="#e8321e" stroke="#ffb8a8" stroke-width="0.15"/>
<circle cx="160.9" cy="462.2" r="0.9" fill="#e8321e" stroke="#ffb8a8" stroke-width="0.15"/>
<circle cx="159.3" cy="464.3" r="0.9" fill="#e8321e" stroke="#ffb8a8" stroke-width="0.15"/>
<circle cx="129.5" cy="468.0" r="0.9" fill="#111"/>
<circle cx="157.5" cy="467.1" r="0.9" fill="#e8321e" stroke="#ffb8a8" stroke-width="0.15"/>
<circle cx="91.9" cy="462.7" r="0.85" fill="#1f1f6e"/>
<circle cx="131.8" cy="461.4" r="0.9" fill="#111"/>
<circle cx="140.9" cy="467.3" r="0.9" fill="#111"/>
<circle cx="130.1" cy="459.7" r="0.9" fill="#111"/>
<circle cx="134.0" cy="463.3" r="0.9" fill="#111"/>
<circle cx="140.8" cy="467.4" r="0.9" fill="#111"/>
<circle cx="137.8" cy="468.2" r="0.9" fill="#111"/>
<circle cx="111.5" cy="465.1" r="0.85" fill="#1f1f6e"/>
<circle cx="127.7" cy="458.9" r="0.9" fill="#111"/>
<circle cx="155.8" cy="464.4" r="0.95" fill="#111"/>
<circle cx="144.6" cy="468.0" r="0.9" fill="#111"/>
<circle cx="155.4" cy="463.2" r="0.9" fill="#e8321e" stroke="#ffb8a8" stroke-width="0.15"/>
<circle cx="86.1" cy="465.1" r="0.85" fill="#1f1f6e"/>
<circle cx="175.7" cy="465.3" r="0.9" fill="#e8321e" stroke="#ffb8a8" stroke-width="0.15"/>
<circle cx="133.9" cy="465.9" r="0.9" fill="#111"/>
<circle cx="181.5" cy="467.2" r="0.95" fill="#111"/>
<circle cx="150.8" cy="466.9" r="0.9" fill="#111"/>
<circle cx="158.3" cy="458.4" r="0.9" fill="#e8321e" stroke="#ffb8a8" stroke-width="0.15"/>
<circle cx="147.9" cy="465.3" r="0.9" fill="#e8321e" stroke="#ffb8a8" stroke-width="0.15"/>
<circle cx="121.3" cy="467.6" r="0.85" fill="#1f1f6e"/>
<circle cx="170.8" cy="468.0" r="0.95" fill="#111"/>
<circle cx="189.1" cy="465.5" r="0.95" fill="#111"/>
<circle cx="147.6" cy="465.9" r="0.9" fill="#111"/>
<circle cx="88.1" cy="465.3" r="0.85" fill="#1f1f6e"/>
<circle cx="142.8" cy="462.6" r="0.9" fill="#e8321e" stroke="#ffb8a8" stroke-width="0.15"/>
<circle cx="197.1" cy="468.0" r="0.95" fill="#111"/>
<circle cx="147.9" cy="466.0" r="0.9" fill="#111"/>
<circle cx="122.4" cy="467.1" r="0.9" fill="#111"/>
<circle cx="124.8" cy="467.6" r="0.9" fill="#111"/>
<circle cx="142.3" cy="451.2" r="0.9" fill="#e8321e" stroke="#ffb8a8" stroke-width="0.15"/>
<circle cx="122.1" cy="453.4" r="0.85" fill="#1f1f6e"/>
<circle cx="151.0" cy="448.5" r="0.9" fill="#e8321e" stroke="#ffb8a8" stroke-width="0.15"/>
<circle cx="128.3" cy="457.6" r="0.9" fill="#111"/>
<circle cx="135.4" cy="403.2" r="1.1" fill="#111"/>
<circle cx="90.8" cy="431.7" r="1.1" fill="#1f1f6e"/>
<circle cx="148.9" cy="463.1" r="0.9" fill="#e8321e" stroke="#ffb8a8" stroke-width="0.15"/>
<circle cx="122.0" cy="460.1" r="0.85" fill="#1f1f6e"/>
<circle cx="125.9" cy="465.2" r="0.9" fill="#111"/>
<circle cx="143.3" cy="457.2" r="0.9" fill="#e8321e" stroke="#ffb8a8" stroke-width="0.15"/>
<circle cx="118.1" cy="461.9" r="0.85" fill="#1f1f6e"/>
<circle cx="161.1" cy="463.3" r="0.9" fill="#e8321e" stroke="#ffb8a8" stroke-width="0.15"/>
<circle cx="155.6" cy="467.4" r="0.95" fill="#111"/>
<circle cx="134.4" cy="459.2" r="0.9" fill="#111"/>
<circle cx="141.8" cy="463.8" r="0.9" fill="#e8321e" stroke="#ffb8a8" stroke-width="0.15"/>
<circle cx="176.3" cy="464.8" r="0.9" fill="#e8321e" stroke="#ffb8a8" stroke-width="0.15"/>
<circle cx="150.0" cy="451.3" r="0.9" fill="#e8321e" stroke="#ffb8a8" stroke-width="0.15"/>
<circle cx="125.2" cy="468.2" r="0.9" fill="#111"/>
<circle cx="155.1" cy="460.0" r="0.9" fill="#e8321e" stroke="#ffb8a8" stroke-width="0.15"/>
<circle cx="158.1" cy="466.9" r="0.9" fill="#e8321e" stroke="#ffb8a8" stroke-width="0.15"/>
<circle cx="160.4" cy="463.8" r="0.9" fill="#e8321e" stroke="#ffb8a8" stroke-width="0.15"/>
<circle cx="143.5" cy="462.5" r="0.9" fill="#111"/>
<circle cx="142.3" cy="467.6" r="0.9" fill="#e8321e" stroke="#ffb8a8" stroke-width="0.15"/>
<circle cx="126.0" cy="457.3" r="0.9" fill="#111"/>
<circle cx="48.8" cy="468.9" r="1.1" fill="#111"/>
<circle cx="154.6" cy="454.4" r="0.9" fill="#e8321e" stroke="#ffb8a8" stroke-width="0.15"/>
<circle cx="69.5" cy="468.0" r="0.85" fill="#1f1f6e"/>
<circle cx="129.4" cy="466.3" r="0.9" fill="#111"/>
<circle cx="108.2" cy="455.8" r="0.85" fill="#1f1f6e"/>
<circle cx="175.2" cy="451.8" r="0.9" fill="#e8321e" stroke="#ffb8a8" stroke-width="0.15"/>
<circle cx="132.2" cy="466.3" r="0.9" fill="#111"/>
<circle cx="122.8" cy="448.3" r="0.9" fill="#111"/>
<circle cx="140.1" cy="467.7" r="0.9" fill="#111"/>
<circle cx="158.7" cy="458.0" r="0.9" fill="#e8321e" stroke="#ffb8a8" stroke-width="0.15"/>
<circle cx="122.6" cy="455.7" r="0.9" fill="#111"/>
<circle cx="86.7" cy="460.5" r="0.85" fill="#1f1f6e"/>
<circle cx="147.0" cy="461.6" r="0.9" fill="#e8321e" stroke="#ffb8a8" stroke-width="0.15"/>
<circle cx="164.3" cy="467.9" r="0.9" fill="#111"/>
<circle cx="117.1" cy="468.2" r="0.9" fill="#111"/>
<circle cx="126.9" cy="466.9" r="0.9" fill="#111"/>
<circle cx="139.5" cy="465.4" r="0.9" fill="#111"/>
<circle cx="135.9" cy="460.5" r="0.9" fill="#111"/>
<circle cx="148.5" cy="463.8" r="0.9" fill="#e8321e" stroke="#ffb8a8" stroke-width="0.15"/>
<circle cx="137.3" cy="468.1" r="0.9" fill="#111"/>
<circle cx="137.1" cy="467.2" r="0.9" fill="#111"/>
<circle cx="161.8" cy="465.6" r="0.9" fill="#e8321e" stroke="#ffb8a8" stroke-width="0.15"/>
<circle cx="208.4" cy="466.1" r="0.95" fill="#111"/>
<circle cx="129.5" cy="467.6" r="0.9" fill="#111"/>
<circle cx="113.3" cy="436.3" r="1.1" fill="#1f1f6e"/>
<circle cx="133.5" cy="465.5" r="0.9" fill="#111"/>
<circle cx="133.6" cy="465.4" r="0.9" fill="#111"/>
<circle cx="144.9" cy="468.1" r="0.9" fill="#111"/>
<circle cx="161.9" cy="461.7" r="0.9" fill="#e8321e" stroke="#ffb8a8" stroke-width="0.15"/>
<circle cx="132.4" cy="466.5" r="0.9" fill="#111"/>
<circle cx="113.9" cy="467.5" r="0.9" fill="#111"/>
<circle cx="149.4" cy="467.9" r="0.9" fill="#111"/>
<circle cx="123.8" cy="466.9" r="0.9" fill="#111"/>
<circle cx="117.6" cy="460.2" r="0.85" fill="#1f1f6e"/>
<circle cx="123.6" cy="467.5" r="0.9" fill="#111"/>
<circle cx="150.3" cy="467.3" r="0.9" fill="#111"/>
<circle cx="138.5" cy="459.8" r="0.9" fill="#111"/>
<circle cx="121.3" cy="462.9" r="0.9" fill="#111"/>
<circle cx="138.6" cy="462.7" r="0.9" fill="#111"/>
<circle cx="150.9" cy="449.0" r="0.9" fill="#e8321e" stroke="#ffb8a8" stroke-width="0.15"/>
<circle cx="147.3" cy="458.5" r="0.9" fill="#e8321e" stroke="#ffb8a8" stroke-width="0.15"/>
<circle cx="138.7" cy="460.5" r="0.9" fill="#111"/>
<circle cx="186.0" cy="468.1" r="0.95" fill="#111"/>
<circle cx="130.2" cy="467.3" r="0.9" fill="#111"/>
<circle cx="220.7" cy="465.8" r="0.95" fill="#111"/>
<circle cx="128.9" cy="467.4" r="0.9" fill="#111"/>
<circle cx="139.8" cy="468.0" r="0.9" fill="#111"/>
<circle cx="124.4" cy="465.2" r="0.9" fill="#111"/>
<circle cx="147.7" cy="457.9" r="0.9" fill="#e8321e" stroke="#ffb8a8" stroke-width="0.15"/>
<circle cx="188.9" cy="466.7" r="0.95" fill="#111"/>
<circle cx="167.0" cy="468.0" r="0.9" fill="#111"/>
<circle cx="163.7" cy="453.6" r="0.9" fill="#e8321e" stroke="#ffb8a8" stroke-width="0.15"/>
<circle cx="124.2" cy="465.2" r="0.9" fill="#111"/>
<circle cx="161.2" cy="466.0" r="0.9" fill="#e8321e" stroke="#ffb8a8" stroke-width="0.15"/>
<circle cx="173.4" cy="466.4" r="0.95" fill="#111"/>
<circle cx="173.3" cy="464.9" r="0.9" fill="#e8321e" stroke="#ffb8a8" stroke-width="0.15"/>
<circle cx="111.1" cy="462.9" r="0.85" fill="#1f1f6e"/>
<circle cx="121.6" cy="467.3" r="0.9" fill="#111"/>
<circle cx="151.1" cy="460.4" r="0.9" fill="#e8321e" stroke="#ffb8a8" stroke-width="0.15"/>
<circle cx="124.9" cy="468.1" r="0.9" fill="#111"/>
<circle cx="123.1" cy="448.7" r="0.85" fill="#1f1f6e"/>
<circle cx="161.0" cy="467.6" r="0.9" fill="#111"/>
<circle cx="177.4" cy="467.6" r="0.9" fill="#111"/>
<circle cx="115.4" cy="468.0" r="0.9" fill="#111"/>
<circle cx="206.1" cy="458.6" r="0.9" fill="#e8321e" stroke="#ffb8a8" stroke-width="0.15"/>
<circle cx="123.8" cy="468.1" r="0.9" fill="#111"/>
<circle cx="145.6" cy="452.0" r="0.9" fill="#e8321e" stroke="#ffb8a8" stroke-width="0.15"/>
<circle cx="130.3" cy="467.2" r="0.9" fill="#111"/>
<circle cx="102.4" cy="468.0" r="0.9" fill="#111"/>
<circle cx="157.5" cy="466.0" r="0.9" fill="#e8321e" stroke="#ffb8a8" stroke-width="0.15"/>
<circle cx="161.0" cy="466.0" r="0.9" fill="#e8321e" stroke="#ffb8a8" stroke-width="0.15"/>
<circle cx="133.5" cy="467.7" r="0.9" fill="#111"/>
<circle cx="137.9" cy="463.1" r="0.9" fill="#111"/>
<circle cx="126.5" cy="459.3" r="0.9" fill="#111"/>
<circle cx="183.4" cy="466.0" r="0.95" fill="#111"/>
<circle cx="146.4" cy="462.6" r="0.9" fill="#e8321e" stroke="#ffb8a8" stroke-width="0.15"/>
<circle cx="170.8" cy="467.9" r="0.95" fill="#111"/>
<circle cx="197.9" cy="465.9" r="0.95" fill="#111"/>
<circle cx="109.7" cy="455.5" r="0.85" fill="#1f1f6e"/>
<circle cx="122.1" cy="464.5" r="0.9" fill="#111"/>
<circle cx="109.4" cy="451.8" r="0.85" fill="#1f1f6e"/>
<circle cx="155.5" cy="450.8" r="0.9" fill="#e8321e" stroke="#ffb8a8" stroke-width="0.15"/>
<circle cx="154.9" cy="467.8" r="0.9" fill="#e8321e" stroke="#ffb8a8" stroke-width="0.15"/>
<circle cx="179.4" cy="451.8" r="0.9" fill="#e8321e" stroke="#ffb8a8" stroke-width="0.15"/>
<circle cx="142.8" cy="462.2" r="0.9" fill="#111"/>
<circle cx="145.7" cy="461.9" r="0.9" fill="#e8321e" stroke="#ffb8a8" stroke-width="0.15"/>
<circle cx="142.3" cy="418.2" r="1.1" fill="#e8321e" stroke="#ffb8a8" stroke-width="0.15"/>
<circle cx="152.0" cy="466.3" r="0.9" fill="#111"/>
<circle cx="196.8" cy="456.0" r="0.9" fill="#e8321e" stroke="#ffb8a8" stroke-width="0.15"/>
<circle cx="143.8" cy="463.0" r="0.9" fill="#e8321e" stroke="#ffb8a8" stroke-width="0.15"/>
<circle cx="159.6" cy="455.2" r="0.9" fill="#e8321e" stroke="#ffb8a8" stroke-width="0.15"/>
<circle cx="88.5" cy="462.7" r="0.85" fill="#1f1f6e"/>
<circle cx="162.5" cy="461.4" r="0.9" fill="#e8321e" stroke="#ffb8a8" stroke-width="0.15"/>
<circle cx="138.4" cy="461.0" r="0.9" fill="#111"/>
<circle cx="208.6" cy="465.9" r="0.95" fill="#111"/>
<circle cx="112.2" cy="467.7" r="0.85" fill="#1f1f6e"/>
<circle cx="152.4" cy="465.6" r="0.9" fill="#e8321e" stroke="#ffb8a8" stroke-width="0.15"/>
<circle cx="158.7" cy="463.2" r="0.9" fill="#e8321e" stroke="#ffb8a8" stroke-width="0.15"/>
<circle cx="134.5" cy="468.0" r="0.9" fill="#111"/>
<circle cx="122.6" cy="464.7" r="0.85" fill="#1f1f6e"/>
<circle cx="150.4" cy="456.5" r="0.9" fill="#e8321e" stroke="#ffb8a8" stroke-width="0.15"/>
<circle cx="141.3" cy="455.9" r="0.9" fill="#e8321e" stroke="#ffb8a8" stroke-width="0.15"/>
<circle cx="141.4" cy="456.5" r="0.9" fill="#e8321e" stroke="#ffb8a8" stroke-width="0.15"/>
<circle cx="172.7" cy="462.8" r="0.9" fill="#e8321e" stroke="#ffb8a8" stroke-width="0.15"/>
<circle cx="161.4" cy="462.9" r="0.9" fill="#e8321e" stroke="#ffb8a8" stroke-width="0.15"/>
<circle cx="109.3" cy="467.9" r="0.9" fill="#111"/>
<circle cx="152.9" cy="467.9" r="0.9" fill="#111"/>
<circle cx="157.1" cy="449.2" r="0.9" fill="#e8321e" stroke="#ffb8a8" stroke-width="0.15"/>
<circle cx="187.3" cy="463.1" r="0.9" fill="#e8321e" stroke="#ffb8a8" stroke-width="0.15"/>
<circle cx="104.6" cy="450.2" r="0.85" fill="#1f1f6e"/>
<circle cx="188.8" cy="467.4" r="0.95" fill="#111"/>
<circle cx="112.4" cy="462.6" r="0.85" fill="#1f1f6e"/>
<circle cx="112.2" cy="466.9" r="0.9" fill="#111"/>
<circle cx="131.7" cy="463.8" r="0.9" fill="#111"/>
<circle cx="168.6" cy="467.2" r="0.9" fill="#111"/>
<circle cx="158.2" cy="467.9" r="0.9" fill="#111"/>
<circle cx="145.6" cy="467.7" r="0.9" fill="#111"/>
<circle cx="207.7" cy="465.4" r="0.95" fill="#111"/>
<circle cx="137.4" cy="466.3" r="0.9" fill="#111"/>
<circle cx="139.7" cy="448.1" r="0.9" fill="#111"/>
<circle cx="112.6" cy="468.0" r="0.9" fill="#111"/>
<circle cx="140.2" cy="459.0" r="0.9" fill="#111"/>
<circle cx="143.5" cy="467.9" r="0.9" fill="#111"/>
<circle cx="132.5" cy="467.7" r="0.9" fill="#111"/>
<circle cx="221.9" cy="466.4" r="0.95" fill="#111"/>
<circle cx="131.8" cy="467.9" r="0.9" fill="#111"/>
<circle cx="123.7" cy="465.8" r="0.9" fill="#111"/>
<circle cx="124.6" cy="466.2" r="0.9" fill="#111"/>
<circle cx="150.0" cy="451.0" r="0.9" fill="#e8321e" stroke="#ffb8a8" stroke-width="0.15"/>
<circle cx="128.9" cy="467.7" r="0.9" fill="#111"/>
<circle cx="162.5" cy="465.1" r="0.9" fill="#e8321e" stroke="#ffb8a8" stroke-width="0.15"/>
<circle cx="171.4" cy="461.3" r="0.9" fill="#e8321e" stroke="#ffb8a8" stroke-width="0.15"/>
<circle cx="151.7" cy="468.1" r="0.9" fill="#111"/>
<circle cx="136.6" cy="460.1" r="0.9" fill="#111"/>
<circle cx="140.1" cy="468.2" r="0.9" fill="#111"/>
<circle cx="104.4" cy="456.6" r="0.85" fill="#1f1f6e"/>
<circle cx="157.3" cy="465.7" r="0.95" fill="#111"/>
<circle cx="132.9" cy="466.8" r="0.9" fill="#111"/>
<circle cx="142.5" cy="467.5" r="0.9" fill="#e8321e" stroke="#ffb8a8" stroke-width="0.15"/>
<circle cx="141.3" cy="467.7" r="0.9" fill="#e8321e" stroke="#ffb8a8" stroke-width="0.15"/>
<circle cx="187.6" cy="466.0" r="0.95" fill="#111"/>
<circle cx="161.2" cy="467.9" r="0.9" fill="#e8321e" stroke="#ffb8a8" stroke-width="0.15"/>
<circle cx="195.5" cy="468.1" r="0.95" fill="#111"/>
<circle cx="177.5" cy="467.4" r="0.95" fill="#111"/>
<circle cx="145.0" cy="450.7" r="0.9" fill="#e8321e" stroke="#ffb8a8" stroke-width="0.15"/>
<circle cx="125.1" cy="457.9" r="0.9" fill="#111"/>
<circle cx="112.4" cy="467.4" r="0.9" fill="#111"/>
<circle cx="88.5" cy="466.0" r="0.9" fill="#111"/>
<circle cx="159.0" cy="468.0" r="0.9" fill="#e8321e" stroke="#ffb8a8" stroke-width="0.15"/>
<circle cx="111.9" cy="466.1" r="0.85" fill="#1f1f6e"/>
<circle cx="104.4" cy="467.9" r="0.9" fill="#111"/>
<circle cx="115.9" cy="468.2" r="0.9" fill="#111"/>
<circle cx="159.3" cy="467.9" r="0.9" fill="#e8321e" stroke="#ffb8a8" stroke-width="0.15"/>
<circle cx="130.1" cy="462.7" r="0.9" fill="#111"/>
<circle cx="151.0" cy="460.8" r="0.9" fill="#e8321e" stroke="#ffb8a8" stroke-width="0.15"/>
<circle cx="129.4" cy="464.5" r="0.9" fill="#111"/>
<circle cx="129.5" cy="467.6" r="0.9" fill="#111"/>
<circle cx="144.9" cy="467.8" r="0.9" fill="#111"/>
<circle cx="110.7" cy="448.3" r="0.85" fill="#1f1f6e"/>
<circle cx="114.7" cy="448.5" r="0.85" fill="#1f1f6e"/>
<circle cx="208.7" cy="465.6" r="0.95" fill="#111"/>
<circle cx="128.9" cy="464.5" r="0.9" fill="#111"/>
<circle cx="157.5" cy="466.4" r="0.9" fill="#e8321e" stroke="#ffb8a8" stroke-width="0.15"/>
<circle cx="145.0" cy="464.2" r="0.9" fill="#e8321e" stroke="#ffb8a8" stroke-width="0.15"/>
<circle cx="150.8" cy="467.6" r="0.9" fill="#e8321e" stroke="#ffb8a8" stroke-width="0.15"/>
<circle cx="145.4" cy="466.5" r="0.9" fill="#e8321e" stroke="#ffb8a8" stroke-width="0.15"/>
<circle cx="166.9" cy="454.1" r="0.9" fill="#e8321e" stroke="#ffb8a8" stroke-width="0.15"/>
<circle cx="139.9" cy="467.8" r="0.9" fill="#111"/>
<circle cx="152.3" cy="466.1" r="0.9" fill="#e8321e" stroke="#ffb8a8" stroke-width="0.15"/>
<circle cx="138.2" cy="458.3" r="0.9" fill="#111"/>
<circle cx="121.3" cy="463.1" r="0.9" fill="#111"/>
<circle cx="122.8" cy="460.2" r="0.85" fill="#1f1f6e"/>
<circle cx="156.9" cy="467.6" r="0.9" fill="#e8321e" stroke="#ffb8a8" stroke-width="0.15"/>
<circle cx="68.0" cy="467.3" r="0.85" fill="#1f1f6e"/>
<circle cx="119.1" cy="463.9" r="0.85" fill="#1f1f6e"/>
<circle cx="134.3" cy="463.6" r="0.9" fill="#111"/>
<circle cx="178.4" cy="466.7" r="0.9" fill="#111"/>
<circle cx="93.0" cy="468.1" r="0.85" fill="#1f1f6e"/>
<circle cx="121.7" cy="466.8" r="0.9" fill="#111"/>
<circle cx="131.3" cy="462.2" r="0.9" fill="#111"/>
<circle cx="136.1" cy="467.6" r="0.9" fill="#111"/>
<circle cx="154.4" cy="461.7" r="0.9" fill="#e8321e" stroke="#ffb8a8" stroke-width="0.15"/>
<circle cx="144.3" cy="453.0" r="0.9" fill="#e8321e" stroke="#ffb8a8" stroke-width="0.15"/>
<circle cx="151.1" cy="468.0" r="0.9" fill="#111"/>
<circle cx="130.0" cy="463.1" r="0.9" fill="#111"/>
<circle cx="136.7" cy="467.6" r="0.9" fill="#111"/>
<circle cx="163.2" cy="466.5" r="0.9" fill="#111"/>
<circle cx="130.9" cy="459.2" r="0.9" fill="#111"/>
<circle cx="139.2" cy="467.7" r="0.9" fill="#111"/>
<circle cx="80.5" cy="465.6" r="0.85" fill="#1f1f6e"/>
<circle cx="131.0" cy="456.2" r="0.9" fill="#111"/>
<circle cx="94.4" cy="465.1" r="0.85" fill="#1f1f6e"/>
<circle cx="137.9" cy="459.9" r="0.9" fill="#111"/>
<circle cx="184.8" cy="459.8" r="0.9" fill="#e8321e" stroke="#ffb8a8" stroke-width="0.15"/>
<circle cx="133.7" cy="460.8" r="0.9" fill="#111"/>
<circle cx="127.0" cy="467.8" r="0.9" fill="#111"/>
<circle cx="131.5" cy="462.6" r="0.9" fill="#111"/>
<circle cx="200.0" cy="461.9" r="0.9" fill="#e8321e" stroke="#ffb8a8" stroke-width="0.15"/>
<circle cx="141.7" cy="467.9" r="0.9" fill="#e8321e" stroke="#ffb8a8" stroke-width="0.15"/>
<circle cx="124.5" cy="461.7" r="0.9" fill="#111"/>
<circle cx="140.1" cy="466.8" r="0.9" fill="#111"/>
<circle cx="162.6" cy="459.8" r="0.9" fill="#e8321e" stroke="#ffb8a8" stroke-width="0.15"/>
<circle cx="125.0" cy="467.0" r="0.9" fill="#111"/>
<circle cx="117.2" cy="467.9" r="0.9" fill="#111"/>
<circle cx="131.5" cy="456.0" r="0.9" fill="#111"/>
<circle cx="126.0" cy="457.3" r="0.9" fill="#111"/>
<circle cx="199.4" cy="468.0" r="0.95" fill="#111"/>
<circle cx="135.1" cy="466.0" r="0.9" fill="#111"/>
<circle cx="127.1" cy="467.9" r="0.9" fill="#111"/>
<circle cx="112.4" cy="467.9" r="0.9" fill="#111"/>
<circle cx="70.6" cy="443.1" r="1.1" fill="#1f1f6e"/>
<circle cx="138.6" cy="463.5" r="0.9" fill="#111"/>
<circle cx="161.3" cy="468.0" r="0.95" fill="#111"/>
<circle cx="127.1" cy="464.2" r="0.9" fill="#111"/>
<circle cx="172.2" cy="467.5" r="0.95" fill="#111"/>
<circle cx="160.2" cy="468.2" r="0.9" fill="#111"/>
<circle cx="147.8" cy="458.6" r="0.9" fill="#e8321e" stroke="#ffb8a8" stroke-width="0.15"/>
<circle cx="127.8" cy="467.4" r="0.9" fill="#111"/>
<circle cx="113.7" cy="454.7" r="0.85" fill="#1f1f6e"/>
<circle cx="88.1" cy="468.1" r="0.85" fill="#1f1f6e"/>
<circle cx="210.6" cy="467.1" r="0.95" fill="#111"/>
<circle cx="139.3" cy="468.2" r="0.9" fill="#111"/>
<circle cx="129.8" cy="467.0" r="0.9" fill="#111"/>
<circle cx="148.0" cy="461.5" r="0.9" fill="#e8321e" stroke="#ffb8a8" stroke-width="0.15"/>
<circle cx="162.5" cy="465.0" r="0.9" fill="#e8321e" stroke="#ffb8a8" stroke-width="0.15"/>
<circle cx="154.4" cy="465.9" r="0.9" fill="#e8321e" stroke="#ffb8a8" stroke-width="0.15"/>
<circle cx="160.7" cy="466.7" r="0.9" fill="#111"/>
<circle cx="139.9" cy="467.5" r="0.9" fill="#111"/>
<circle cx="143.3" cy="462.7" r="0.9" fill="#e8321e" stroke="#ffb8a8" stroke-width="0.15"/>
<circle cx="199.0" cy="467.2" r="0.95" fill="#111"/>
<circle cx="123.0" cy="467.9" r="0.9" fill="#111"/>
<circle cx="132.1" cy="467.8" r="0.9" fill="#111"/>
<circle cx="159.2" cy="462.7" r="0.9" fill="#e8321e" stroke="#ffb8a8" stroke-width="0.15"/>
<circle cx="154.6" cy="461.9" r="0.9" fill="#e8321e" stroke="#ffb8a8" stroke-width="0.15"/>
<circle cx="141.0" cy="463.4" r="0.9" fill="#e8321e" stroke="#ffb8a8" stroke-width="0.15"/>
<circle cx="183.3" cy="468.0" r="0.95" fill="#111"/>
<circle cx="154.0" cy="455.7" r="0.9" fill="#e8321e" stroke="#ffb8a8" stroke-width="0.15"/>
<circle cx="157.5" cy="463.4" r="0.9" fill="#e8321e" stroke="#ffb8a8" stroke-width="0.15"/>
<circle cx="196.3" cy="466.3" r="0.95" fill="#111"/>
<circle cx="217.2" cy="467.5" r="0.95" fill="#111"/>
<circle cx="216.1" cy="468.1" r="0.95" fill="#111"/>
<circle cx="126.6" cy="467.3" r="0.9" fill="#111"/>
<circle cx="178.9" cy="467.3" r="0.95" fill="#111"/>
<circle cx="123.6" cy="454.5" r="0.9" fill="#111"/>
<circle cx="116.6" cy="464.0" r="0.85" fill="#1f1f6e"/>
<circle cx="161.4" cy="465.9" r="0.9" fill="#e8321e" stroke="#ffb8a8" stroke-width="0.15"/>
<circle cx="136.5" cy="462.5" r="0.9" fill="#111"/>
<circle cx="130.0" cy="463.3" r="0.9" fill="#111"/>
<circle cx="203.1" cy="467.3" r="0.95" fill="#111"/>
<circle cx="109.0" cy="422.5" r="1.1" fill="#1f1f6e"/>
<circle cx="170.8" cy="436.2" r="1.1" fill="#e8321e" stroke="#ffb8a8" stroke-width="0.15"/>
<circle cx="68.0" cy="460.0" r="0.85" fill="#1f1f6e"/>
<circle cx="207.7" cy="466.9" r="0.95" fill="#111"/>
<circle cx="126.9" cy="467.8" r="0.9" fill="#111"/>
<circle cx="169.8" cy="467.4" r="0.95" fill="#111"/>
<circle cx="140.8" cy="458.8" r="0.9" fill="#e8321e" stroke="#ffb8a8" stroke-width="0.15"/>
<circle cx="140.4" cy="461.6" r="0.9" fill="#e8321e" stroke="#ffb8a8" stroke-width="0.15"/>
<circle cx="154.6" cy="462.2" r="0.9" fill="#e8321e" stroke="#ffb8a8" stroke-width="0.15"/>
<circle cx="150.4" cy="465.1" r="0.9" fill="#e8321e" stroke="#ffb8a8" stroke-width="0.15"/>
<circle cx="135.7" cy="467.2" r="0.9" fill="#111"/>
<circle cx="126.8" cy="466.7" r="0.9" fill="#111"/>
<circle cx="191.1" cy="467.7" r="0.95" fill="#111"/>
<circle cx="214.4" cy="467.2" r="0.95" fill="#111"/>
<circle cx="158.4" cy="461.3" r="0.9" fill="#e8321e" stroke="#ffb8a8" stroke-width="0.15"/>
<circle cx="143.8" cy="459.6" r="0.9" fill="#e8321e" stroke="#ffb8a8" stroke-width="0.15"/>
<circle cx="196.1" cy="463.2" r="0.9" fill="#e8321e" stroke="#ffb8a8" stroke-width="0.15"/>
<circle cx="212.6" cy="467.9" r="0.95" fill="#111"/>
<circle cx="133.5" cy="466.6" r="0.9" fill="#111"/>
<circle cx="126.7" cy="458.5" r="0.9" fill="#111"/>
<circle cx="144.8" cy="467.8" r="0.9" fill="#111"/>
<circle cx="145.5" cy="457.3" r="0.9" fill="#e8321e" stroke="#ffb8a8" stroke-width="0.15"/>
<circle cx="139.8" cy="465.1" r="0.9" fill="#111"/>
<circle cx="123.2" cy="464.3" r="0.9" fill="#111"/>
<circle cx="122.2" cy="460.9" r="0.85" fill="#1f1f6e"/>
<circle cx="131.3" cy="463.1" r="0.9" fill="#111"/>
<circle cx="161.6" cy="460.0" r="0.9" fill="#e8321e" stroke="#ffb8a8" stroke-width="0.15"/>
<circle cx="181.6" cy="466.0" r="0.9" fill="#111"/>
<circle cx="91.3" cy="465.4" r="0.85" fill="#1f1f6e"/>
<circle cx="125.4" cy="461.0" r="0.9" fill="#111"/>
<circle cx="132.3" cy="461.9" r="0.9" fill="#111"/>
<circle cx="130.2" cy="466.8" r="0.9" fill="#111"/>
<circle cx="91.0" cy="462.4" r="0.85" fill="#1f1f6e"/>
<circle cx="125.3" cy="453.2" r="0.9" fill="#111"/>
<circle cx="204.7" cy="466.8" r="0.95" fill="#111"/>
<circle cx="139.3" cy="450.9" r="0.9" fill="#111"/>
<circle cx="153.5" cy="467.3" r="0.9" fill="#e8321e" stroke="#ffb8a8" stroke-width="0.15"/>
<circle cx="148.9" cy="462.0" r="0.9" fill="#e8321e" stroke="#ffb8a8" stroke-width="0.15"/>
<circle cx="184.0" cy="466.8" r="0.95" fill="#111"/>
<circle cx="155.3" cy="457.9" r="0.9" fill="#e8321e" stroke="#ffb8a8" stroke-width="0.15"/>
<circle cx="181.1" cy="467.3" r="0.95" fill="#111"/>
<circle cx="158.2" cy="459.6" r="0.9" fill="#e8321e" stroke="#ffb8a8" stroke-width="0.15"/>
<circle cx="194.6" cy="467.1" r="0.95" fill="#111"/>
<circle cx="116.3" cy="451.6" r="0.85" fill="#1f1f6e"/>
<circle cx="152.5" cy="456.8" r="0.9" fill="#e8321e" stroke="#ffb8a8" stroke-width="0.15"/>
<circle cx="121.2" cy="452.8" r="0.85" fill="#1f1f6e"/>
<circle cx="181.7" cy="467.6" r="0.95" fill="#111"/>
<circle cx="140.4" cy="459.0" r="0.9" fill="#111"/>
<circle cx="120.0" cy="466.6" r="0.85" fill="#1f1f6e"/>
<circle cx="110.2" cy="465.3" r="0.85" fill="#1f1f6e"/>
<circle cx="168.1" cy="467.3" r="0.9" fill="#111"/>
<circle cx="156.6" cy="448.0" r="0.9" fill="#e8321e" stroke="#ffb8a8" stroke-width="0.15"/>
<circle cx="153.8" cy="467.7" r="0.9" fill="#e8321e" stroke="#ffb8a8" stroke-width="0.15"/>
<circle cx="85.8" cy="466.2" r="0.85" fill="#1f1f6e"/>
<circle cx="155.1" cy="466.5" r="0.9" fill="#e8321e" stroke="#ffb8a8" stroke-width="0.15"/>
<circle cx="146.0" cy="464.8" r="0.9" fill="#e8321e" stroke="#ffb8a8" stroke-width="0.15"/>
<circle cx="109.4" cy="446.9" r="0.85" fill="#1f1f6e"/>
<circle cx="144.5" cy="466.4" r="0.9" fill="#e8321e" stroke="#ffb8a8" stroke-width="0.15"/>
<circle cx="126.6" cy="466.1" r="0.9" fill="#111"/>
<circle cx="161.7" cy="467.6" r="0.9" fill="#111"/>
<circle cx="124.7" cy="463.7" r="0.9" fill="#111"/>
<circle cx="137.1" cy="468.1" r="0.9" fill="#111"/>
<circle cx="112.8" cy="467.4" r="0.85" fill="#1f1f6e"/>
<circle cx="127.3" cy="458.0" r="0.9" fill="#111"/>
<circle cx="172.3" cy="467.3" r="0.95" fill="#111"/>
<circle cx="139.3" cy="452.0" r="0.9" fill="#111"/>
<circle cx="148.4" cy="459.4" r="0.9" fill="#e8321e" stroke="#ffb8a8" stroke-width="0.15"/>
<circle cx="127.2" cy="465.6" r="0.9" fill="#111"/>
<circle cx="132.7" cy="460.7" r="0.9" fill="#111"/>
<circle cx="129.7" cy="467.4" r="0.9" fill="#111"/>
<circle cx="172.6" cy="467.4" r="0.95" fill="#111"/>
<circle cx="151.0" cy="466.3" r="0.9" fill="#e8321e" stroke="#ffb8a8" stroke-width="0.15"/>
<circle cx="145.8" cy="426.2" r="1.1" fill="#e8321e" stroke="#ffb8a8" stroke-width="0.15"/>
<circle cx="145.4" cy="463.6" r="0.9" fill="#e8321e" stroke="#ffb8a8" stroke-width="0.15"/>
<circle cx="143.0" cy="467.1" r="0.9" fill="#e8321e" stroke="#ffb8a8" stroke-width="0.15"/>
<circle cx="118.2" cy="457.4" r="0.85" fill="#1f1f6e"/>
<circle cx="202.3" cy="468.1" r="0.95" fill="#111"/>
<circle cx="154.5" cy="458.8" r="0.9" fill="#e8321e" stroke="#ffb8a8" stroke-width="0.15"/>
<circle cx="143.8" cy="463.2" r="0.9" fill="#e8321e" stroke="#ffb8a8" stroke-width="0.15"/>
<circle cx="143.9" cy="467.4" r="0.9" fill="#111"/>
<circle cx="141.2" cy="465.2" r="0.9" fill="#111"/>
<circle cx="139.0" cy="462.5" r="0.9" fill="#111"/>
<circle cx="124.1" cy="465.4" r="0.9" fill="#111"/>
<circle cx="128.9" cy="465.9" r="0.9" fill="#111"/>
<circle cx="134.1" cy="467.1" r="0.9" fill="#111"/>
<circle cx="149.5" cy="463.5" r="0.9" fill="#e8321e" stroke="#ffb8a8" stroke-width="0.15"/>
<circle cx="142.2" cy="467.8" r="0.9" fill="#111"/>
<circle cx="149.2" cy="458.5" r="0.9" fill="#e8321e" stroke="#ffb8a8" stroke-width="0.15"/>
<circle cx="132.8" cy="464.6" r="0.9" fill="#111"/>
<circle cx="104.1" cy="466.4" r="0.9" fill="#111"/>
<circle cx="126.9" cy="467.9" r="0.9" fill="#111"/>
<circle cx="136.1" cy="459.9" r="0.9" fill="#111"/>
<circle cx="140.7" cy="465.3" r="0.9" fill="#111"/>
<circle cx="198.6" cy="467.5" r="0.95" fill="#111"/>
<circle cx="125.0" cy="467.4" r="0.9" fill="#111"/>
<circle cx="110.2" cy="468.2" r="0.9" fill="#111"/>
<circle cx="197.2" cy="467.2" r="0.9" fill="#111"/>
<circle cx="122.0" cy="467.6" r="0.9" fill="#111"/>
<circle cx="114.9" cy="466.7" r="0.9" fill="#111"/>
<circle cx="123.2" cy="461.6" r="0.85" fill="#1f1f6e"/>
<circle cx="128.1" cy="459.5" r="0.9" fill="#111"/>
<circle cx="214.3" cy="467.1" r="0.95" fill="#111"/>
<circle cx="130.7" cy="467.7" r="0.9" fill="#111"/>
<circle cx="118.3" cy="460.6" r="0.85" fill="#1f1f6e"/>
<circle cx="108.7" cy="418.2" r="1.1" fill="#1f1f6e"/>
<circle cx="80.9" cy="467.4" r="0.9" fill="#111"/>
<circle cx="177.8" cy="465.3" r="0.95" fill="#111"/>
<circle cx="125.6" cy="459.5" r="0.9" fill="#111"/>
<circle cx="142.9" cy="468.2" r="0.9" fill="#e8321e" stroke="#ffb8a8" stroke-width="0.15"/>
<circle cx="143.1" cy="454.8" r="0.9" fill="#e8321e" stroke="#ffb8a8" stroke-width="0.15"/>
<circle cx="137.1" cy="467.3" r="0.9" fill="#111"/>
<circle cx="157.1" cy="454.0" r="0.9" fill="#e8321e" stroke="#ffb8a8" stroke-width="0.15"/>
<circle cx="133.6" cy="466.8" r="0.9" fill="#111"/>
<circle cx="128.9" cy="468.0" r="0.9" fill="#111"/>
<circle cx="138.2" cy="467.7" r="0.9" fill="#111"/>
<circle cx="162.6" cy="467.2" r="0.9" fill="#e8321e" stroke="#ffb8a8" stroke-width="0.15"/>
<circle cx="216.5" cy="467.5" r="0.95" fill="#111"/>
<circle cx="131.6" cy="467.9" r="0.9" fill="#111"/>
<circle cx="139.4" cy="461.8" r="0.9" fill="#111"/>
<circle cx="203.8" cy="467.4" r="0.95" fill="#111"/>
<circle cx="151.0" cy="467.0" r="0.9" fill="#e8321e" stroke="#ffb8a8" stroke-width="0.15"/>
<circle cx="118.0" cy="467.4" r="0.9" fill="#111"/>
<circle cx="120.8" cy="467.6" r="0.9" fill="#111"/>
<circle cx="120.1" cy="467.4" r="0.9" fill="#111"/>
<circle cx="97.8" cy="468.0" r="0.9" fill="#111"/>
<circle cx="172.4" cy="466.8" r="0.95" fill="#111"/>
<circle cx="162.3" cy="460.4" r="0.9" fill="#e8321e" stroke="#ffb8a8" stroke-width="0.15"/>
<circle cx="158.4" cy="463.6" r="0.9" fill="#e8321e" stroke="#ffb8a8" stroke-width="0.15"/>
<circle cx="149.9" cy="462.9" r="0.9" fill="#e8321e" stroke="#ffb8a8" stroke-width="0.15"/>
<circle cx="101.5" cy="460.8" r="0.85" fill="#1f1f6e"/>
<circle cx="209.3" cy="467.2" r="0.95" fill="#111"/>
<circle cx="142.3" cy="467.9" r="0.9" fill="#e8321e" stroke="#ffb8a8" stroke-width="0.15"/>
<circle cx="127.9" cy="460.2" r="0.9" fill="#111"/>
<circle cx="161.8" cy="465.5" r="0.9" fill="#e8321e" stroke="#ffb8a8" stroke-width="0.15"/>
<circle cx="188.0" cy="447.0" r="1.1" fill="#e8321e" stroke="#ffb8a8" stroke-width="0.15"/>
<circle cx="144.4" cy="461.2" r="0.9" fill="#e8321e" stroke="#ffb8a8" stroke-width="0.15"/>
<circle cx="162.5" cy="455.5" r="0.9" fill="#e8321e" stroke="#ffb8a8" stroke-width="0.15"/>
<circle cx="221.5" cy="466.6" r="0.95" fill="#111"/>
<circle cx="133.4" cy="456.2" r="0.9" fill="#111"/>
<circle cx="123.9" cy="459.7" r="0.9" fill="#111"/>
<circle cx="136.7" cy="458.4" r="0.9" fill="#111"/>
<circle cx="169.0" cy="467.9" r="0.95" fill="#111"/>
<circle cx="162.5" cy="468.1" r="0.9" fill="#111"/>
<circle cx="148.7" cy="462.7" r="0.9" fill="#e8321e" stroke="#ffb8a8" stroke-width="0.15"/>
<circle cx="171.5" cy="466.0" r="0.95" fill="#111"/>
<circle cx="158.5" cy="460.7" r="0.9" fill="#e8321e" stroke="#ffb8a8" stroke-width="0.15"/>
<circle cx="161.7" cy="461.3" r="0.9" fill="#e8321e" stroke="#ffb8a8" stroke-width="0.15"/>
<circle cx="137.2" cy="451.7" r="0.9" fill="#111"/>
<circle cx="134.5" cy="459.9" r="0.9" fill="#111"/>
<circle cx="152.7" cy="465.6" r="0.9" fill="#e8321e" stroke="#ffb8a8" stroke-width="0.15"/>
<circle cx="210.8" cy="466.6" r="0.95" fill="#111"/>
<circle cx="155.9" cy="466.1" r="0.95" fill="#111"/>
<circle cx="156.4" cy="459.3" r="0.9" fill="#e8321e" stroke="#ffb8a8" stroke-width="0.15"/>
<circle cx="137.1" cy="457.6" r="0.9" fill="#111"/>
<circle cx="176.9" cy="467.6" r="0.95" fill="#111"/>
<circle cx="198.5" cy="467.5" r="0.95" fill="#111"/>
<circle cx="164.2" cy="468.2" r="0.9" fill="#111"/>
<circle cx="173.6" cy="467.4" r="0.95" fill="#111"/>
<circle cx="148.5" cy="445.5" r="0.9" fill="#e8321e" stroke="#ffb8a8" stroke-width="0.15"/>
<circle cx="205.0" cy="458.0" r="1.1" fill="#e8321e" stroke="#ffb8a8" stroke-width="0.15"/>
<circle cx="145.2" cy="464.0" r="0.9" fill="#e8321e" stroke="#ffb8a8" stroke-width="0.15"/>
<circle cx="159.0" cy="468.0" r="0.9" fill="#e8321e" stroke="#ffb8a8" stroke-width="0.15"/>
<circle cx="158.1" cy="468.2" r="0.9" fill="#e8321e" stroke="#ffb8a8" stroke-width="0.15"/>
<circle cx="182.6" cy="467.3" r="0.9" fill="#111"/>
<circle cx="104.5" cy="467.2" r="0.85" fill="#1f1f6e"/>
<circle cx="129.7" cy="457.0" r="0.9" fill="#111"/>
<circle cx="121.7" cy="459.6" r="0.9" fill="#111"/>
<circle cx="88.4" cy="465.4" r="0.85" fill="#1f1f6e"/>
<circle cx="152.5" cy="468.1" r="0.9" fill="#111"/>
<circle cx="131.5" cy="467.5" r="0.9" fill="#111"/>
<circle cx="93.5" cy="461.8" r="0.85" fill="#1f1f6e"/>
<circle cx="183.1" cy="466.8" r="0.95" fill="#111"/>
<circle cx="154.5" cy="462.9" r="0.9" fill="#e8321e" stroke="#ffb8a8" stroke-width="0.15"/>
<circle cx="192.5" cy="468.0" r="0.95" fill="#111"/>
<circle cx="134.0" cy="462.0" r="0.9" fill="#111"/>
<circle cx="127.8" cy="465.2" r="0.9" fill="#111"/>
<circle cx="115.4" cy="448.2" r="0.85" fill="#1f1f6e"/>
<circle cx="106.9" cy="463.0" r="0.85" fill="#1f1f6e"/>
<circle cx="159.6" cy="463.2" r="0.9" fill="#e8321e" stroke="#ffb8a8" stroke-width="0.15"/>
<circle cx="149.8" cy="458.3" r="0.9" fill="#e8321e" stroke="#ffb8a8" stroke-width="0.15"/>
<circle cx="176.5" cy="467.7" r="0.95" fill="#111"/>
<circle cx="183.9" cy="467.2" r="0.95" fill="#111"/>
<circle cx="118.5" cy="467.6" r="0.9" fill="#111"/>
<circle cx="114.1" cy="449.5" r="0.85" fill="#1f1f6e"/>
<circle cx="131.5" cy="459.8" r="0.9" fill="#111"/>
<circle cx="86.1" cy="464.2" r="0.85" fill="#1f1f6e"/>
<line x1="84.8" y1="360" x2="84.8" y2="364.5" stroke="#8a8ac8" stroke-width="0.4"/>
<rect x="82.5" y="355.5" width="20.8" height="4.5" rx="0.8" fill="#f6f6fc" fill-opacity="0.92" stroke="#8c8cd0" stroke-width="0.5"/>
<text x="92.9" y="358.95" font-size="3.2" text-anchor="middle" fill="#3a3a90" textLength="16.64" lengthAdjust="spacingAndGlyphs">ANKRD36B</text>
<line x1="80.1" y1="412.3" x2="81" y2="416.8" stroke="#8a8ac8" stroke-width="0.4"/>
<rect x="66.3" y="407.6" width="13.8" height="4.7" rx="0.8" fill="#f6f6fc" fill-opacity="0.92" stroke="#8c8cd0" stroke-width="0.5"/>
<text x="73.2" y="411.15" font-size="3.2" text-anchor="middle" fill="#3a3a90" textLength="11.04" lengthAdjust="spacingAndGlyphs">PEAR1</text>
<line x1="55.6" y1="424.5" x2="55.6" y2="429.5" stroke="#8a8ac8" stroke-width="0.4"/>
<rect x="37.4" y="419.5" width="20.6" height="5.0" rx="0.8" fill="#f6f6fc" fill-opacity="0.92" stroke="#8c8cd0" stroke-width="0.5"/>
<text x="47.7" y="423.2" font-size="3.2" text-anchor="middle" fill="#3a3a90" textLength="16.48" lengthAdjust="spacingAndGlyphs">MTRNR2L1</text>
<line x1="100.6" y1="419" x2="100.6" y2="426.5" stroke="#8a8ac8" stroke-width="0.4"/>
<rect x="89.4" y="413.9" width="16.2" height="5.1" rx="0.8" fill="#f6f6fc" fill-opacity="0.92" stroke="#8c8cd0" stroke-width="0.5"/>
<text x="97.5" y="417.65" font-size="3.2" text-anchor="middle" fill="#3a3a90" textLength="12.96" lengthAdjust="spacingAndGlyphs">TRIM4L2</text>
<line x1="108.7" y1="413.3" x2="108.7" y2="418.2" stroke="#8a8ac8" stroke-width="0.4"/>
<rect x="108.7" y="409.0" width="8.2" height="4.3" rx="0.8" fill="#f6f6fc" fill-opacity="0.92" stroke="#8c8cd0" stroke-width="0.5"/>
<text x="112.8" y="412.35" font-size="3.2" text-anchor="middle" fill="#3a3a90" textLength="6.56" lengthAdjust="spacingAndGlyphs">AK5</text>
<line x1="113.3" y1="420.2" x2="109" y2="422.5" stroke="#8a8ac8" stroke-width="0.4"/>
<rect x="113.3" y="417.9" width="13.8" height="4.6" rx="0.8" fill="#f6f6fc" fill-opacity="0.92" stroke="#8c8cd0" stroke-width="0.5"/>
<text x="120.2" y="421.4" font-size="3.2" text-anchor="middle" fill="#3a3a90" textLength="11.04" lengthAdjust="spacingAndGlyphs">ABCB4</text>
<line x1="91.2" y1="427.6" x2="91.2" y2="431.9" stroke="#8a8ac8" stroke-width="0.4"/>
<rect x="81.5" y="422.6" width="11.7" height="5.0" rx="0.8" fill="#f6f6fc" fill-opacity="0.92" stroke="#8c8cd0" stroke-width="0.5"/>
<text x="87.35" y="426.3" font-size="3.2" text-anchor="middle" fill="#3a3a90" textLength="9.36" lengthAdjust="spacingAndGlyphs">PAX5</text>
<line x1="105.8" y1="430.2" x2="99.4" y2="431.7" stroke="#8a8ac8" stroke-width="0.4"/>
<rect x="105.8" y="425.6" width="10.6" height="4.6" rx="0.8" fill="#f6f6fc" fill-opacity="0.92" stroke="#8c8cd0" stroke-width="0.5"/>
<text x="111.1" y="429.1" font-size="3.2" text-anchor="middle" fill="#3a3a90" textLength="8.48" lengthAdjust="spacingAndGlyphs">ATP1</text>
<line x1="71" y1="433.5" x2="77.4" y2="430.6" stroke="#8a8ac8" stroke-width="0.4"/>
<rect x="57.6" y="433.5" width="13.4" height="5.4" rx="0.8" fill="#f6f6fc" fill-opacity="0.92" stroke="#8c8cd0" stroke-width="0.5"/>
<text x="64.3" y="437.4" font-size="3.2" text-anchor="middle" fill="#3a3a90" textLength="10.72" lengthAdjust="spacingAndGlyphs">PTX3A</text>
<line x1="74.6" y1="443.3" x2="70.6" y2="443.1" stroke="#8a8ac8" stroke-width="0.4"/>
<rect x="74.6" y="440.8" width="15.4" height="5.0" rx="0.8" fill="#f6f6fc" fill-opacity="0.92" stroke="#8c8cd0" stroke-width="0.5"/>
<text x="82.3" y="444.5" font-size="3.2" text-anchor="middle" fill="#3a3a90" textLength="12.32" lengthAdjust="spacingAndGlyphs">TNMD11</text>
<line x1="100.6" y1="440.8" x2="100.6" y2="436" stroke="#8a8ac8" stroke-width="0.4"/>
<rect x="96.9" y="440.8" width="11.6" height="5.3" rx="0.8" fill="#f6f6fc" fill-opacity="0.92" stroke="#8c8cd0" stroke-width="0.5"/>
<text x="102.7" y="444.65" font-size="3.2" text-anchor="middle" fill="#3a3a90" textLength="9.28" lengthAdjust="spacingAndGlyphs">CD79B</text>
<line x1="113.3" y1="438.1" x2="113.3" y2="436.3" stroke="#8a8ac8" stroke-width="0.4"/>
<rect x="111.5" y="438.1" width="13.1" height="4.9" rx="0.8" fill="#f6f6fc" fill-opacity="0.92" stroke="#8c8cd0" stroke-width="0.5"/>
<text x="118.05" y="441.75" font-size="3.2" text-anchor="middle" fill="#3a3a90" textLength="10.48" lengthAdjust="spacingAndGlyphs">PLEKHG</text>
<line x1="83.1" y1="451.3" x2="90" y2="452" stroke="#8a8ac8" stroke-width="0.4"/>
<rect x="65.4" y="448.8" width="17.7" height="5.0" rx="0.8" fill="#f6f6fc" fill-opacity="0.92" stroke="#8c8cd0" stroke-width="0.5"/>
<text x="74.25" y="452.5" font-size="3.2" text-anchor="middle" fill="#3a3a90" textLength="14.16" lengthAdjust="spacingAndGlyphs">CLEC17A</text>
<line x1="95" y1="456.1" x2="95" y2="458" stroke="#8a8ac8" stroke-width="0.4"/>
<rect x="89.2" y="451.2" width="16.2" height="4.9" rx="0.8" fill="#f6f6fc" fill-opacity="0.92" stroke="#8c8cd0" stroke-width="0.5"/>
<text x="97.3" y="454.85" font-size="3.2" text-anchor="middle" fill="#3a3a90" textLength="12.96" lengthAdjust="spacingAndGlyphs">CXCL13</text>
<line x1="85.8" y1="460.1" x2="90" y2="462" stroke="#8a8ac8" stroke-width="0.4"/>
<rect x="70.8" y="457.8" width="15.0" height="4.6" rx="0.8" fill="#f6f6fc" fill-opacity="0.92" stroke="#8c8cd0" stroke-width="0.5"/>
<text x="78.3" y="461.3" font-size="3.2" text-anchor="middle" fill="#3a3a90" textLength="12" lengthAdjust="spacingAndGlyphs">BANK1</text>
<line x1="118" y1="455" x2="118" y2="452" stroke="#8a8ac8" stroke-width="0.4"/>
<rect x="116.2" y="455.0" width="20.0" height="4.6" rx="0.8" fill="#f6f6fc" fill-opacity="0.92" stroke="#8c8cd0" stroke-width="0.5"/>
<text x="126.2" y="458.5" font-size="3.2" text-anchor="middle" fill="#3a3a90" textLength="16" lengthAdjust="spacingAndGlyphs">TNFRSF13B</text>
<line x1="92" y1="466.2" x2="92" y2="466" stroke="#8a8ac8" stroke-width="0.4"/>
<rect x="87.7" y="463.9" width="13.8" height="4.6" rx="0.8" fill="#f6f6fc" fill-opacity="0.92" stroke="#8c8cd0" stroke-width="0.5"/>
<text x="94.6" y="467.4" font-size="3.2" text-anchor="middle" fill="#3a3a90" textLength="11.04" lengthAdjust="spacingAndGlyphs">BLK</text>
<line x1="115" y1="466.5" x2="115" y2="466" stroke="#8a8ac8" stroke-width="0.4"/>
<rect x="114.6" y="464.2" width="13.9" height="4.6" rx="0.8" fill="#f6f6fc" fill-opacity="0.92" stroke="#8c8cd0" stroke-width="0.5"/>
<text x="121.55" y="467.7" font-size="3.2" text-anchor="middle" fill="#3a3a90" textLength="11.12" lengthAdjust="spacingAndGlyphs">CACNB</text>
<line x1="108" y1="471.2" x2="108" y2="468" stroke="#8a8ac8" stroke-width="0.4"/>
<rect x="104.6" y="471.2" width="12.3" height="4.0" rx="0.8" fill="#f6f6fc" fill-opacity="0.92" stroke="#8c8cd0" stroke-width="0.5"/>
<text x="110.75" y="474.4" font-size="3.2" text-anchor="middle" fill="#3a3a90" textLength="9.84" lengthAdjust="spacingAndGlyphs">BLNK</text>
<line x1="176.6" y1="392.5" x2="175.2" y2="397.3" stroke="#e8a090" stroke-width="0.4"/>
<rect x="176.6" y="387.9" width="13.2" height="4.6" rx="0.8" fill="#fff6f3" fill-opacity="0.92" stroke="#ec9a88" stroke-width="0.5"/>
<text x="183.2" y="391.4" font-size="3.2" text-anchor="middle" fill="#d8452a" textLength="10.56" lengthAdjust="spacingAndGlyphs">CXCL9</text>
<line x1="170.5" y1="418.2" x2="173.1" y2="423.4" stroke="#e8a090" stroke-width="0.4"/>
<rect x="159.7" y="412.6" width="10.8" height="5.6" rx="0.8" fill="#fff6f3" fill-opacity="0.92" stroke="#ec9a88" stroke-width="0.5"/>
<text x="165.1" y="416.6" font-size="3.2" text-anchor="middle" fill="#d8452a" textLength="8.64" lengthAdjust="spacingAndGlyphs">FCN1</text>
<line x1="176.2" y1="415.8" x2="176.2" y2="427.4" stroke="#e8a090" stroke-width="0.4"/>
<rect x="173.5" y="410.8" width="12.3" height="5.0" rx="0.8" fill="#fff6f3" fill-opacity="0.92" stroke="#ec9a88" stroke-width="0.5"/>
<text x="179.65" y="414.5" font-size="3.2" text-anchor="middle" fill="#d8452a" textLength="9.84" lengthAdjust="spacingAndGlyphs">AIRE1</text>
<line x1="181.8" y1="424.6" x2="178.5" y2="429.2" stroke="#e8a090" stroke-width="0.4"/>
<rect x="181.8" y="419.2" width="14.4" height="5.4" rx="0.8" fill="#fff6f3" fill-opacity="0.92" stroke="#ec9a88" stroke-width="0.5"/>
<text x="189" y="423.1" font-size="3.2" text-anchor="middle" fill="#d8452a" textLength="11.52" lengthAdjust="spacingAndGlyphs">CD86AL</text>
<line x1="167.4" y1="426.6" x2="167.4" y2="431.5" stroke="#e8a090" stroke-width="0.4"/>
<rect x="157.7" y="421.5" width="11.5" height="5.1" rx="0.8" fill="#fff6f3" fill-opacity="0.92" stroke="#ec9a88" stroke-width="0.5"/>
<text x="163.45" y="425.25" font-size="3.2" text-anchor="middle" fill="#d8452a" textLength="9.2" lengthAdjust="spacingAndGlyphs">CCL4</text>
<line x1="191.5" y1="429.6" x2="186.9" y2="428.5" stroke="#e8a090" stroke-width="0.4"/>
<rect x="191.5" y="426.9" width="16.2" height="5.4" rx="0.8" fill="#fff6f3" fill-opacity="0.92" stroke="#ec9a88" stroke-width="0.5"/>
<text x="199.6" y="430.8" font-size="3.2" text-anchor="middle" fill="#d8452a" textLength="12.96" lengthAdjust="spacingAndGlyphs">TPSAB1</text>
<line x1="160" y1="435.1" x2="160" y2="440" stroke="#e8a090" stroke-width="0.4"/>
<rect x="143.8" y="429.7" width="20.0" height="5.4" rx="0.8" fill="#fff6f3" fill-opacity="0.92" stroke="#ec9a88" stroke-width="0.5"/>
<text x="153.8" y="433.6" font-size="3.2" text-anchor="middle" fill="#d8452a" textLength="16" lengthAdjust="spacingAndGlyphs">ADAMTS4</text>
<line x1="183.8" y1="435.4" x2="179.2" y2="434.6" stroke="#e8a090" stroke-width="0.4"/>
<rect x="183.8" y="435.4" width="13.4" height="5.4" rx="0.8" fill="#fff6f3" fill-opacity="0.92" stroke="#ec9a88" stroke-width="0.5"/>
<text x="190.5" y="439.3" font-size="3.2" text-anchor="middle" fill="#d8452a" textLength="10.72" lengthAdjust="spacingAndGlyphs">TPSB2</text>
<line x1="147" y1="442.3" x2="147" y2="446" stroke="#e8a090" stroke-width="0.4"/>
<rect x="134.6" y="437.7" width="16.9" height="4.6" rx="0.8" fill="#fff6f3" fill-opacity="0.92" stroke="#ec9a88" stroke-width="0.5"/>
<text x="143.05" y="441.2" font-size="3.2" text-anchor="middle" fill="#d8452a" textLength="13.52" lengthAdjust="spacingAndGlyphs">APOC1</text>
<line x1="170.8" y1="443.8" x2="170.8" y2="436.2" stroke="#e8a090" stroke-width="0.4"/>
<rect x="165.4" y="443.8" width="14.9" height="5.1" rx="0.8" fill="#fff6f3" fill-opacity="0.92" stroke="#ec9a88" stroke-width="0.5"/>
<text x="172.85" y="447.55" font-size="3.2" text-anchor="middle" fill="#d8452a" textLength="11.92" lengthAdjust="spacingAndGlyphs">CHAD2</text>
<line x1="183.4" y1="443.8" x2="180" y2="440" stroke="#e8a090" stroke-width="0.4"/>
<rect x="183.4" y="443.8" width="11.2" height="5.4" rx="0.8" fill="#fff6f3" fill-opacity="0.92" stroke="#ec9a88" stroke-width="0.5"/>
<text x="189" y="447.7" font-size="3.2" text-anchor="middle" fill="#d8452a" textLength="8.96" lengthAdjust="spacingAndGlyphs">TCRL</text>
<line x1="140" y1="450.5" x2="140" y2="452" stroke="#e8a090" stroke-width="0.4"/>
<rect x="132.0" y="446.0" width="13.0" height="4.5" rx="0.8" fill="#fff6f3" fill-opacity="0.92" stroke="#ec9a88" stroke-width="0.5"/>
<text x="138.5" y="449.45" font-size="3.2" text-anchor="middle" fill="#d8452a" textLength="10.4" lengthAdjust="spacingAndGlyphs">NAMPT</text>
<line x1="150" y1="454.5" x2="150" y2="456" stroke="#e8a090" stroke-width="0.4"/>
<rect x="146.0" y="450.0" width="13.0" height="4.5" rx="0.8" fill="#fff6f3" fill-opacity="0.92" stroke="#ec9a88" stroke-width="0.5"/>
<text x="152.5" y="453.45" font-size="3.2" text-anchor="middle" fill="#d8452a" textLength="10.4" lengthAdjust="spacingAndGlyphs">CCL3</text>
<line x1="160" y1="461.5" x2="160" y2="462" stroke="#e8a090" stroke-width="0.4"/>
<rect x="159.0" y="457.0" width="17.0" height="4.5" rx="0.8" fill="#fff6f3" fill-opacity="0.92" stroke="#ec9a88" stroke-width="0.5"/>
<text x="167.5" y="460.45" font-size="3.2" text-anchor="middle" fill="#d8452a" textLength="13.6" lengthAdjust="spacingAndGlyphs">CXCL10</text>
<line x1="157" y1="464.75" x2="156" y2="465" stroke="#e8a090" stroke-width="0.4"/>
<rect x="157.0" y="462.5" width="13.0" height="4.5" rx="0.8" fill="#fff6f3" fill-opacity="0.92" stroke="#ec9a88" stroke-width="0.5"/>
<text x="163.5" y="465.95" font-size="3.2" text-anchor="middle" fill="#d8452a" textLength="10.4" lengthAdjust="spacingAndGlyphs">IL1B</text>
<line x1="150" y1="469.2" x2="150" y2="468" stroke="#e8a090" stroke-width="0.4"/>
<rect x="146.0" y="469.2" width="12.0" height="4.2" rx="0.8" fill="#fff6f3" fill-opacity="0.92" stroke="#ec9a88" stroke-width="0.5"/>
<text x="152" y="472.5" font-size="3.2" text-anchor="middle" fill="#d8452a" textLength="9.6" lengthAdjust="spacingAndGlyphs">SPP1</text>
<line x1="33.6" y1="299.5" x2="33.6" y2="479.1" stroke="#231f20" stroke-width="1.2"/>
<line x1="33" y1="478.6" x2="226.6" y2="478.6" stroke="#231f20" stroke-width="1.2"/>
<line x1="29.6" y1="468.2" x2="33.6" y2="468.2" stroke="#231f20" stroke-width="1"/>
<text x="27.4" y="471" font-size="8" text-anchor="end" fill="#333">0</text>
<line x1="29.6" y1="406.7" x2="33.6" y2="406.7" stroke="#231f20" stroke-width="1"/>
<text x="27.4" y="409.5" font-size="8" text-anchor="end" fill="#333">20</text>
<line x1="29.6" y1="345.2" x2="33.6" y2="345.2" stroke="#231f20" stroke-width="1"/>
<text x="27.4" y="348" font-size="8" text-anchor="end" fill="#333">40</text>
<line x1="43" y1="478.6" x2="43" y2="481.8" stroke="#231f20" stroke-width="1"/>
<text x="43" y="491.8" font-size="8" text-anchor="middle" fill="#333">−10</text>
<line x1="88" y1="478.6" x2="88" y2="481.8" stroke="#231f20" stroke-width="1"/>
<text x="88" y="491.8" font-size="8" text-anchor="middle" fill="#333">−5</text>
<line x1="133" y1="478.6" x2="133" y2="481.8" stroke="#231f20" stroke-width="1"/>
<text x="133" y="491.8" font-size="8" text-anchor="middle" fill="#333">0</text>
<line x1="178" y1="478.6" x2="178" y2="481.8" stroke="#231f20" stroke-width="1"/>
<text x="178" y="491.8" font-size="8" text-anchor="middle" fill="#333">5</text>
<line x1="223" y1="478.6" x2="223" y2="481.8" stroke="#231f20" stroke-width="1"/>
<text x="223" y="491.8" font-size="8" text-anchor="middle" fill="#333">10</text>
<text x="130.8" y="503.2" font-size="7.6" text-anchor="middle" fill="#333" textLength="53.5" lengthAdjust="spacingAndGlyphs">Log2foldchange</text>
<text transform="translate(15.2 385.6) rotate(-90)" font-size="7.4" text-anchor="middle" fill="#333" textLength="34.5" lengthAdjust="spacingAndGlyphs">-Log10p</text>
<path d="M45.9 521.7 L63.8 511.2 L63.8 515.6 L132.6 515.6 L132.6 527.3 L63.8 527.3 L63.8 532.3 Z" fill="#283593"/>
<path d="M222.6 521.7 L203.8 510.8 L203.8 515.6 L134.9 515.6 L134.9 527.3 L203.8 527.3 L203.8 532.3 Z" fill="#ec4119"/>
<text x="105.2" y="525.8" font-size="11" fill="#fff" textLength="26" lengthAdjust="spacingAndGlyphs">Down</text>
<text x="137" y="525.8" font-size="11" fill="#fff" textLength="12.5" lengthAdjust="spacingAndGlyphs">Up</text>
</g>
<g id="panelE">
<text x="237.5" y="408.8" font-size="14" font-weight="bold" textLength="8.6" lengthAdjust="spacingAndGlyphs">E</text>
<text transform="translate(246.8 503.5) rotate(-90)" font-size="7.4" text-anchor="middle" fill="#2a2a2a" textLength="42.4" lengthAdjust="spacingAndGlyphs">−10log(FDR)</text>
<line x1="274.5" y1="447.2" x2="274.5" y2="561.4" stroke="#231f20" stroke-width="1.1"/>
<line x1="271.4" y1="456.3" x2="274.5" y2="456.3" stroke="#231f20" stroke-width="1"/>
<text x="267.6" y="459" font-size="7.6" text-anchor="end" fill="#2a2a2a">400</text>
<line x1="271.4" y1="479.65" x2="274.5" y2="479.65" stroke="#231f20" stroke-width="1"/>
<text x="267.6" y="482.35" font-size="7.6" text-anchor="end" fill="#2a2a2a">200</text>
<line x1="271.4" y1="503" x2="274.5" y2="503" stroke="#231f20" stroke-width="1"/>
<text x="267.6" y="505.7" font-size="7.6" text-anchor="end" fill="#2a2a2a">0</text>
<line x1="271.4" y1="526.35" x2="274.5" y2="526.35" stroke="#231f20" stroke-width="1"/>
<text x="267.6" y="529.05" font-size="7.6" text-anchor="end" fill="#2a2a2a">−200</text>
<line x1="271.4" y1="549.7" x2="274.5" y2="549.7" stroke="#231f20" stroke-width="1"/>
<text x="267.6" y="552.4" font-size="7.6" text-anchor="end" fill="#2a2a2a">−400</text>
<rect x="280" y="452.8" width="19.2" height="50.2" fill="#ec4119"/>
<text transform="translate(287.6 449) rotate(-90)" font-size="6.5" fill="#2a2a2a" textLength="18.3" lengthAdjust="spacingAndGlyphs">FDR =</text>
<text transform="translate(295.6 449) rotate(-90)" font-size="6.5" fill="#2a2a2a">1.1e-13</text>
<text transform="translate(291.6 506.8) rotate(-90)" font-size="6.8" text-anchor="end" fill="#333" textLength="74" lengthAdjust="spacingAndGlyphs">TNFα signaling via NFκB</text>
<rect x="300.9" y="479.07" width="19.2" height="23.93" fill="#ec4119"/>
<text transform="translate(308.5 475.27) rotate(-90)" font-size="6.5" fill="#2a2a2a" textLength="18.3" lengthAdjust="spacingAndGlyphs">FDR =</text>
<text transform="translate(316.5 475.27) rotate(-90)" font-size="6.5" fill="#2a2a2a">6.2e-7</text>
<text transform="translate(312.5 506.8) rotate(-90)" font-size="6.8" text-anchor="end" fill="#333" textLength="68" lengthAdjust="spacingAndGlyphs">Inflammatory response</text>
<rect x="321.3" y="483.15" width="19.2" height="19.85" fill="#ec4119"/>
<text transform="translate(328.9 479.35) rotate(-90)" font-size="6.5" fill="#2a2a2a" textLength="18.3" lengthAdjust="spacingAndGlyphs">FDR =</text>
<text transform="translate(336.9 479.35) rotate(-90)" font-size="6.5" fill="#2a2a2a">5.5e-6</text>
<text transform="translate(332.9 506.8) rotate(-90)" font-size="6.8" text-anchor="end" fill="#333" textLength="30.5" lengthAdjust="spacingAndGlyphs">Apoptosis</text>
<rect x="341.7" y="489.34" width="19.2" height="13.66" fill="#ec4119"/>
<text transform="translate(349.3 485.54) rotate(-90)" font-size="6.5" fill="#2a2a2a" textLength="18.3" lengthAdjust="spacingAndGlyphs">FDR =</text>
<text transform="translate(357.3 485.54) rotate(-90)" font-size="6.5" fill="#2a2a2a">0.00022</text>
<text transform="translate(353.3 506.8) rotate(-90)" font-size="6.8" text-anchor="end" fill="#333" textLength="40.5" lengthAdjust="spacingAndGlyphs">Macrophages</text>
<rect x="362" y="490.39" width="19.2" height="12.61" fill="#ec4119"/>
<text transform="translate(369.6 486.59) rotate(-90)" font-size="6.5" fill="#2a2a2a" textLength="18.3" lengthAdjust="spacingAndGlyphs">FDR =</text>
<text transform="translate(377.6 486.59) rotate(-90)" font-size="6.5" fill="#2a2a2a">0.00055</text>
<text transform="translate(373.6 506.8) rotate(-90)" font-size="6.8" text-anchor="end" fill="#333" textLength="25.5" lengthAdjust="spacingAndGlyphs">Hypoxia</text>
<rect x="382.2" y="490.39" width="19.2" height="12.61" fill="#ec4119"/>
<text transform="translate(389.8 486.59) rotate(-90)" font-size="6.5" fill="#2a2a2a" textLength="18.3" lengthAdjust="spacingAndGlyphs">FDR =</text>
<text transform="translate(397.8 486.59) rotate(-90)" font-size="6.5" fill="#2a2a2a">0.00055</text>
<text transform="translate(393.8 506.8) rotate(-90)" font-size="6.8" text-anchor="end" fill="#333" textLength="60" lengthAdjust="spacingAndGlyphs">IL2 STAT5 signalling</text>
<rect x="402.8" y="503" width="19.2" height="8.17" fill="#262d8c"/>
<text transform="translate(410 515.77) rotate(-90)" font-size="6.5" text-anchor="end" fill="#2a2a2a" textLength="18.3" lengthAdjust="spacingAndGlyphs">FDR =</text>
<text transform="translate(418.2 515.77) rotate(-90)" font-size="6.5" text-anchor="end" fill="#2a2a2a">0.0041</text>
<text transform="translate(415 499.6) rotate(-90)" font-size="6.8" fill="#333" textLength="41.5" lengthAdjust="spacingAndGlyphs">BCR signaling</text>
<rect x="423" y="503" width="19.2" height="14.24" fill="#262d8c"/>
<text transform="translate(430.2 521.84) rotate(-90)" font-size="6.5" text-anchor="end" fill="#2a2a2a" textLength="18.3" lengthAdjust="spacingAndGlyphs">FDR =</text>
<text transform="translate(438.4 521.84) rotate(-90)" font-size="6.5" text-anchor="end" fill="#2a2a2a">0.00018</text>
<text transform="translate(435.2 499.6) rotate(-90)" font-size="6.8" fill="#333" textLength="55" lengthAdjust="spacingAndGlyphs">Immunodeficiency</text>
<rect x="443.7" y="503" width="19.2" height="27.55" fill="#262d8c"/>
<text transform="translate(450.9 535.15) rotate(-90)" font-size="6.5" text-anchor="end" fill="#2a2a2a" textLength="18.3" lengthAdjust="spacingAndGlyphs">FDR =</text>
<text transform="translate(459.1 535.15) rotate(-90)" font-size="6.5" text-anchor="end" fill="#2a2a2a">7.6e-08</text>
<text transform="translate(455.9 499.6) rotate(-90)" font-size="6.8" fill="#333" textLength="18" lengthAdjust="spacingAndGlyphs">B cells</text>
<rect x="464.2" y="503" width="19.2" height="48.8" fill="#262d8c"/>
<text transform="translate(471.4 556.4) rotate(-90)" font-size="6.5" text-anchor="end" fill="#2a2a2a" textLength="18.3" lengthAdjust="spacingAndGlyphs">FDR =</text>
<text transform="translate(479.6 556.4) rotate(-90)" font-size="6.5" text-anchor="end" fill="#2a2a2a">2e-13</text>
<text transform="translate(476.4 499.6) rotate(-90)" font-size="6.8" fill="#333" textLength="50" lengthAdjust="spacingAndGlyphs">Activated B cells</text>
<rect x="484.7" y="503" width="19.2" height="52.77" fill="#262d8c"/>
<text transform="translate(491.9 560.37) rotate(-90)" font-size="6.5" text-anchor="end" fill="#2a2a2a" textLength="18.3" lengthAdjust="spacingAndGlyphs">FDR =</text>
<text transform="translate(500.1 560.37) rotate(-90)" font-size="6.5" text-anchor="end" fill="#2a2a2a">1.9e-14</text>
<text transform="translate(496.9 499.6) rotate(-90)" font-size="6.8" fill="#333" textLength="27.5" lengthAdjust="spacingAndGlyphs">B lineage</text>
<rect x="441.1" y="602.6" width="11.5" height="4.3" fill="#ec4119"/>
<rect x="441.1" y="611.9" width="11.5" height="4.3" fill="#262d8c"/>
<text x="456.5" y="607.2" font-size="7.4" fill="#333" textLength="37" lengthAdjust="spacingAndGlyphs">upregulated</text>
<text x="456.5" y="616.5" font-size="7.4" fill="#333" textLength="45.7" lengthAdjust="spacingAndGlyphs">downregulated</text>
</g>
<rect x="0.5" y="0.5" width="519" height="625" fill="none" stroke="#3a3a3a" stroke-width="1"/>
</svg>
</body></html>
